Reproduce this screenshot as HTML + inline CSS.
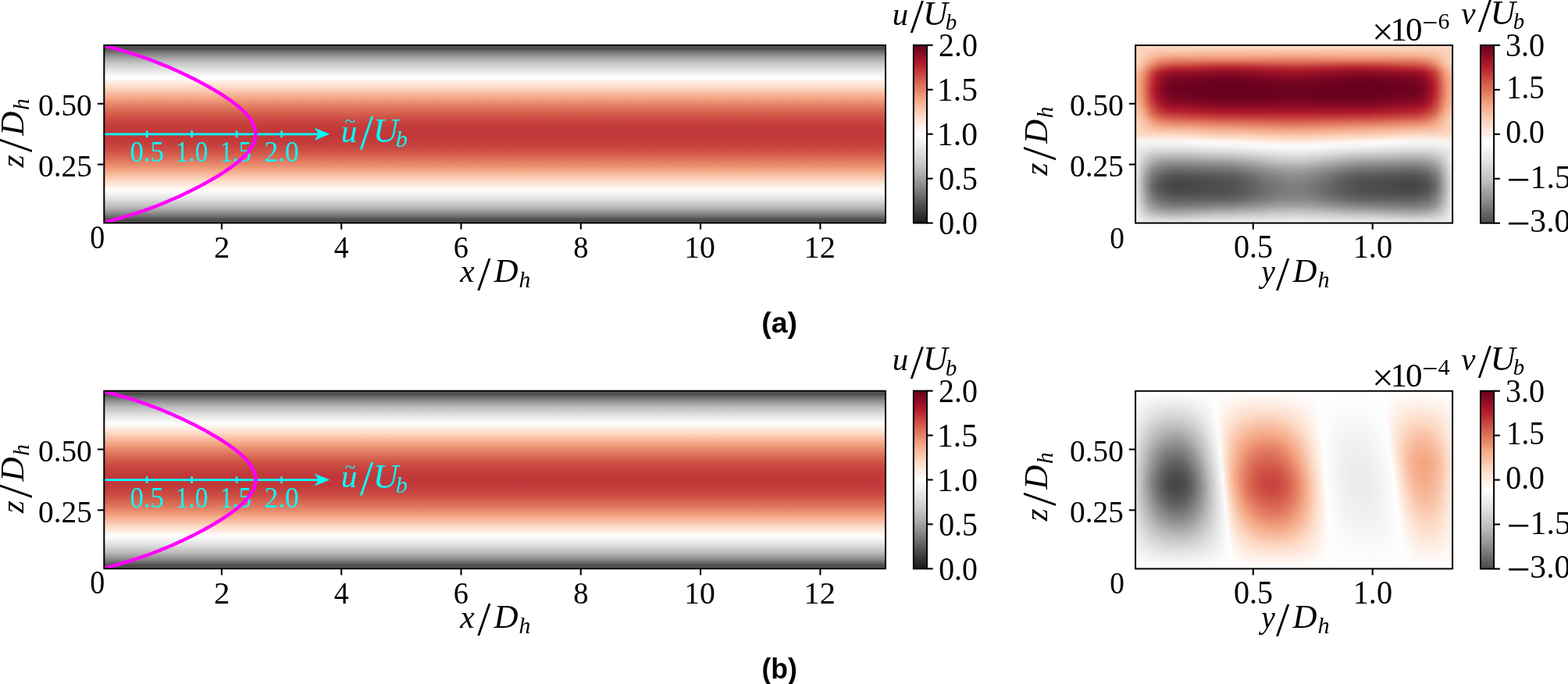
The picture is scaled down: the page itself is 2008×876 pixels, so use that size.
<!DOCTYPE html>
<html lang="en"><head><meta charset="utf-8"><title>Figure</title>
<style>
html,body{margin:0;padding:0;background:#fff}
body{width:2008px;height:876px;overflow:hidden;position:relative}
svg{display:block;position:absolute;left:0;top:0}
text{white-space:pre;font-kerning:none}
.fw{position:absolute;overflow:hidden}.fi{position:absolute}.fi i{position:absolute;top:0;height:100%;width:3.61px}
</style></head>
<body>
<div class="fw" style="left:1454.10px;top:58.00px;width:406.00px;height:227.65px"><div class="fi" style="left:-9.02px;top:-8px;width:424.04px;height:243.65px;filter:blur(1.2px)"><i style="left:0.0px;background:linear-gradient(#fdd9c4,#fdd9c4,#fcd5bf,#fcd5bf,#fcd5bf,#fcd5bf,#fcd5bf,#facab1,#f8bda1,#f7b799,#f7b596,#f6b394,#f6b191,#f6b191,#f6b394,#f7b799,#f8bb9e,#f9c4a9,#facab1,#fcd3bc,#fcd5bf,#fcd5bf,#fcd5bf,#fcd7c2,#feece1,#f8f8f8,#f0f0f0,#f0f0f0,#f0f0f0,#f0f0f0,#ededed,#ebebeb,#e9e9e9,#e7e7e7,#e6e6e6,#e5e5e5,#e5e5e5,#e6e6e6,#e7e7e7,#e9e9e9,#ebebeb,#ededed,#f0f0f0,#f0f0f0,#f0f0f0,#f0f0f0,#f0f0f0)"></i><i style="left:3.0px;background:linear-gradient(#fdd9c4,#fdd9c4,#fcd5bf,#fcd5bf,#fcd5bf,#fcd5bf,#fcd5bf,#facab1,#f8bda1,#f7b799,#f7b596,#f6b394,#f6b191,#f6b191,#f6b394,#f7b799,#f8bb9e,#f9c4a9,#facab1,#fcd3bc,#fcd5bf,#fcd5bf,#fcd5bf,#fcd7c2,#feece1,#f8f8f8,#f0f0f0,#f0f0f0,#f0f0f0,#f0f0f0,#ededed,#ebebeb,#e9e9e9,#e7e7e7,#e6e6e6,#e5e5e5,#e5e5e5,#e6e6e6,#e7e7e7,#e9e9e9,#ebebeb,#ededed,#f0f0f0,#f0f0f0,#f0f0f0,#f0f0f0,#f0f0f0)"></i><i style="left:6.0px;background:linear-gradient(#fdd9c4,#fdd9c4,#fcd5bf,#fcd5bf,#fcd5bf,#fcd5bf,#fcd5bf,#facab1,#f8bda1,#f7b799,#f7b596,#f6b394,#f6b191,#f6b191,#f6b394,#f7b799,#f8bb9e,#f9c4a9,#facab1,#fcd3bc,#fcd5bf,#fcd5bf,#fcd5bf,#fcd7c2,#feece1,#f8f8f8,#f0f0f0,#f0f0f0,#f0f0f0,#f0f0f0,#ededed,#ebebeb,#e9e9e9,#e7e7e7,#e6e6e6,#e5e5e5,#e5e5e5,#e6e6e6,#e7e7e7,#e9e9e9,#ebebeb,#ededed,#f0f0f0,#f0f0f0,#f0f0f0,#f0f0f0,#f0f0f0)"></i><i style="left:9.0px;background:linear-gradient(#fdd9c4,#fdd9c4,#fcd5bf,#fcd5bf,#fcd5bf,#fcd5bf,#fcd3bc,#f9c6ac,#f7b99c,#f6b394,#f6b191,#f6af8e,#f5ac8b,#f6af8e,#f6b191,#f6b394,#f7b99c,#f8bfa4,#f9c6ac,#fbd0b9,#fcd3bc,#fcd5bf,#fcd5bf,#fcd7c2,#feece1,#f8f8f8,#f0f0f0,#efefef,#ededed,#ededed,#ebebeb,#e7e7e7,#e5e5e5,#e4e4e4,#e2e2e2,#e1e1e1,#e1e1e1,#e2e2e2,#e4e4e4,#e5e5e5,#e7e7e7,#ebebeb,#ededed,#efefef,#efefef,#f0f0f0,#f0f0f0)"></i><i style="left:12.0px;background:linear-gradient(#fdd9c4,#fdd9c4,#fcd5bf,#fcd5bf,#fcd3bc,#fbd0b9,#fbccb4,#f8bfa4,#f6b191,#f5aa89,#f4a683,#f3a481,#f3a481,#f3a481,#f4a683,#f5aa89,#f6b191,#f7b799,#f8bfa4,#facab1,#fbceb7,#fbd0b9,#fcd3bc,#fcd7c2,#feece1,#f8f8f8,#efefef,#ebebeb,#e7e7e7,#e5e5e5,#e0e0e0,#dcdcdc,#d7d7d7,#d3d3d3,#d1d1d1,#d0d0d0,#d0d0d0,#d1d1d1,#d4d4d4,#d7d7d7,#dadada,#e0e0e0,#e5e5e5,#e9e9e9,#ededed,#f0f0f0,#f0f0f0)"></i><i style="left:15.0px;background:linear-gradient(#fdd9c4,#fdd9c4,#fcd5bf,#fcd3bc,#fbd0b9,#fbccb4,#f9c6ac,#f7b799,#f5a886,#f19e7d,#ef9979,#ee9677,#ee9677,#ee9677,#ef9979,#f19e7d,#f4a683,#f6af8e,#f7b799,#f9c4a9,#facab1,#fbceb7,#fcd3bc,#fcd7c2,#feece1,#f8f8f8,#ededed,#e7e7e7,#e1e1e1,#dadada,#d3d3d3,#cbcbcb,#c5c5c5,#c1c1c1,#bebebe,#bcbcbc,#bbbbbb,#bebebe,#c1c1c1,#c5c5c5,#cacaca,#d3d3d3,#dcdcdc,#e4e4e4,#ececec,#f0f0f0,#f0f0f0)"></i><i style="left:18.0px;background:linear-gradient(#fdd9c4,#fdd9c4,#fcd5bf,#fcd3bc,#fbccb4,#f9c4a9,#f8bda1,#f5aa89,#ee9677,#e98b6e,#e6866a,#e58368,#e48066,#e48066,#e58368,#e98b6e,#ec9374,#f2a17f,#f5aa89,#f7b99c,#f9c2a7,#fac8af,#fbceb7,#fcd7c2,#feece1,#f8f8f8,#ececec,#e5e5e5,#dcdcdc,#d1d1d1,#c8c8c8,#bfbfbf,#b7b7b7,#afafaf,#ababab,#a7a7a7,#a7a7a7,#ababab,#b1b1b1,#b7b7b7,#bebebe,#c8c8c8,#d3d3d3,#dfdfdf,#ebebeb,#f0f0f0,#f0f0f0)"></i><i style="left:21.1px;background:linear-gradient(#fdd9c4,#fdd9c4,#fcd5bf,#fbd0b9,#fac8af,#f8bda1,#f6b191,#ef9979,#e48066,#df765e,#dc6e57,#db6b55,#da6853,#da6853,#dc6e57,#df765e,#e37e64,#e98b6e,#f09c7b,#f5ac8b,#f7b99c,#f9c4a9,#fbccb4,#fcd7c2,#feece1,#f8f8f8,#ececec,#e2e2e2,#d6d6d6,#cacaca,#bebebe,#b3b3b3,#a7a7a7,#9f9f9f,#999999,#959595,#959595,#999999,#9f9f9f,#a7a7a7,#b1b1b1,#bebebe,#cbcbcb,#dadada,#eaeaea,#f0f0f0,#f0f0f0)"></i><i style="left:24.1px;background:linear-gradient(#fdd9c4,#fdd9c4,#fcd5bf,#fbceb7,#f9c4a9,#f7b596,#f4a683,#e8896c,#dc6e57,#d6604d,#d25849,#cf5246,#ce4f45,#cf5246,#d05548,#d6604d,#db6b55,#e17860,#e8896c,#f2a17f,#f6b191,#f8bda1,#facab1,#fcd7c2,#feece1,#f8f8f8,#ebebeb,#e0e0e0,#d0d0d0,#c2c2c2,#b5b5b5,#a5a5a5,#999999,#8f8f8f,#898989,#858585,#858585,#898989,#919191,#999999,#a3a3a3,#b5b5b5,#c5c5c5,#d6d6d6,#e9e9e9,#efefef,#efefef)"></i><i style="left:27.1px;background:linear-gradient(#fdd9c4,#fdd9c4,#fcd5bf,#fbccb4,#f8bfa4,#f6af8e,#ef9979,#e17860,#d35a4a,#cb4942,#c6413e,#c43b3c,#c2383a,#c2383a,#c53e3d,#cb4942,#d05548,#da6853,#e17860,#eb9172,#f5a886,#f7b799,#fac8af,#fcd7c2,#feece1,#f8f8f8,#ebebeb,#dddddd,#cdcdcd,#bebebe,#adadad,#9b9b9b,#8d8d8d,#828282,#7c7c7c,#777777,#757575,#7c7c7c,#858585,#8f8f8f,#999999,#ababab,#bfbfbf,#d3d3d3,#e7e7e7,#efefef,#efefef)"></i><i style="left:30.1px;background:linear-gradient(#fdd9c4,#fdd9c4,#fcd5bf,#fbccb4,#f8bb9e,#f5a886,#e98b6e,#da6853,#c94741,#c13639,#bb2a34,#ba2832,#b72230,#b82531,#bb2a34,#c13639,#c84440,#d05548,#da6853,#e58368,#f19e7d,#f6b394,#f9c6ac,#fcd7c2,#feece1,#f8f8f8,#eaeaea,#dcdcdc,#c8c8c8,#b7b7b7,#a5a5a5,#939393,#828282,#777777,#6e6e6e,#696969,#696969,#6e6e6e,#797979,#858585,#919191,#a3a3a3,#bbbbbb,#d0d0d0,#e7e7e7,#efefef,#efefef)"></i><i style="left:33.1px;background:linear-gradient(#fdd9c4,#fdd9c4,#fcd5bf,#facab1,#f7b99c,#f2a17f,#e58368,#d55d4c,#c2383a,#ba2832,#b41c2d,#b1182b,#ae172a,#ae172a,#b41c2d,#b82531,#c13639,#cb4942,#d55d4c,#e27b62,#ee9677,#f6af8e,#f9c4a9,#fcd7c2,#feece1,#f8f8f8,#eaeaea,#dadada,#c7c7c7,#b5b5b5,#9f9f9f,#8d8d8d,#7c7c7c,#707070,#676767,#636363,#606060,#676767,#737373,#7e7e7e,#8b8b8b,#9f9f9f,#b7b7b7,#cecece,#e6e6e6,#efefef,#efefef)"></i><i style="left:36.1px;background:linear-gradient(#fdd9c4,#fdd9c4,#fcd5bf,#facab1,#f7b799,#f09c7b,#e17860,#cf5246,#bb2a34,#b3192c,#a81529,#a21328,#9c1127,#9f1228,#a51429,#b1182b,#ba2832,#c43b3c,#cf5246,#dd7059,#eb9172,#f5aa89,#f9c2a7,#fcd7c2,#feece1,#f8f8f8,#eaeaea,#dadada,#c5c5c5,#b1b1b1,#9b9b9b,#898989,#777777,#696969,#606060,#5a5a5a,#5a5a5a,#606060,#6c6c6c,#777777,#878787,#9b9b9b,#b5b5b5,#cdcdcd,#e6e6e6,#efefef,#efefef)"></i><i style="left:39.1px;background:linear-gradient(#fdd9c4,#fdd9c4,#fcd5bf,#fac8af,#f7b596,#ee9677,#de735c,#cb4942,#b72230,#a81529,#9c1127,#960f27,#900d26,#930e26,#991027,#a81529,#b41c2d,#bf3338,#cb4942,#db6b55,#e98b6e,#f5a886,#f8bfa4,#fcd7c2,#feece1,#f8f8f8,#eaeaea,#d9d9d9,#c2c2c2,#adadad,#979797,#828282,#707070,#636363,#5a5a5a,#535353,#535353,#5a5a5a,#656565,#707070,#808080,#979797,#b1b1b1,#cbcbcb,#e6e6e6,#efefef,#efefef)"></i><i style="left:42.1px;background:linear-gradient(#fdd9c4,#fdd9c4,#fcd5bf,#fac8af,#f6b394,#ec9374,#dc6e57,#c6413e,#b3192c,#9c1127,#900d26,#8a0b25,#840924,#870a24,#900d26,#9c1127,#ae172a,#bb2a34,#c6413e,#d7634f,#e6866a,#f4a683,#f8bfa4,#fcd7c2,#feece1,#f8f8f8,#eaeaea,#d9d9d9,#c2c2c2,#ababab,#959595,#808080,#6e6e6e,#606060,#555555,#505050,#505050,#575757,#606060,#6e6e6e,#7e7e7e,#959595,#afafaf,#cacaca,#e6e6e6,#efefef,#efefef)"></i><i style="left:45.1px;background:linear-gradient(#fdd9c4,#fdd9c4,#fcd5bf,#fac8af,#f6b191,#eb9172,#da6853,#c43b3c,#ab162a,#960f27,#870a24,#810823,#7f0823,#7f0823,#870a24,#930e26,#a51429,#b82531,#c43b3c,#d6604d,#e58368,#f3a481,#f8bda1,#fcd7c2,#feece1,#f8f8f8,#eaeaea,#d7d7d7,#c1c1c1,#a9a9a9,#939393,#7e7e7e,#6c6c6c,#5c5c5c,#535353,#4e4e4e,#4c4c4c,#535353,#5e5e5e,#6c6c6c,#7c7c7c,#939393,#adadad,#cacaca,#e5e5e5,#efefef,#efefef)"></i><i style="left:48.1px;background:linear-gradient(#fdd9c4,#fdd9c4,#fcd5bf,#fac8af,#f6b191,#ea8e70,#d86551,#c13639,#a51429,#900d26,#810823,#7c0722,#760521,#790622,#810823,#8d0c25,#9f1228,#b61f2e,#c2383a,#d35a4a,#e48066,#f2a17f,#f8bda1,#fcd7c2,#feece1,#f8f8f8,#eaeaea,#d7d7d7,#c1c1c1,#a9a9a9,#919191,#7c7c7c,#676767,#5a5a5a,#505050,#4a4a4a,#4a4a4a,#505050,#5c5c5c,#696969,#797979,#919191,#adadad,#c8c8c8,#e5e5e5,#efefef,#efefef)"></i><i style="left:51.1px;background:linear-gradient(#fdd9c4,#fdd9c4,#fcd5bf,#fac8af,#f6af8e,#e98b6e,#d7634f,#bf3338,#a21328,#8a0b25,#7f0823,#760521,#730421,#730421,#7c0722,#8a0b25,#9c1127,#b41c2d,#bf3338,#d25849,#e37e64,#f2a17f,#f8bda1,#fcd7c2,#feece1,#f8f8f8,#eaeaea,#d7d7d7,#bfbfbf,#a7a7a7,#8f8f8f,#797979,#656565,#575757,#4e4e4e,#484848,#484848,#4e4e4e,#5a5a5a,#676767,#777777,#8f8f8f,#ababab,#c8c8c8,#e5e5e5,#efefef,#efefef)"></i><i style="left:54.1px;background:linear-gradient(#fdd9c4,#fdd9c4,#fcd5bf,#f9c6ac,#f6af8e,#e98b6e,#d6604d,#be3036,#9f1228,#870a24,#7c0722,#730421,#700320,#700320,#790622,#870a24,#991027,#b3192c,#bf3338,#d05548,#e27b62,#f2a17f,#f8bda1,#fcd7c2,#feece1,#f8f8f8,#eaeaea,#d7d7d7,#bfbfbf,#a7a7a7,#8f8f8f,#797979,#656565,#575757,#4c4c4c,#464646,#464646,#4c4c4c,#575757,#656565,#757575,#8f8f8f,#ababab,#c8c8c8,#e5e5e5,#efefef,#efefef)"></i><i style="left:57.1px;background:linear-gradient(#fdd9c4,#fdd9c4,#fcd5bf,#f9c6ac,#f6af8e,#e8896c,#d55d4c,#bd2d35,#9c1127,#840924,#790622,#700320,#6d0220,#6d0220,#760521,#840924,#960f27,#b1182b,#be3036,#d05548,#e27b62,#f19e7d,#f8bda1,#fcd7c2,#feece1,#f8f8f8,#eaeaea,#d6d6d6,#bfbfbf,#a5a5a5,#8f8f8f,#777777,#636363,#555555,#4c4c4c,#464646,#464646,#4c4c4c,#575757,#656565,#757575,#8d8d8d,#ababab,#c8c8c8,#e5e5e5,#efefef,#efefef)"></i><i style="left:60.1px;background:linear-gradient(#fdd9c4,#fdd9c4,#fcd5bf,#f9c6ac,#f6af8e,#e8896c,#d55d4c,#bd2d35,#9c1127,#840924,#790622,#700320,#6d0220,#6d0220,#760521,#840924,#960f27,#b1182b,#be3036,#d05548,#e27b62,#f19e7d,#f8bda1,#fcd7c2,#feece1,#f8f8f8,#e9e9e9,#d6d6d6,#bfbfbf,#a5a5a5,#8d8d8d,#777777,#636363,#555555,#4a4a4a,#464646,#464646,#4c4c4c,#575757,#656565,#757575,#8d8d8d,#a9a9a9,#c7c7c7,#e5e5e5,#efefef,#efefef)"></i><i style="left:63.2px;background:linear-gradient(#fdd9c4,#fdd9c4,#fcd5bf,#f9c6ac,#f6af8e,#e8896c,#d55d4c,#bd2d35,#9c1127,#840924,#790622,#700320,#6d0220,#6d0220,#760521,#840924,#960f27,#b1182b,#be3036,#d05548,#e27b62,#f19e7d,#f8bda1,#fcd7c2,#feece1,#f8f8f8,#e9e9e9,#d6d6d6,#bfbfbf,#a5a5a5,#8d8d8d,#777777,#636363,#555555,#4a4a4a,#464646,#444444,#4a4a4a,#555555,#656565,#757575,#8d8d8d,#a9a9a9,#c7c7c7,#e5e5e5,#efefef,#efefef)"></i><i style="left:66.2px;background:linear-gradient(#fdd9c4,#fdd9c4,#fcd5bf,#f9c6ac,#f6af8e,#e8896c,#d55d4c,#bd2d35,#9c1127,#840924,#760521,#700320,#6a011f,#6d0220,#760521,#810823,#960f27,#ae172a,#bd2d35,#cf5246,#e17860,#f19e7d,#f8bb9e,#fcd7c2,#feece1,#fafafa,#eaeaea,#d7d7d7,#bfbfbf,#a5a5a5,#8d8d8d,#777777,#636363,#555555,#4a4a4a,#464646,#464646,#4a4a4a,#555555,#656565,#757575,#8d8d8d,#ababab,#c8c8c8,#e5e5e5,#efefef,#efefef)"></i><i style="left:69.2px;background:linear-gradient(#fdd9c4,#fdd9c4,#fcd5bf,#f9c6ac,#f6af8e,#e8896c,#d55d4c,#bb2a34,#9c1127,#840924,#760521,#700320,#6a011f,#6d0220,#730421,#810823,#930e26,#ae172a,#bd2d35,#cf5246,#e17860,#f19e7d,#f8bb9e,#fcd5bf,#feece1,#fafafa,#eaeaea,#d7d7d7,#bfbfbf,#a7a7a7,#8f8f8f,#777777,#636363,#555555,#4a4a4a,#464646,#464646,#4c4c4c,#575757,#656565,#757575,#8f8f8f,#ababab,#c8c8c8,#e5e5e5,#efefef,#efefef)"></i><i style="left:72.2px;background:linear-gradient(#fddbc7,#fddbc7,#fcd5bf,#f9c6ac,#f6af8e,#e8896c,#d35a4a,#bb2a34,#991027,#810823,#760521,#700320,#6a011f,#6d0220,#730421,#810823,#930e26,#ae172a,#bd2d35,#cf5246,#e17860,#f09c7b,#f7b99c,#fcd5bf,#feebdf,#fbfbfb,#ebebeb,#d7d7d7,#c1c1c1,#a7a7a7,#8f8f8f,#777777,#656565,#555555,#4c4c4c,#464646,#464646,#4c4c4c,#575757,#656565,#757575,#8f8f8f,#ababab,#c8c8c8,#e6e6e6,#f0f0f0,#f0f0f0)"></i><i style="left:75.2px;background:linear-gradient(#fddbc7,#fddbc7,#fcd5bf,#f9c6ac,#f6af8e,#e8896c,#d35a4a,#bb2a34,#991027,#810823,#760521,#700320,#6a011f,#6d0220,#730421,#810823,#930e26,#ab162a,#bd2d35,#ce4f45,#df765e,#f09c7b,#f7b99c,#fcd5bf,#feebdf,#fbfbfb,#ebebeb,#d9d9d9,#c1c1c1,#a7a7a7,#8f8f8f,#777777,#656565,#555555,#4c4c4c,#484848,#464646,#4c4c4c,#575757,#656565,#757575,#8f8f8f,#adadad,#cacaca,#e6e6e6,#f0f0f0,#f0f0f0)"></i><i style="left:78.2px;background:linear-gradient(#fddbc7,#fddbc7,#fcd5bf,#f9c6ac,#f6af8e,#e8896c,#d35a4a,#ba2832,#991027,#810823,#730421,#6d0220,#6a011f,#6d0220,#730421,#7f0823,#900d26,#ab162a,#bb2a34,#ce4f45,#df765e,#f09c7b,#f7b99c,#fcd3bc,#feebdf,#fcfcfc,#ececec,#d9d9d9,#c1c1c1,#a7a7a7,#8f8f8f,#797979,#656565,#555555,#4c4c4c,#484848,#484848,#4c4c4c,#575757,#656565,#777777,#8f8f8f,#adadad,#cacaca,#e6e6e6,#f0f0f0,#f0f0f0)"></i><i style="left:81.2px;background:linear-gradient(#fddbc7,#fddbc7,#fcd5bf,#f9c6ac,#f6af8e,#e8896c,#d25849,#ba2832,#991027,#810823,#730421,#6d0220,#6a011f,#6d0220,#730421,#7f0823,#900d26,#ab162a,#bb2a34,#ce4f45,#df765e,#ef9979,#f7b799,#fcd3bc,#fee9dd,#fcfcfc,#ececec,#dadada,#c2c2c2,#a9a9a9,#8f8f8f,#797979,#656565,#575757,#4c4c4c,#484848,#484848,#4c4c4c,#575757,#656565,#777777,#919191,#afafaf,#cbcbcb,#e6e6e6,#f0f0f0,#f0f0f0)"></i><i style="left:84.2px;background:linear-gradient(#fddcc9,#fddcc9,#fcd7c2,#f9c6ac,#f5ac8b,#e8896c,#d25849,#ba2832,#960f27,#810823,#730421,#6d0220,#6a011f,#6a011f,#700320,#7f0823,#900d26,#a81529,#bb2a34,#cc4c44,#df765e,#ef9979,#f7b799,#fcd3bc,#fee9dd,#fdfdfd,#ececec,#dadada,#c2c2c2,#a9a9a9,#8f8f8f,#797979,#656565,#575757,#4c4c4c,#484848,#484848,#4c4c4c,#575757,#656565,#777777,#919191,#afafaf,#cbcbcb,#e6e6e6,#f0f0f0,#f0f0f0)"></i><i style="left:87.2px;background:linear-gradient(#fddcc9,#fddcc9,#fcd7c2,#f9c6ac,#f5ac8b,#e8896c,#d25849,#b82531,#960f27,#810823,#730421,#6d0220,#6a011f,#6a011f,#700320,#7c0722,#8d0c25,#a81529,#ba2832,#cc4c44,#de735c,#ef9979,#f7b799,#fbd0b9,#fee8db,#fdfdfd,#ededed,#dadada,#c4c4c4,#a9a9a9,#919191,#797979,#656565,#575757,#4e4e4e,#4a4a4a,#4a4a4a,#4c4c4c,#575757,#656565,#777777,#919191,#afafaf,#cbcbcb,#e7e7e7,#f0f0f0,#f0f0f0)"></i><i style="left:90.2px;background:linear-gradient(#fddcc9,#fddcc9,#fcd7c2,#f9c6ac,#f5ac8b,#e8896c,#d05548,#b82531,#960f27,#7f0823,#730421,#6d0220,#6a011f,#6a011f,#700320,#7c0722,#8d0c25,#a81529,#ba2832,#cc4c44,#de735c,#ee9677,#f7b596,#fbd0b9,#fee8db,#fefefe,#ededed,#dcdcdc,#c4c4c4,#a9a9a9,#919191,#797979,#676767,#575757,#4e4e4e,#4a4a4a,#4a4a4a,#4e4e4e,#575757,#656565,#797979,#939393,#b1b1b1,#cdcdcd,#e7e7e7,#f0f0f0,#f0f0f0)"></i><i style="left:93.2px;background:linear-gradient(#fddcc9,#fddcc9,#fcd7c2,#f9c6ac,#f5ac8b,#e8896c,#d05548,#b82531,#960f27,#7f0823,#700320,#6d0220,#67001f,#6a011f,#700320,#7c0722,#8d0c25,#a51429,#ba2832,#cb4942,#de735c,#ee9677,#f7b596,#fbd0b9,#fee8db,#fefefe,#efefef,#dcdcdc,#c4c4c4,#ababab,#919191,#797979,#676767,#575757,#4e4e4e,#4a4a4a,#4a4a4a,#4e4e4e,#575757,#656565,#797979,#939393,#b1b1b1,#cdcdcd,#e7e7e7,#f0f0f0,#f0f0f0)"></i><i style="left:96.2px;background:linear-gradient(#fddecb,#fddecb,#fcd7c2,#f9c6ac,#f5ac8b,#e8896c,#d05548,#b72230,#960f27,#7f0823,#700320,#6a011f,#67001f,#6a011f,#6d0220,#790622,#8a0b25,#a51429,#b82531,#cb4942,#dd7059,#ee9677,#f7b596,#fbceb7,#fee6d9,#fffefe,#efefef,#dddddd,#c5c5c5,#ababab,#919191,#7c7c7c,#676767,#575757,#4e4e4e,#4a4a4a,#4a4a4a,#4e4e4e,#575757,#676767,#797979,#939393,#b3b3b3,#cdcdcd,#e7e7e7,#f0f0f0,#f0f0f0)"></i><i style="left:99.2px;background:linear-gradient(#fddecb,#fddecb,#fcd7c2,#f9c6ac,#f5ac8b,#e8896c,#d05548,#b72230,#930e26,#7f0823,#700320,#6a011f,#67001f,#6a011f,#6d0220,#790622,#8a0b25,#a51429,#b82531,#cb4942,#dd7059,#ee9677,#f6b394,#fbceb7,#fee6d9,#fffefe,#efefef,#dddddd,#c5c5c5,#ababab,#919191,#7c7c7c,#676767,#5a5a5a,#4e4e4e,#4c4c4c,#4c4c4c,#4e4e4e,#575757,#676767,#797979,#959595,#b3b3b3,#cecece,#e7e7e7,#f0f0f0,#f0f0f0)"></i><i style="left:102.3px;background:linear-gradient(#fddecb,#fddecb,#fcd7c2,#f9c4a9,#f5ac8b,#e8896c,#cf5246,#b72230,#930e26,#7f0823,#700320,#6a011f,#67001f,#6a011f,#6d0220,#790622,#870a24,#a21328,#b82531,#c94741,#dd7059,#ec9374,#f6b394,#fbceb7,#fee6d9,#fffdfc,#f0f0f0,#dddddd,#c7c7c7,#ababab,#919191,#7c7c7c,#676767,#5a5a5a,#505050,#4c4c4c,#4c4c4c,#4e4e4e,#575757,#676767,#7c7c7c,#959595,#b3b3b3,#cecece,#e9e9e9,#f0f0f0,#f0f0f0)"></i><i style="left:105.3px;background:linear-gradient(#fddecb,#fddecb,#fcd7c2,#f9c4a9,#f5ac8b,#e8896c,#cf5246,#b61f2e,#930e26,#7c0722,#700320,#6a011f,#67001f,#6a011f,#6d0220,#760521,#870a24,#a21328,#b82531,#c94741,#dc6e57,#ec9374,#f6b394,#fbccb4,#fee5d6,#fffdfc,#f0f0f0,#dfdfdf,#c7c7c7,#adadad,#939393,#7c7c7c,#696969,#5a5a5a,#505050,#4c4c4c,#4c4c4c,#4e4e4e,#575757,#676767,#7c7c7c,#959595,#b5b5b5,#d0d0d0,#e9e9e9,#f0f0f0,#f0f0f0)"></i><i style="left:108.3px;background:linear-gradient(#fddfce,#fddfce,#fdd9c4,#f9c4a9,#f5ac8b,#e8896c,#cf5246,#b61f2e,#930e26,#7c0722,#6d0220,#6a011f,#67001f,#67001f,#6a011f,#760521,#870a24,#9f1228,#b72230,#c94741,#dc6e57,#ec9374,#f6b191,#fbccb4,#fee5d6,#fffbfa,#f1f1f1,#dfdfdf,#c7c7c7,#adadad,#939393,#7c7c7c,#696969,#5a5a5a,#505050,#4e4e4e,#4e4e4e,#4e4e4e,#5a5a5a,#676767,#7c7c7c,#979797,#b5b5b5,#d0d0d0,#e9e9e9,#f0f0f0,#f0f0f0)"></i><i style="left:111.3px;background:linear-gradient(#fddfce,#fddfce,#fdd9c4,#f9c4a9,#f5ac8b,#e8896c,#ce4f45,#b61f2e,#930e26,#7c0722,#6d0220,#6a011f,#67001f,#67001f,#6a011f,#760521,#840924,#9f1228,#b72230,#c84440,#dc6e57,#eb9172,#f6b191,#fbccb4,#fee5d6,#fffbfa,#f1f1f1,#dfdfdf,#c8c8c8,#adadad,#939393,#7c7c7c,#696969,#5a5a5a,#505050,#4e4e4e,#4e4e4e,#505050,#5a5a5a,#676767,#7c7c7c,#979797,#b7b7b7,#d0d0d0,#e9e9e9,#f0f0f0,#f0f0f0)"></i><i style="left:114.3px;background:linear-gradient(#fddfce,#fddfce,#fdd9c4,#f9c4a9,#f5ac8b,#e8896c,#ce4f45,#b41c2d,#900d26,#7c0722,#6d0220,#67001f,#67001f,#67001f,#6a011f,#730421,#840924,#9f1228,#b72230,#c84440,#db6b55,#eb9172,#f6af8e,#facab1,#fde3d4,#fffaf7,#f2f2f2,#e0e0e0,#c8c8c8,#adadad,#939393,#7e7e7e,#696969,#5a5a5a,#505050,#4e4e4e,#4e4e4e,#505050,#5a5a5a,#676767,#7c7c7c,#979797,#b7b7b7,#d1d1d1,#eaeaea,#f0f0f0,#f0f0f0)"></i><i style="left:117.3px;background:linear-gradient(#fddfce,#fddfce,#fdd9c4,#f9c4a9,#f5ac8b,#e8896c,#ce4f45,#b41c2d,#900d26,#7c0722,#6d0220,#67001f,#67001f,#67001f,#6a011f,#730421,#840924,#9c1127,#b61f2e,#c84440,#db6b55,#eb9172,#f6af8e,#facab1,#fde3d4,#fffaf7,#f2f2f2,#e0e0e0,#c8c8c8,#adadad,#939393,#7e7e7e,#696969,#5c5c5c,#535353,#4e4e4e,#4e4e4e,#505050,#5a5a5a,#676767,#7e7e7e,#979797,#b7b7b7,#d1d1d1,#eaeaea,#f0f0f0,#f0f0f0)"></i><i style="left:120.3px;background:linear-gradient(#fddfce,#fddfce,#fdd9c4,#f9c4a9,#f5ac8b,#e8896c,#ce4f45,#b41c2d,#900d26,#7c0722,#6d0220,#67001f,#67001f,#67001f,#6a011f,#730421,#840924,#9c1127,#b61f2e,#c84440,#db6b55,#eb9172,#f6af8e,#facab1,#fde3d4,#fffaf7,#f2f2f2,#e0e0e0,#c8c8c8,#afafaf,#939393,#7e7e7e,#696969,#5c5c5c,#535353,#4e4e4e,#4e4e4e,#505050,#5a5a5a,#676767,#7e7e7e,#999999,#b7b7b7,#d1d1d1,#eaeaea,#f0f0f0,#f0f0f0)"></i><i style="left:123.3px;background:linear-gradient(#fddfce,#fddfce,#fdd9c4,#f9c4a9,#f5ac8b,#e8896c,#ce4f45,#b41c2d,#900d26,#7c0722,#6d0220,#67001f,#67001f,#67001f,#6a011f,#730421,#840924,#9c1127,#b61f2e,#c84440,#db6b55,#eb9172,#f6af8e,#facab1,#fde3d4,#fffaf7,#f2f2f2,#e0e0e0,#cacaca,#afafaf,#959595,#7e7e7e,#6c6c6c,#5c5c5c,#535353,#505050,#505050,#505050,#5a5a5a,#676767,#7e7e7e,#999999,#b9b9b9,#d1d1d1,#eaeaea,#f0f0f0,#f0f0f0)"></i><i style="left:126.3px;background:linear-gradient(#fddfce,#fddfce,#fdd9c4,#f9c4a9,#f5ac8b,#e8896c,#ce4f45,#b41c2d,#900d26,#7c0722,#6d0220,#67001f,#67001f,#67001f,#6a011f,#730421,#840924,#9c1127,#b61f2e,#c84440,#db6b55,#eb9172,#f6af8e,#facab1,#fde3d4,#fff9f5,#f2f2f2,#e1e1e1,#cacaca,#afafaf,#959595,#7e7e7e,#6c6c6c,#5c5c5c,#535353,#505050,#505050,#505050,#5a5a5a,#696969,#7e7e7e,#999999,#b9b9b9,#d1d1d1,#eaeaea,#f0f0f0,#f0f0f0)"></i><i style="left:129.3px;background:linear-gradient(#fddfce,#fddfce,#fdd9c4,#f9c4a9,#f5ac8b,#e8896c,#ce4f45,#b41c2d,#900d26,#7c0722,#6d0220,#67001f,#67001f,#67001f,#6a011f,#730421,#840924,#9c1127,#b61f2e,#c84440,#db6b55,#ea8e70,#f6af8e,#facab1,#fde3d4,#fff9f5,#f2f2f2,#e1e1e1,#cacaca,#afafaf,#959595,#808080,#6c6c6c,#5e5e5e,#555555,#505050,#505050,#535353,#5c5c5c,#696969,#7e7e7e,#999999,#b9b9b9,#d1d1d1,#eaeaea,#f0f0f0,#f0f0f0)"></i><i style="left:132.3px;background:linear-gradient(#fddfce,#fddfce,#fdd9c4,#f9c4a9,#f5ac8b,#e8896c,#ce4f45,#b41c2d,#930e26,#7c0722,#6d0220,#67001f,#67001f,#67001f,#6a011f,#730421,#840924,#9c1127,#b61f2e,#c84440,#db6b55,#ea8e70,#f6af8e,#facab1,#fde2d2,#fff9f5,#f3f3f3,#e1e1e1,#cbcbcb,#b1b1b1,#979797,#808080,#6e6e6e,#5e5e5e,#555555,#535353,#535353,#535353,#5c5c5c,#696969,#808080,#999999,#b9b9b9,#d3d3d3,#eaeaea,#f0f0f0,#f0f0f0)"></i><i style="left:135.3px;background:linear-gradient(#fddfce,#fddfce,#fdd9c4,#f9c4a9,#f5ac8b,#e8896c,#ce4f45,#b41c2d,#930e26,#7c0722,#6d0220,#6a011f,#67001f,#67001f,#6a011f,#730421,#840924,#9c1127,#b61f2e,#c84440,#db6b55,#ea8e70,#f6af8e,#facab1,#fde2d2,#fff9f5,#f3f3f3,#e1e1e1,#cbcbcb,#b1b1b1,#979797,#828282,#707070,#606060,#575757,#535353,#535353,#555555,#5e5e5e,#6c6c6c,#808080,#9b9b9b,#b9b9b9,#d3d3d3,#eaeaea,#f0f0f0,#f0f0f0)"></i><i style="left:138.3px;background:linear-gradient(#fddfce,#fddfce,#fdd9c4,#f9c4a9,#f5ac8b,#e8896c,#ce4f45,#b41c2d,#930e26,#7c0722,#6d0220,#6a011f,#67001f,#67001f,#6a011f,#730421,#840924,#9c1127,#b61f2e,#c84440,#da6853,#ea8e70,#f5ac8b,#fac8af,#fde2d2,#fff9f5,#f3f3f3,#e2e2e2,#cdcdcd,#b3b3b3,#999999,#858585,#707070,#636363,#575757,#555555,#555555,#555555,#5e5e5e,#6c6c6c,#828282,#9b9b9b,#bbbbbb,#d3d3d3,#eaeaea,#f0f0f0,#f0f0f0)"></i><i style="left:141.3px;background:linear-gradient(#fddfce,#fddfce,#fdd9c4,#f9c4a9,#f5ac8b,#e8896c,#ce4f45,#b41c2d,#930e26,#7f0823,#700320,#6a011f,#67001f,#67001f,#6a011f,#730421,#840924,#9c1127,#b61f2e,#c84440,#da6853,#ea8e70,#f5ac8b,#fac8af,#fde2d2,#fff7f3,#f5f5f5,#e2e2e2,#cdcdcd,#b5b5b5,#9b9b9b,#858585,#737373,#636363,#5a5a5a,#575757,#575757,#575757,#606060,#6e6e6e,#828282,#9d9d9d,#bbbbbb,#d3d3d3,#eaeaea,#f1f1f1,#f1f1f1)"></i><i style="left:144.4px;background:linear-gradient(#fddfce,#fddfce,#fdd9c4,#f9c4a9,#f5ac8b,#e8896c,#ce4f45,#b61f2e,#930e26,#7f0823,#700320,#6a011f,#67001f,#67001f,#6a011f,#730421,#840924,#9c1127,#b61f2e,#c6413e,#da6853,#ea8e70,#f5ac8b,#fac8af,#fde1d0,#fff7f3,#f5f5f5,#e4e4e4,#cecece,#b7b7b7,#9d9d9d,#878787,#757575,#656565,#5c5c5c,#5a5a5a,#5a5a5a,#5a5a5a,#606060,#707070,#858585,#9d9d9d,#bcbcbc,#d4d4d4,#eaeaea,#f1f1f1,#f1f1f1)"></i><i style="left:147.4px;background:linear-gradient(#fddfce,#fddfce,#fdd9c4,#f9c4a9,#f5ac8b,#e8896c,#cf5246,#b61f2e,#960f27,#7f0823,#700320,#6a011f,#67001f,#6a011f,#6a011f,#760521,#840924,#9c1127,#b61f2e,#c6413e,#da6853,#e98b6e,#f5ac8b,#fac8af,#fde1d0,#fff7f3,#f6f6f6,#e4e4e4,#cecece,#b7b7b7,#9f9f9f,#898989,#777777,#676767,#5e5e5e,#5c5c5c,#5a5a5a,#5c5c5c,#636363,#707070,#858585,#9f9f9f,#bcbcbc,#d4d4d4,#eaeaea,#f1f1f1,#f1f1f1)"></i><i style="left:150.4px;background:linear-gradient(#fddfce,#fddfce,#fdd9c4,#f9c4a9,#f5aa89,#e8896c,#cf5246,#b61f2e,#960f27,#7f0823,#700320,#6a011f,#67001f,#6a011f,#6a011f,#760521,#840924,#9c1127,#b61f2e,#c6413e,#da6853,#e98b6e,#f5ac8b,#fac8af,#fde1d0,#fef6f1,#f6f6f6,#e5e5e5,#d0d0d0,#b9b9b9,#9f9f9f,#8b8b8b,#797979,#696969,#606060,#5e5e5e,#5c5c5c,#5e5e5e,#656565,#737373,#878787,#9f9f9f,#bebebe,#d4d4d4,#ebebeb,#f1f1f1,#f1f1f1)"></i><i style="left:153.4px;background:linear-gradient(#fddfce,#fddfce,#fdd9c4,#f9c4a9,#f5aa89,#e6866a,#cf5246,#b61f2e,#960f27,#810823,#730421,#6a011f,#67001f,#6a011f,#6a011f,#760521,#840924,#9f1228,#b61f2e,#c6413e,#da6853,#e98b6e,#f5aa89,#f9c6ac,#fddfce,#fef6f1,#f7f7f7,#e5e5e5,#d1d1d1,#bbbbbb,#a1a1a1,#8d8d8d,#7c7c7c,#6c6c6c,#636363,#606060,#5e5e5e,#5e5e5e,#676767,#757575,#898989,#a1a1a1,#bebebe,#d4d4d4,#ebebeb,#f1f1f1,#f1f1f1)"></i><i style="left:156.4px;background:linear-gradient(#fddfce,#fddfce,#fdd9c4,#f9c4a9,#f5aa89,#e6866a,#cf5246,#b61f2e,#960f27,#810823,#730421,#6a011f,#6a011f,#6a011f,#6a011f,#760521,#870a24,#9f1228,#b61f2e,#c6413e,#da6853,#e98b6e,#f5aa89,#f9c6ac,#fddfce,#fef6f1,#f7f7f7,#e6e6e6,#d3d3d3,#bcbcbc,#a3a3a3,#8f8f8f,#7e7e7e,#6e6e6e,#656565,#636363,#606060,#606060,#696969,#777777,#898989,#a3a3a3,#bfbfbf,#d6d6d6,#ebebeb,#f1f1f1,#f1f1f1)"></i><i style="left:159.4px;background:linear-gradient(#fddfce,#fddfce,#fdd9c4,#f9c4a9,#f5aa89,#e6866a,#d05548,#b72230,#991027,#810823,#730421,#6d0220,#6a011f,#6a011f,#6a011f,#760521,#870a24,#9f1228,#b61f2e,#c6413e,#d86551,#e98b6e,#f5aa89,#f9c6ac,#fddfce,#fef4ef,#f8f8f8,#e7e7e7,#d3d3d3,#bebebe,#a5a5a5,#919191,#808080,#707070,#676767,#656565,#636363,#636363,#6c6c6c,#777777,#8b8b8b,#a3a3a3,#bfbfbf,#d6d6d6,#ebebeb,#f1f1f1,#f1f1f1)"></i><i style="left:162.4px;background:linear-gradient(#fddfce,#fddfce,#fdd9c4,#f9c4a9,#f5aa89,#e6866a,#d05548,#b72230,#991027,#840924,#730421,#6d0220,#6a011f,#6a011f,#6a011f,#760521,#870a24,#9f1228,#b61f2e,#c6413e,#d86551,#e8896c,#f5aa89,#f9c6ac,#fddecb,#fef4ef,#f8f8f8,#e7e7e7,#d4d4d4,#bfbfbf,#a7a7a7,#939393,#828282,#737373,#696969,#676767,#656565,#656565,#6c6c6c,#797979,#8d8d8d,#a5a5a5,#c1c1c1,#d6d6d6,#ebebeb,#f1f1f1,#f1f1f1)"></i><i style="left:165.4px;background:linear-gradient(#fddfce,#fddfce,#fdd9c4,#f9c4a9,#f5aa89,#e6866a,#d05548,#b72230,#991027,#840924,#760521,#6d0220,#6a011f,#6a011f,#6a011f,#760521,#870a24,#9f1228,#b61f2e,#c6413e,#d86551,#e8896c,#f5aa89,#f9c4a9,#fddecb,#fef4ef,#fafafa,#e9e9e9,#d6d6d6,#c1c1c1,#ababab,#959595,#858585,#777777,#6e6e6e,#696969,#676767,#676767,#6e6e6e,#7c7c7c,#8d8d8d,#a7a7a7,#c1c1c1,#d7d7d7,#ebebeb,#f1f1f1,#f1f1f1)"></i><i style="left:168.4px;background:linear-gradient(#fddfce,#fddfce,#fdd9c4,#f9c4a9,#f5aa89,#e6866a,#d05548,#b72230,#9c1127,#840924,#760521,#6d0220,#6a011f,#6a011f,#6a011f,#760521,#870a24,#9f1228,#b61f2e,#c6413e,#d86551,#e8896c,#f5a886,#f9c4a9,#fddecb,#fef3ec,#fafafa,#eaeaea,#d7d7d7,#c2c2c2,#adadad,#979797,#878787,#797979,#707070,#6c6c6c,#696969,#696969,#707070,#7e7e7e,#8f8f8f,#a7a7a7,#c2c2c2,#d7d7d7,#ebebeb,#f2f2f2,#f2f2f2)"></i><i style="left:171.4px;background:linear-gradient(#fddfce,#fddfce,#fdd9c4,#f9c4a9,#f5aa89,#e6866a,#d05548,#b72230,#9c1127,#870a24,#760521,#6d0220,#6a011f,#6a011f,#6a011f,#760521,#870a24,#9f1228,#b61f2e,#c6413e,#d86551,#e8896c,#f5a886,#f9c4a9,#fddcc9,#fef3ec,#fbfbfb,#eaeaea,#d7d7d7,#c4c4c4,#afafaf,#999999,#898989,#7c7c7c,#737373,#6e6e6e,#6c6c6c,#6c6c6c,#737373,#808080,#919191,#a9a9a9,#c2c2c2,#d7d7d7,#ececec,#f2f2f2,#f2f2f2)"></i><i style="left:174.4px;background:linear-gradient(#fddfce,#fddfce,#fdd9c4,#f9c4a9,#f5aa89,#e6866a,#d25849,#b72230,#9c1127,#870a24,#760521,#6d0220,#6a011f,#6a011f,#6d0220,#760521,#870a24,#9f1228,#b61f2e,#c6413e,#d86551,#e6866a,#f5a886,#f9c4a9,#fddcc9,#fef3ec,#fbfbfb,#ebebeb,#d9d9d9,#c5c5c5,#b1b1b1,#9b9b9b,#8b8b8b,#7e7e7e,#757575,#707070,#6e6e6e,#6e6e6e,#757575,#808080,#939393,#a9a9a9,#c4c4c4,#d9d9d9,#ececec,#f2f2f2,#f2f2f2)"></i><i style="left:177.4px;background:linear-gradient(#fddfce,#fddfce,#fdd9c4,#f9c4a9,#f5aa89,#e6866a,#d25849,#b82531,#9c1127,#870a24,#790622,#700320,#6a011f,#6a011f,#6d0220,#760521,#870a24,#9f1228,#b61f2e,#c6413e,#d7634f,#e6866a,#f5a886,#f9c2a7,#fddbc7,#fef2ea,#fcfcfc,#ebebeb,#dadada,#c7c7c7,#b3b3b3,#9d9d9d,#8d8d8d,#808080,#777777,#737373,#707070,#707070,#777777,#828282,#939393,#ababab,#c4c4c4,#d9d9d9,#ececec,#f2f2f2,#f2f2f2)"></i><i style="left:180.4px;background:linear-gradient(#fddfce,#fddfce,#fdd9c4,#f9c4a9,#f5aa89,#e6866a,#d25849,#b82531,#9f1228,#870a24,#790622,#700320,#6a011f,#6d0220,#6d0220,#760521,#870a24,#9f1228,#b61f2e,#c6413e,#d7634f,#e6866a,#f4a683,#f9c2a7,#fddbc7,#fef2ea,#fcfcfc,#ececec,#dcdcdc,#c8c8c8,#b3b3b3,#9f9f9f,#8f8f8f,#828282,#797979,#757575,#737373,#737373,#777777,#858585,#959595,#adadad,#c5c5c5,#d9d9d9,#ececec,#f2f2f2,#f2f2f2)"></i><i style="left:183.5px;background:linear-gradient(#fddfce,#fddfce,#fdd9c4,#f9c4a9,#f5a886,#e6866a,#d25849,#b82531,#9f1228,#8a0b25,#790622,#700320,#6d0220,#6d0220,#6d0220,#760521,#870a24,#9f1228,#b61f2e,#c6413e,#d7634f,#e6866a,#f4a683,#f9c2a7,#fddbc7,#fef2ea,#fdfdfd,#ececec,#dcdcdc,#c8c8c8,#b5b5b5,#a1a1a1,#919191,#858585,#7c7c7c,#777777,#757575,#757575,#797979,#878787,#959595,#adadad,#c5c5c5,#dadada,#ececec,#f2f2f2,#f2f2f2)"></i><i style="left:186.5px;background:linear-gradient(#fddfce,#fddfce,#fdd9c4,#f9c4a9,#f5a886,#e6866a,#d25849,#b82531,#9f1228,#8a0b25,#790622,#700320,#6d0220,#6d0220,#6d0220,#790622,#8a0b25,#9f1228,#b61f2e,#c6413e,#d7634f,#e6866a,#f4a683,#f9c2a7,#fdd9c4,#fef0e8,#fdfdfd,#ededed,#dddddd,#cacaca,#b7b7b7,#a3a3a3,#939393,#878787,#7e7e7e,#777777,#757575,#777777,#7c7c7c,#878787,#979797,#afafaf,#c7c7c7,#dadada,#ececec,#f2f2f2,#f2f2f2)"></i><i style="left:189.5px;background:linear-gradient(#fddfce,#fddfce,#fdd9c4,#f9c4a9,#f5a886,#e58368,#d35a4a,#b82531,#9f1228,#8a0b25,#790622,#700320,#6d0220,#6d0220,#6d0220,#790622,#8a0b25,#9f1228,#b61f2e,#c6413e,#d7634f,#e58368,#f4a683,#f9c2a7,#fdd9c4,#fef0e8,#fdfdfd,#ededed,#dddddd,#cbcbcb,#b9b9b9,#a5a5a5,#959595,#898989,#808080,#797979,#777777,#777777,#7e7e7e,#898989,#999999,#afafaf,#c7c7c7,#dadada,#ececec,#f2f2f2,#f2f2f2)"></i><i style="left:192.5px;background:linear-gradient(#fddfce,#fddfce,#fdd9c4,#f9c4a9,#f5a886,#e58368,#d35a4a,#b82531,#a21328,#8a0b25,#7c0722,#700320,#6d0220,#6d0220,#6d0220,#790622,#8a0b25,#9f1228,#b61f2e,#c53e3d,#d7634f,#e58368,#f4a683,#f8bfa4,#fdd9c4,#fef0e8,#fefefe,#efefef,#dfdfdf,#cdcdcd,#bbbbbb,#a5a5a5,#959595,#898989,#808080,#7c7c7c,#797979,#797979,#7e7e7e,#898989,#999999,#b1b1b1,#c7c7c7,#dadada,#ececec,#f2f2f2,#f2f2f2)"></i><i style="left:195.5px;background:linear-gradient(#fddfce,#fddfce,#fdd9c4,#f9c4a9,#f5a886,#e58368,#d35a4a,#b82531,#a21328,#8d0c25,#7c0722,#700320,#6d0220,#6d0220,#6d0220,#790622,#8a0b25,#9f1228,#b61f2e,#c53e3d,#d7634f,#e58368,#f4a683,#f8bfa4,#fdd9c4,#feefe6,#fefefe,#efefef,#dfdfdf,#cdcdcd,#bbbbbb,#a7a7a7,#979797,#8b8b8b,#828282,#7e7e7e,#797979,#797979,#808080,#8b8b8b,#999999,#b1b1b1,#c8c8c8,#dcdcdc,#ededed,#f2f2f2,#f2f2f2)"></i><i style="left:198.5px;background:linear-gradient(#fddfce,#fddfce,#fdd9c4,#f9c4a9,#f5a886,#e58368,#d35a4a,#ba2832,#a21328,#8d0c25,#7c0722,#700320,#6d0220,#6d0220,#6d0220,#790622,#8a0b25,#9f1228,#b61f2e,#c53e3d,#d6604d,#e58368,#f4a683,#f8bfa4,#fdd9c4,#feefe6,#fefefe,#efefef,#e0e0e0,#cecece,#bcbcbc,#a9a9a9,#979797,#8d8d8d,#858585,#7e7e7e,#7c7c7c,#7c7c7c,#808080,#8b8b8b,#9b9b9b,#b1b1b1,#c8c8c8,#dcdcdc,#ededed,#f3f3f3,#f3f3f3)"></i><i style="left:201.5px;background:linear-gradient(#fddfce,#fddfce,#fdd9c4,#f9c4a9,#f5a886,#e58368,#d35a4a,#ba2832,#a21328,#8d0c25,#7c0722,#700320,#6d0220,#6d0220,#6d0220,#790622,#8a0b25,#9f1228,#b61f2e,#c53e3d,#d6604d,#e58368,#f3a481,#f8bfa4,#fcd7c2,#feefe6,#fefefe,#f0f0f0,#e0e0e0,#cecece,#bcbcbc,#a9a9a9,#999999,#8d8d8d,#858585,#7e7e7e,#7c7c7c,#7c7c7c,#808080,#8b8b8b,#9b9b9b,#b3b3b3,#c8c8c8,#dcdcdc,#ededed,#f3f3f3,#f3f3f3)"></i><i style="left:204.5px;background:linear-gradient(#fddfce,#fddfce,#fdd9c4,#f9c4a9,#f5a886,#e58368,#d35a4a,#ba2832,#a21328,#8d0c25,#7c0722,#700320,#6d0220,#6d0220,#6d0220,#790622,#8a0b25,#9f1228,#b61f2e,#c53e3d,#d6604d,#e58368,#f3a481,#f8bfa4,#fcd7c2,#feefe6,#fffefe,#f0f0f0,#e0e0e0,#cecece,#bcbcbc,#a9a9a9,#999999,#8d8d8d,#858585,#808080,#7e7e7e,#7e7e7e,#828282,#8d8d8d,#9b9b9b,#b3b3b3,#c8c8c8,#dcdcdc,#ededed,#f3f3f3,#f3f3f3)"></i><i style="left:207.5px;background:linear-gradient(#fddfce,#fddfce,#fdd9c4,#f9c4a9,#f5a886,#e58368,#d35a4a,#ba2832,#a21328,#8d0c25,#7c0722,#700320,#6d0220,#6d0220,#6d0220,#790622,#8a0b25,#9f1228,#b61f2e,#c53e3d,#d6604d,#e58368,#f3a481,#f8bfa4,#fcd7c2,#feefe6,#fffefe,#f0f0f0,#e0e0e0,#cecece,#bebebe,#a9a9a9,#999999,#8f8f8f,#878787,#808080,#7e7e7e,#7e7e7e,#828282,#8d8d8d,#9b9b9b,#b3b3b3,#c8c8c8,#dcdcdc,#ededed,#f3f3f3,#f3f3f3)"></i><i style="left:210.5px;background:linear-gradient(#fddfce,#fddfce,#fdd9c4,#f9c4a9,#f5a886,#e58368,#d35a4a,#ba2832,#a21328,#8d0c25,#7c0722,#700320,#6d0220,#6d0220,#6d0220,#790622,#8a0b25,#9f1228,#b61f2e,#c53e3d,#d6604d,#e58368,#f3a481,#f8bfa4,#fcd7c2,#feefe6,#fffefe,#f0f0f0,#e0e0e0,#d0d0d0,#bebebe,#ababab,#999999,#8f8f8f,#878787,#808080,#7e7e7e,#7e7e7e,#828282,#8d8d8d,#9b9b9b,#b3b3b3,#c8c8c8,#dcdcdc,#ededed,#f3f3f3,#f3f3f3)"></i><i style="left:213.5px;background:linear-gradient(#fddfce,#fddfce,#fdd9c4,#f9c4a9,#f5a886,#e58368,#d35a4a,#ba2832,#a21328,#8d0c25,#7c0722,#700320,#6d0220,#6d0220,#6d0220,#790622,#8a0b25,#9f1228,#b61f2e,#c53e3d,#d6604d,#e58368,#f3a481,#f8bfa4,#fcd7c2,#feefe6,#fffefe,#f0f0f0,#e0e0e0,#cecece,#bebebe,#a9a9a9,#999999,#8f8f8f,#878787,#808080,#7e7e7e,#7e7e7e,#828282,#8d8d8d,#9b9b9b,#b3b3b3,#c8c8c8,#dcdcdc,#ededed,#f3f3f3,#f3f3f3)"></i><i style="left:216.5px;background:linear-gradient(#fddfce,#fddfce,#fdd9c4,#f9c4a9,#f5a886,#e58368,#d35a4a,#ba2832,#a21328,#8d0c25,#7c0722,#700320,#6d0220,#6d0220,#6d0220,#790622,#8a0b25,#9f1228,#b61f2e,#c53e3d,#d6604d,#e58368,#f3a481,#f8bfa4,#fcd7c2,#feefe6,#fffefe,#f0f0f0,#e0e0e0,#cecece,#bcbcbc,#a9a9a9,#999999,#8d8d8d,#858585,#808080,#7e7e7e,#7e7e7e,#828282,#8d8d8d,#9b9b9b,#b3b3b3,#c8c8c8,#dcdcdc,#ededed,#f3f3f3,#f3f3f3)"></i><i style="left:219.5px;background:linear-gradient(#fddfce,#fddfce,#fdd9c4,#f9c4a9,#f5a886,#e58368,#d35a4a,#ba2832,#a21328,#8d0c25,#7c0722,#700320,#6d0220,#6d0220,#6d0220,#790622,#8a0b25,#9f1228,#b61f2e,#c53e3d,#d6604d,#e58368,#f3a481,#f8bfa4,#fcd7c2,#feefe6,#fefefe,#f0f0f0,#e0e0e0,#cecece,#bcbcbc,#a9a9a9,#999999,#8d8d8d,#858585,#7e7e7e,#7c7c7c,#7c7c7c,#808080,#8b8b8b,#9b9b9b,#b3b3b3,#c8c8c8,#dcdcdc,#ededed,#f3f3f3,#f3f3f3)"></i><i style="left:222.5px;background:linear-gradient(#fddfce,#fddfce,#fdd9c4,#f9c4a9,#f5a886,#e58368,#d35a4a,#ba2832,#a21328,#8d0c25,#7c0722,#700320,#6d0220,#6d0220,#6d0220,#790622,#8a0b25,#9f1228,#b61f2e,#c53e3d,#d6604d,#e58368,#f4a683,#f8bfa4,#fdd9c4,#feefe6,#fefefe,#efefef,#e0e0e0,#cecece,#bcbcbc,#a9a9a9,#979797,#8d8d8d,#858585,#7e7e7e,#7c7c7c,#7c7c7c,#808080,#8b8b8b,#9b9b9b,#b1b1b1,#c8c8c8,#dcdcdc,#ededed,#f3f3f3,#f3f3f3)"></i><i style="left:225.6px;background:linear-gradient(#fddfce,#fddfce,#fdd9c4,#f9c4a9,#f5a886,#e58368,#d35a4a,#b82531,#a21328,#8d0c25,#7c0722,#700320,#6d0220,#6d0220,#6d0220,#790622,#8a0b25,#9f1228,#b61f2e,#c53e3d,#d7634f,#e58368,#f4a683,#f8bfa4,#fdd9c4,#feefe6,#fefefe,#efefef,#dfdfdf,#cdcdcd,#bbbbbb,#a7a7a7,#979797,#8b8b8b,#828282,#7e7e7e,#797979,#797979,#808080,#8b8b8b,#999999,#b1b1b1,#c8c8c8,#dcdcdc,#ededed,#f2f2f2,#f2f2f2)"></i><i style="left:228.6px;background:linear-gradient(#fddfce,#fddfce,#fdd9c4,#f9c4a9,#f5a886,#e58368,#d35a4a,#b82531,#a21328,#8a0b25,#7c0722,#700320,#6d0220,#6d0220,#6d0220,#790622,#8a0b25,#9f1228,#b61f2e,#c53e3d,#d7634f,#e58368,#f4a683,#f8bfa4,#fdd9c4,#fef0e8,#fefefe,#efefef,#dfdfdf,#cdcdcd,#bbbbbb,#a5a5a5,#959595,#898989,#808080,#7c7c7c,#797979,#797979,#7e7e7e,#898989,#999999,#b1b1b1,#c7c7c7,#dadada,#ececec,#f2f2f2,#f2f2f2)"></i><i style="left:231.6px;background:linear-gradient(#fddfce,#fddfce,#fdd9c4,#f9c4a9,#f5a886,#e58368,#d35a4a,#b82531,#9f1228,#8a0b25,#790622,#700320,#6d0220,#6d0220,#6d0220,#790622,#8a0b25,#9f1228,#b61f2e,#c6413e,#d7634f,#e58368,#f4a683,#f9c2a7,#fdd9c4,#fef0e8,#fdfdfd,#ededed,#dddddd,#cbcbcb,#b9b9b9,#a5a5a5,#959595,#898989,#808080,#797979,#777777,#777777,#7e7e7e,#898989,#999999,#afafaf,#c7c7c7,#dadada,#ececec,#f2f2f2,#f2f2f2)"></i><i style="left:234.6px;background:linear-gradient(#fddfce,#fddfce,#fdd9c4,#f9c4a9,#f5a886,#e6866a,#d25849,#b82531,#9f1228,#8a0b25,#790622,#700320,#6d0220,#6d0220,#6d0220,#790622,#8a0b25,#9f1228,#b61f2e,#c6413e,#d7634f,#e6866a,#f4a683,#f9c2a7,#fdd9c4,#fef0e8,#fdfdfd,#ededed,#dddddd,#cacaca,#b7b7b7,#a3a3a3,#939393,#878787,#7e7e7e,#777777,#757575,#777777,#7c7c7c,#878787,#979797,#afafaf,#c7c7c7,#dadada,#ececec,#f2f2f2,#f2f2f2)"></i><i style="left:237.6px;background:linear-gradient(#fddfce,#fddfce,#fdd9c4,#f9c4a9,#f5a886,#e6866a,#d25849,#b82531,#9f1228,#8a0b25,#790622,#700320,#6d0220,#6d0220,#6d0220,#760521,#870a24,#9f1228,#b61f2e,#c6413e,#d7634f,#e6866a,#f4a683,#f9c2a7,#fddbc7,#fef2ea,#fdfdfd,#ececec,#dcdcdc,#c8c8c8,#b5b5b5,#a1a1a1,#919191,#858585,#7c7c7c,#777777,#757575,#757575,#797979,#878787,#959595,#adadad,#c5c5c5,#dadada,#ececec,#f2f2f2,#f2f2f2)"></i><i style="left:240.6px;background:linear-gradient(#fddfce,#fddfce,#fdd9c4,#f9c4a9,#f5aa89,#e6866a,#d25849,#b82531,#9f1228,#870a24,#790622,#700320,#6a011f,#6d0220,#6d0220,#760521,#870a24,#9f1228,#b61f2e,#c6413e,#d7634f,#e6866a,#f4a683,#f9c2a7,#fddbc7,#fef2ea,#fcfcfc,#ececec,#dcdcdc,#c8c8c8,#b3b3b3,#9f9f9f,#8f8f8f,#828282,#797979,#757575,#737373,#737373,#777777,#858585,#959595,#adadad,#c5c5c5,#d9d9d9,#ececec,#f2f2f2,#f2f2f2)"></i><i style="left:243.6px;background:linear-gradient(#fddfce,#fddfce,#fdd9c4,#f9c4a9,#f5aa89,#e6866a,#d25849,#b82531,#9c1127,#870a24,#790622,#700320,#6a011f,#6a011f,#6d0220,#760521,#870a24,#9f1228,#b61f2e,#c6413e,#d7634f,#e6866a,#f5a886,#f9c2a7,#fddbc7,#fef2ea,#fcfcfc,#ebebeb,#dadada,#c7c7c7,#b3b3b3,#9d9d9d,#8d8d8d,#808080,#777777,#737373,#707070,#707070,#777777,#828282,#939393,#ababab,#c4c4c4,#d9d9d9,#ececec,#f2f2f2,#f2f2f2)"></i><i style="left:246.6px;background:linear-gradient(#fddfce,#fddfce,#fdd9c4,#f9c4a9,#f5aa89,#e6866a,#d25849,#b72230,#9c1127,#870a24,#760521,#6d0220,#6a011f,#6a011f,#6d0220,#760521,#870a24,#9f1228,#b61f2e,#c6413e,#d86551,#e6866a,#f5a886,#f9c4a9,#fddcc9,#fef3ec,#fbfbfb,#ebebeb,#d9d9d9,#c5c5c5,#b1b1b1,#9b9b9b,#8b8b8b,#7e7e7e,#757575,#707070,#6e6e6e,#6e6e6e,#757575,#808080,#939393,#a9a9a9,#c4c4c4,#d9d9d9,#ececec,#f2f2f2,#f2f2f2)"></i><i style="left:249.6px;background:linear-gradient(#fddfce,#fddfce,#fdd9c4,#f9c4a9,#f5aa89,#e6866a,#d05548,#b72230,#9c1127,#870a24,#760521,#6d0220,#6a011f,#6a011f,#6a011f,#760521,#870a24,#9f1228,#b61f2e,#c6413e,#d86551,#e8896c,#f5a886,#f9c4a9,#fddcc9,#fef3ec,#fbfbfb,#eaeaea,#d7d7d7,#c4c4c4,#afafaf,#999999,#898989,#7c7c7c,#737373,#6e6e6e,#6c6c6c,#6c6c6c,#737373,#808080,#919191,#a9a9a9,#c2c2c2,#d7d7d7,#ececec,#f2f2f2,#f2f2f2)"></i><i style="left:252.6px;background:linear-gradient(#fddfce,#fddfce,#fdd9c4,#f9c4a9,#f5aa89,#e6866a,#d05548,#b72230,#9c1127,#840924,#760521,#6d0220,#6a011f,#6a011f,#6a011f,#760521,#870a24,#9f1228,#b61f2e,#c6413e,#d86551,#e8896c,#f5a886,#f9c4a9,#fddecb,#fef3ec,#fafafa,#eaeaea,#d7d7d7,#c2c2c2,#adadad,#979797,#878787,#797979,#707070,#6c6c6c,#696969,#696969,#707070,#7e7e7e,#8f8f8f,#a7a7a7,#c2c2c2,#d7d7d7,#ebebeb,#f2f2f2,#f2f2f2)"></i><i style="left:255.6px;background:linear-gradient(#fddfce,#fddfce,#fdd9c4,#f9c4a9,#f5aa89,#e6866a,#d05548,#b72230,#991027,#840924,#760521,#6d0220,#6a011f,#6a011f,#6a011f,#760521,#870a24,#9f1228,#b61f2e,#c6413e,#d86551,#e8896c,#f5aa89,#f9c4a9,#fddecb,#fef4ef,#fafafa,#e9e9e9,#d6d6d6,#c1c1c1,#ababab,#959595,#858585,#777777,#6e6e6e,#696969,#676767,#676767,#6e6e6e,#7c7c7c,#8d8d8d,#a7a7a7,#c1c1c1,#d7d7d7,#ebebeb,#f1f1f1,#f1f1f1)"></i><i style="left:258.6px;background:linear-gradient(#fddfce,#fddfce,#fdd9c4,#f9c4a9,#f5aa89,#e6866a,#d05548,#b72230,#991027,#840924,#730421,#6d0220,#6a011f,#6a011f,#6a011f,#760521,#870a24,#9f1228,#b61f2e,#c6413e,#d86551,#e8896c,#f5aa89,#f9c6ac,#fddecb,#fef4ef,#f8f8f8,#e7e7e7,#d4d4d4,#bfbfbf,#a7a7a7,#939393,#828282,#737373,#696969,#676767,#656565,#656565,#6c6c6c,#797979,#8d8d8d,#a5a5a5,#c1c1c1,#d6d6d6,#ebebeb,#f1f1f1,#f1f1f1)"></i><i style="left:261.6px;background:linear-gradient(#fddfce,#fddfce,#fdd9c4,#f9c4a9,#f5aa89,#e6866a,#d05548,#b72230,#991027,#810823,#730421,#6d0220,#6a011f,#6a011f,#6a011f,#760521,#870a24,#9f1228,#b61f2e,#c6413e,#d86551,#e98b6e,#f5aa89,#f9c6ac,#fddfce,#fef4ef,#f8f8f8,#e7e7e7,#d3d3d3,#bebebe,#a5a5a5,#919191,#808080,#707070,#676767,#656565,#636363,#636363,#6c6c6c,#777777,#8b8b8b,#a3a3a3,#bfbfbf,#d6d6d6,#ebebeb,#f1f1f1,#f1f1f1)"></i><i style="left:264.7px;background:linear-gradient(#fddfce,#fddfce,#fdd9c4,#f9c4a9,#f5aa89,#e6866a,#cf5246,#b61f2e,#960f27,#810823,#730421,#6a011f,#6a011f,#6a011f,#6a011f,#760521,#870a24,#9f1228,#b61f2e,#c6413e,#da6853,#e98b6e,#f5aa89,#f9c6ac,#fddfce,#fef6f1,#f7f7f7,#e6e6e6,#d3d3d3,#bcbcbc,#a3a3a3,#8f8f8f,#7e7e7e,#6e6e6e,#656565,#636363,#606060,#606060,#696969,#777777,#898989,#a3a3a3,#bfbfbf,#d6d6d6,#ebebeb,#f1f1f1,#f1f1f1)"></i><i style="left:267.7px;background:linear-gradient(#fddfce,#fddfce,#fdd9c4,#f9c4a9,#f5aa89,#e6866a,#cf5246,#b61f2e,#960f27,#810823,#730421,#6a011f,#67001f,#6a011f,#6a011f,#760521,#840924,#9f1228,#b61f2e,#c6413e,#da6853,#e98b6e,#f5aa89,#f9c6ac,#fddfce,#fef6f1,#f7f7f7,#e5e5e5,#d1d1d1,#bbbbbb,#a1a1a1,#8d8d8d,#7c7c7c,#6c6c6c,#636363,#606060,#5e5e5e,#5e5e5e,#676767,#757575,#898989,#a1a1a1,#bebebe,#d4d4d4,#ebebeb,#f1f1f1,#f1f1f1)"></i><i style="left:270.7px;background:linear-gradient(#fddfce,#fddfce,#fdd9c4,#f9c4a9,#f5aa89,#e8896c,#cf5246,#b61f2e,#960f27,#7f0823,#700320,#6a011f,#67001f,#6a011f,#6a011f,#760521,#840924,#9c1127,#b61f2e,#c6413e,#da6853,#e98b6e,#f5ac8b,#fac8af,#fde1d0,#fef6f1,#f6f6f6,#e5e5e5,#d0d0d0,#b9b9b9,#9f9f9f,#8b8b8b,#797979,#696969,#606060,#5e5e5e,#5c5c5c,#5e5e5e,#656565,#737373,#878787,#9f9f9f,#bebebe,#d4d4d4,#ebebeb,#f1f1f1,#f1f1f1)"></i><i style="left:273.7px;background:linear-gradient(#fddfce,#fddfce,#fdd9c4,#f9c4a9,#f5ac8b,#e8896c,#cf5246,#b61f2e,#960f27,#7f0823,#700320,#6a011f,#67001f,#6a011f,#6a011f,#760521,#840924,#9c1127,#b61f2e,#c6413e,#da6853,#e98b6e,#f5ac8b,#fac8af,#fde1d0,#fff7f3,#f6f6f6,#e4e4e4,#cecece,#b7b7b7,#9f9f9f,#898989,#777777,#676767,#5e5e5e,#5c5c5c,#5a5a5a,#5c5c5c,#636363,#707070,#858585,#9f9f9f,#bcbcbc,#d4d4d4,#eaeaea,#f1f1f1,#f1f1f1)"></i><i style="left:276.7px;background:linear-gradient(#fddfce,#fddfce,#fdd9c4,#f9c4a9,#f5ac8b,#e8896c,#ce4f45,#b61f2e,#930e26,#7f0823,#700320,#6a011f,#67001f,#67001f,#6a011f,#730421,#840924,#9c1127,#b61f2e,#c6413e,#da6853,#ea8e70,#f5ac8b,#fac8af,#fde1d0,#fff7f3,#f5f5f5,#e4e4e4,#cecece,#b7b7b7,#9d9d9d,#878787,#757575,#656565,#5c5c5c,#5a5a5a,#5a5a5a,#5a5a5a,#606060,#707070,#858585,#9d9d9d,#bcbcbc,#d4d4d4,#eaeaea,#f1f1f1,#f1f1f1)"></i><i style="left:279.7px;background:linear-gradient(#fddfce,#fddfce,#fdd9c4,#f9c4a9,#f5ac8b,#e8896c,#ce4f45,#b41c2d,#930e26,#7f0823,#700320,#6a011f,#67001f,#67001f,#6a011f,#730421,#840924,#9c1127,#b61f2e,#c84440,#da6853,#ea8e70,#f5ac8b,#fac8af,#fde2d2,#fff7f3,#f5f5f5,#e2e2e2,#cdcdcd,#b5b5b5,#9b9b9b,#858585,#737373,#636363,#5a5a5a,#575757,#575757,#575757,#606060,#6e6e6e,#828282,#9d9d9d,#bbbbbb,#d3d3d3,#eaeaea,#f1f1f1,#f1f1f1)"></i><i style="left:282.7px;background:linear-gradient(#fddfce,#fddfce,#fdd9c4,#f9c4a9,#f5ac8b,#e8896c,#ce4f45,#b41c2d,#930e26,#7c0722,#6d0220,#6a011f,#67001f,#67001f,#6a011f,#730421,#840924,#9c1127,#b61f2e,#c84440,#da6853,#ea8e70,#f5ac8b,#fac8af,#fde2d2,#fff9f5,#f3f3f3,#e2e2e2,#cdcdcd,#b3b3b3,#999999,#858585,#707070,#636363,#575757,#555555,#555555,#555555,#5e5e5e,#6c6c6c,#828282,#9b9b9b,#bbbbbb,#d3d3d3,#eaeaea,#f0f0f0,#f0f0f0)"></i><i style="left:285.7px;background:linear-gradient(#fddfce,#fddfce,#fdd9c4,#f9c4a9,#f5ac8b,#e8896c,#ce4f45,#b41c2d,#930e26,#7c0722,#6d0220,#6a011f,#67001f,#67001f,#6a011f,#730421,#840924,#9c1127,#b61f2e,#c84440,#db6b55,#ea8e70,#f6af8e,#facab1,#fde2d2,#fff9f5,#f3f3f3,#e1e1e1,#cbcbcb,#b1b1b1,#979797,#828282,#707070,#606060,#575757,#535353,#535353,#555555,#5e5e5e,#6c6c6c,#808080,#9b9b9b,#b9b9b9,#d3d3d3,#eaeaea,#f0f0f0,#f0f0f0)"></i><i style="left:288.7px;background:linear-gradient(#fddfce,#fddfce,#fdd9c4,#f9c4a9,#f5ac8b,#e8896c,#ce4f45,#b41c2d,#930e26,#7c0722,#6d0220,#67001f,#67001f,#67001f,#6a011f,#730421,#840924,#9c1127,#b61f2e,#c84440,#db6b55,#ea8e70,#f6af8e,#facab1,#fde2d2,#fff9f5,#f3f3f3,#e1e1e1,#cbcbcb,#b1b1b1,#979797,#808080,#6e6e6e,#5e5e5e,#555555,#535353,#535353,#535353,#5c5c5c,#696969,#808080,#999999,#b9b9b9,#d3d3d3,#eaeaea,#f0f0f0,#f0f0f0)"></i><i style="left:291.7px;background:linear-gradient(#fddfce,#fddfce,#fdd9c4,#f9c4a9,#f5ac8b,#e8896c,#ce4f45,#b41c2d,#900d26,#7c0722,#6d0220,#67001f,#67001f,#67001f,#6a011f,#730421,#840924,#9c1127,#b61f2e,#c84440,#db6b55,#ea8e70,#f6af8e,#facab1,#fde3d4,#fff9f5,#f2f2f2,#e1e1e1,#cacaca,#afafaf,#959595,#808080,#6c6c6c,#5e5e5e,#555555,#505050,#505050,#535353,#5c5c5c,#696969,#7e7e7e,#999999,#b9b9b9,#d1d1d1,#eaeaea,#f0f0f0,#f0f0f0)"></i><i style="left:294.7px;background:linear-gradient(#fddfce,#fddfce,#fdd9c4,#f9c4a9,#f5ac8b,#e8896c,#ce4f45,#b41c2d,#900d26,#7c0722,#6d0220,#67001f,#67001f,#67001f,#6a011f,#730421,#840924,#9c1127,#b61f2e,#c84440,#db6b55,#eb9172,#f6af8e,#facab1,#fde3d4,#fff9f5,#f2f2f2,#e1e1e1,#cacaca,#afafaf,#959595,#7e7e7e,#6c6c6c,#5c5c5c,#535353,#505050,#505050,#505050,#5a5a5a,#696969,#7e7e7e,#999999,#b9b9b9,#d1d1d1,#eaeaea,#f0f0f0,#f0f0f0)"></i><i style="left:297.7px;background:linear-gradient(#fddfce,#fddfce,#fdd9c4,#f9c4a9,#f5ac8b,#e8896c,#ce4f45,#b41c2d,#900d26,#7c0722,#6d0220,#67001f,#67001f,#67001f,#6a011f,#730421,#840924,#9c1127,#b61f2e,#c84440,#db6b55,#eb9172,#f6af8e,#facab1,#fde3d4,#fffaf7,#f2f2f2,#e0e0e0,#cacaca,#afafaf,#959595,#7e7e7e,#6c6c6c,#5c5c5c,#535353,#505050,#505050,#505050,#5a5a5a,#676767,#7e7e7e,#999999,#b9b9b9,#d1d1d1,#eaeaea,#f0f0f0,#f0f0f0)"></i><i style="left:300.7px;background:linear-gradient(#fddfce,#fddfce,#fdd9c4,#f9c4a9,#f5ac8b,#e8896c,#ce4f45,#b41c2d,#900d26,#7c0722,#6d0220,#67001f,#67001f,#67001f,#6a011f,#730421,#840924,#9c1127,#b61f2e,#c84440,#db6b55,#eb9172,#f6af8e,#facab1,#fde3d4,#fffaf7,#f2f2f2,#e0e0e0,#c8c8c8,#afafaf,#939393,#7e7e7e,#696969,#5c5c5c,#535353,#4e4e4e,#4e4e4e,#505050,#5a5a5a,#676767,#7e7e7e,#999999,#b7b7b7,#d1d1d1,#eaeaea,#f0f0f0,#f0f0f0)"></i><i style="left:303.7px;background:linear-gradient(#fddfce,#fddfce,#fdd9c4,#f9c4a9,#f5ac8b,#e8896c,#ce4f45,#b41c2d,#900d26,#7c0722,#6d0220,#67001f,#67001f,#67001f,#6a011f,#730421,#840924,#9c1127,#b61f2e,#c84440,#db6b55,#eb9172,#f6af8e,#facab1,#fde3d4,#fffaf7,#f2f2f2,#e0e0e0,#c8c8c8,#adadad,#939393,#7e7e7e,#696969,#5c5c5c,#535353,#4e4e4e,#4e4e4e,#505050,#5a5a5a,#676767,#7e7e7e,#979797,#b7b7b7,#d1d1d1,#eaeaea,#f0f0f0,#f0f0f0)"></i><i style="left:306.8px;background:linear-gradient(#fddfce,#fddfce,#fdd9c4,#f9c4a9,#f5ac8b,#e8896c,#ce4f45,#b41c2d,#900d26,#7c0722,#6d0220,#67001f,#67001f,#67001f,#6a011f,#730421,#840924,#9f1228,#b72230,#c84440,#db6b55,#eb9172,#f6af8e,#facab1,#fde3d4,#fffaf7,#f2f2f2,#e0e0e0,#c8c8c8,#adadad,#939393,#7e7e7e,#696969,#5a5a5a,#505050,#4e4e4e,#4e4e4e,#505050,#5a5a5a,#676767,#7c7c7c,#979797,#b7b7b7,#d1d1d1,#eaeaea,#f0f0f0,#f0f0f0)"></i><i style="left:309.8px;background:linear-gradient(#fddfce,#fddfce,#fdd9c4,#f9c4a9,#f5ac8b,#e8896c,#ce4f45,#b61f2e,#930e26,#7c0722,#6d0220,#6a011f,#67001f,#67001f,#6a011f,#760521,#840924,#9f1228,#b72230,#c84440,#dc6e57,#eb9172,#f6b191,#fbccb4,#fee5d6,#fffbfa,#f1f1f1,#dfdfdf,#c8c8c8,#adadad,#939393,#7c7c7c,#696969,#5a5a5a,#505050,#4e4e4e,#4e4e4e,#505050,#5a5a5a,#676767,#7c7c7c,#979797,#b7b7b7,#d0d0d0,#e9e9e9,#f0f0f0,#f0f0f0)"></i><i style="left:312.8px;background:linear-gradient(#fddfce,#fddfce,#fdd9c4,#f9c4a9,#f5ac8b,#e8896c,#cf5246,#b61f2e,#930e26,#7c0722,#6d0220,#6a011f,#67001f,#67001f,#6a011f,#760521,#870a24,#9f1228,#b72230,#c94741,#dc6e57,#ec9374,#f6b191,#fbccb4,#fee5d6,#fffbfa,#f1f1f1,#dfdfdf,#c7c7c7,#adadad,#939393,#7c7c7c,#696969,#5a5a5a,#505050,#4e4e4e,#4e4e4e,#4e4e4e,#5a5a5a,#676767,#7c7c7c,#979797,#b5b5b5,#d0d0d0,#e9e9e9,#f0f0f0,#f0f0f0)"></i><i style="left:315.8px;background:linear-gradient(#fddecb,#fddecb,#fcd7c2,#f9c4a9,#f5ac8b,#e8896c,#cf5246,#b61f2e,#930e26,#7c0722,#700320,#6a011f,#67001f,#6a011f,#6d0220,#760521,#870a24,#a21328,#b82531,#c94741,#dc6e57,#ec9374,#f6b394,#fbccb4,#fee5d6,#fffdfc,#f0f0f0,#dfdfdf,#c7c7c7,#adadad,#939393,#7c7c7c,#696969,#5a5a5a,#505050,#4c4c4c,#4c4c4c,#4e4e4e,#575757,#676767,#7c7c7c,#959595,#b5b5b5,#d0d0d0,#e9e9e9,#f0f0f0,#f0f0f0)"></i><i style="left:318.8px;background:linear-gradient(#fddecb,#fddecb,#fcd7c2,#f9c4a9,#f5ac8b,#e8896c,#cf5246,#b72230,#930e26,#7f0823,#700320,#6a011f,#67001f,#6a011f,#6d0220,#790622,#870a24,#a21328,#b82531,#c94741,#dd7059,#ec9374,#f6b394,#fbceb7,#fee6d9,#fffdfc,#f0f0f0,#dddddd,#c7c7c7,#ababab,#919191,#7c7c7c,#676767,#5a5a5a,#505050,#4c4c4c,#4c4c4c,#4e4e4e,#575757,#676767,#7c7c7c,#959595,#b3b3b3,#cecece,#e9e9e9,#f0f0f0,#f0f0f0)"></i><i style="left:321.8px;background:linear-gradient(#fddecb,#fddecb,#fcd7c2,#f9c6ac,#f5ac8b,#e8896c,#d05548,#b72230,#930e26,#7f0823,#700320,#6a011f,#67001f,#6a011f,#6d0220,#790622,#8a0b25,#a51429,#b82531,#cb4942,#dd7059,#ee9677,#f6b394,#fbceb7,#fee6d9,#fffefe,#efefef,#dddddd,#c5c5c5,#ababab,#919191,#7c7c7c,#676767,#5a5a5a,#4e4e4e,#4c4c4c,#4c4c4c,#4e4e4e,#575757,#676767,#797979,#959595,#b3b3b3,#cecece,#e7e7e7,#f0f0f0,#f0f0f0)"></i><i style="left:324.8px;background:linear-gradient(#fddecb,#fddecb,#fcd7c2,#f9c6ac,#f5ac8b,#e8896c,#d05548,#b72230,#960f27,#7f0823,#700320,#6a011f,#67001f,#6a011f,#6d0220,#790622,#8a0b25,#a51429,#b82531,#cb4942,#dd7059,#ee9677,#f7b596,#fbceb7,#fee6d9,#fffefe,#efefef,#dddddd,#c5c5c5,#ababab,#919191,#7c7c7c,#676767,#575757,#4e4e4e,#4a4a4a,#4a4a4a,#4e4e4e,#575757,#676767,#797979,#939393,#b3b3b3,#cdcdcd,#e7e7e7,#f0f0f0,#f0f0f0)"></i><i style="left:327.8px;background:linear-gradient(#fddcc9,#fddcc9,#fcd7c2,#f9c6ac,#f5ac8b,#e8896c,#d05548,#b82531,#960f27,#7f0823,#700320,#6d0220,#67001f,#6a011f,#700320,#7c0722,#8d0c25,#a51429,#ba2832,#cb4942,#de735c,#ee9677,#f7b596,#fbd0b9,#fee8db,#fefefe,#efefef,#dcdcdc,#c4c4c4,#ababab,#919191,#797979,#676767,#575757,#4e4e4e,#4a4a4a,#4a4a4a,#4e4e4e,#575757,#656565,#797979,#939393,#b1b1b1,#cdcdcd,#e7e7e7,#f0f0f0,#f0f0f0)"></i><i style="left:330.8px;background:linear-gradient(#fddcc9,#fddcc9,#fcd7c2,#f9c6ac,#f5ac8b,#e8896c,#d05548,#b82531,#960f27,#7f0823,#730421,#6d0220,#6a011f,#6a011f,#700320,#7c0722,#8d0c25,#a81529,#ba2832,#cc4c44,#de735c,#ee9677,#f7b596,#fbd0b9,#fee8db,#fefefe,#ededed,#dcdcdc,#c4c4c4,#a9a9a9,#919191,#797979,#676767,#575757,#4e4e4e,#4a4a4a,#4a4a4a,#4e4e4e,#575757,#656565,#797979,#939393,#b1b1b1,#cdcdcd,#e7e7e7,#f0f0f0,#f0f0f0)"></i><i style="left:333.8px;background:linear-gradient(#fddcc9,#fddcc9,#fcd7c2,#f9c6ac,#f5ac8b,#e8896c,#d25849,#b82531,#960f27,#810823,#730421,#6d0220,#6a011f,#6a011f,#700320,#7c0722,#8d0c25,#a81529,#ba2832,#cc4c44,#de735c,#ef9979,#f7b799,#fbd0b9,#fee8db,#fdfdfd,#ededed,#dadada,#c4c4c4,#a9a9a9,#919191,#797979,#656565,#575757,#4e4e4e,#4a4a4a,#4a4a4a,#4c4c4c,#575757,#656565,#777777,#919191,#afafaf,#cbcbcb,#e7e7e7,#f0f0f0,#f0f0f0)"></i><i style="left:336.8px;background:linear-gradient(#fddcc9,#fddcc9,#fcd7c2,#f9c6ac,#f5ac8b,#e8896c,#d25849,#ba2832,#960f27,#810823,#730421,#6d0220,#6a011f,#6a011f,#700320,#7f0823,#900d26,#a81529,#bb2a34,#cc4c44,#df765e,#ef9979,#f7b799,#fcd3bc,#fee9dd,#fdfdfd,#ececec,#dadada,#c2c2c2,#a9a9a9,#8f8f8f,#797979,#656565,#575757,#4c4c4c,#484848,#484848,#4c4c4c,#575757,#656565,#777777,#919191,#afafaf,#cbcbcb,#e6e6e6,#f0f0f0,#f0f0f0)"></i><i style="left:339.8px;background:linear-gradient(#fddbc7,#fddbc7,#fcd5bf,#f9c6ac,#f6af8e,#e8896c,#d25849,#ba2832,#991027,#810823,#730421,#6d0220,#6a011f,#6d0220,#730421,#7f0823,#900d26,#ab162a,#bb2a34,#ce4f45,#df765e,#ef9979,#f7b799,#fcd3bc,#fee9dd,#fcfcfc,#ececec,#dadada,#c2c2c2,#a9a9a9,#8f8f8f,#797979,#656565,#575757,#4c4c4c,#484848,#484848,#4c4c4c,#575757,#656565,#777777,#919191,#afafaf,#cbcbcb,#e6e6e6,#f0f0f0,#f0f0f0)"></i><i style="left:342.8px;background:linear-gradient(#fddbc7,#fddbc7,#fcd5bf,#f9c6ac,#f6af8e,#e8896c,#d35a4a,#ba2832,#991027,#810823,#730421,#6d0220,#6a011f,#6d0220,#730421,#7f0823,#900d26,#ab162a,#bb2a34,#ce4f45,#df765e,#f09c7b,#f7b99c,#fcd3bc,#feebdf,#fcfcfc,#ececec,#d9d9d9,#c1c1c1,#a7a7a7,#8f8f8f,#797979,#656565,#555555,#4c4c4c,#484848,#484848,#4c4c4c,#575757,#656565,#777777,#8f8f8f,#adadad,#cacaca,#e6e6e6,#f0f0f0,#f0f0f0)"></i><i style="left:345.9px;background:linear-gradient(#fddbc7,#fddbc7,#fcd5bf,#f9c6ac,#f6af8e,#e8896c,#d35a4a,#bb2a34,#991027,#810823,#760521,#700320,#6a011f,#6d0220,#730421,#810823,#930e26,#ab162a,#bd2d35,#ce4f45,#df765e,#f09c7b,#f7b99c,#fcd5bf,#feebdf,#fbfbfb,#ebebeb,#d9d9d9,#c1c1c1,#a7a7a7,#8f8f8f,#777777,#656565,#555555,#4c4c4c,#484848,#464646,#4c4c4c,#575757,#656565,#757575,#8f8f8f,#adadad,#cacaca,#e6e6e6,#f0f0f0,#f0f0f0)"></i><i style="left:348.9px;background:linear-gradient(#fddbc7,#fddbc7,#fcd5bf,#f9c6ac,#f6af8e,#e8896c,#d35a4a,#bb2a34,#991027,#810823,#760521,#700320,#6a011f,#6d0220,#730421,#810823,#930e26,#ae172a,#bd2d35,#cf5246,#e17860,#f09c7b,#f7b99c,#fcd5bf,#feebdf,#fbfbfb,#ebebeb,#d7d7d7,#c1c1c1,#a7a7a7,#8f8f8f,#777777,#656565,#555555,#4c4c4c,#464646,#464646,#4c4c4c,#575757,#656565,#757575,#8f8f8f,#ababab,#c8c8c8,#e6e6e6,#f0f0f0,#f0f0f0)"></i><i style="left:351.9px;background:linear-gradient(#fdd9c4,#fdd9c4,#fcd5bf,#f9c6ac,#f6af8e,#e8896c,#d55d4c,#bb2a34,#9c1127,#840924,#760521,#700320,#6a011f,#6d0220,#730421,#810823,#930e26,#ae172a,#bd2d35,#cf5246,#e17860,#f19e7d,#f8bb9e,#fcd5bf,#feece1,#fafafa,#eaeaea,#d7d7d7,#bfbfbf,#a7a7a7,#8f8f8f,#777777,#636363,#555555,#4a4a4a,#464646,#464646,#4c4c4c,#575757,#656565,#757575,#8f8f8f,#ababab,#c8c8c8,#e5e5e5,#efefef,#efefef)"></i><i style="left:354.9px;background:linear-gradient(#fdd9c4,#fdd9c4,#fcd5bf,#f9c6ac,#f6af8e,#e8896c,#d55d4c,#bd2d35,#9c1127,#840924,#760521,#700320,#6a011f,#6d0220,#760521,#810823,#960f27,#ae172a,#bd2d35,#cf5246,#e17860,#f19e7d,#f8bb9e,#fcd7c2,#feece1,#fafafa,#eaeaea,#d7d7d7,#bfbfbf,#a5a5a5,#8d8d8d,#777777,#636363,#555555,#4a4a4a,#464646,#464646,#4a4a4a,#555555,#656565,#757575,#8d8d8d,#ababab,#c8c8c8,#e5e5e5,#efefef,#efefef)"></i><i style="left:357.9px;background:linear-gradient(#fdd9c4,#fdd9c4,#fcd5bf,#f9c6ac,#f6af8e,#e8896c,#d55d4c,#bd2d35,#9c1127,#840924,#790622,#700320,#6d0220,#6d0220,#760521,#840924,#960f27,#b1182b,#be3036,#d05548,#e27b62,#f19e7d,#f8bda1,#fcd7c2,#feece1,#f8f8f8,#e9e9e9,#d6d6d6,#bfbfbf,#a5a5a5,#8d8d8d,#777777,#636363,#555555,#4a4a4a,#464646,#444444,#4a4a4a,#555555,#656565,#757575,#8d8d8d,#a9a9a9,#c7c7c7,#e5e5e5,#efefef,#efefef)"></i><i style="left:360.9px;background:linear-gradient(#fdd9c4,#fdd9c4,#fcd5bf,#f9c6ac,#f6af8e,#e8896c,#d55d4c,#bd2d35,#9c1127,#840924,#790622,#700320,#6d0220,#6d0220,#760521,#840924,#960f27,#b1182b,#be3036,#d05548,#e27b62,#f19e7d,#f8bda1,#fcd7c2,#feece1,#f8f8f8,#e9e9e9,#d6d6d6,#bfbfbf,#a5a5a5,#8d8d8d,#777777,#636363,#555555,#4a4a4a,#464646,#464646,#4c4c4c,#575757,#656565,#757575,#8d8d8d,#a9a9a9,#c7c7c7,#e5e5e5,#efefef,#efefef)"></i><i style="left:363.9px;background:linear-gradient(#fdd9c4,#fdd9c4,#fcd5bf,#f9c6ac,#f6af8e,#e8896c,#d55d4c,#bd2d35,#9c1127,#840924,#790622,#700320,#6d0220,#6d0220,#760521,#840924,#960f27,#b1182b,#be3036,#d05548,#e27b62,#f19e7d,#f8bda1,#fcd7c2,#feece1,#f8f8f8,#eaeaea,#d6d6d6,#bfbfbf,#a5a5a5,#8f8f8f,#777777,#636363,#555555,#4c4c4c,#464646,#464646,#4c4c4c,#575757,#656565,#757575,#8d8d8d,#ababab,#c8c8c8,#e5e5e5,#efefef,#efefef)"></i><i style="left:366.9px;background:linear-gradient(#fdd9c4,#fdd9c4,#fcd5bf,#f9c6ac,#f6af8e,#e98b6e,#d6604d,#be3036,#9f1228,#870a24,#7c0722,#730421,#700320,#700320,#790622,#870a24,#991027,#b3192c,#bf3338,#d05548,#e27b62,#f2a17f,#f8bda1,#fcd7c2,#feece1,#f8f8f8,#eaeaea,#d7d7d7,#bfbfbf,#a7a7a7,#8f8f8f,#797979,#656565,#575757,#4c4c4c,#464646,#464646,#4c4c4c,#575757,#656565,#757575,#8f8f8f,#ababab,#c8c8c8,#e5e5e5,#efefef,#efefef)"></i><i style="left:369.9px;background:linear-gradient(#fdd9c4,#fdd9c4,#fcd5bf,#fac8af,#f6af8e,#e98b6e,#d7634f,#bf3338,#a21328,#8a0b25,#7f0823,#760521,#730421,#730421,#7c0722,#8a0b25,#9c1127,#b41c2d,#bf3338,#d25849,#e37e64,#f2a17f,#f8bda1,#fcd7c2,#feece1,#f8f8f8,#eaeaea,#d7d7d7,#bfbfbf,#a7a7a7,#8f8f8f,#797979,#656565,#575757,#4e4e4e,#484848,#484848,#4e4e4e,#5a5a5a,#676767,#777777,#8f8f8f,#ababab,#c8c8c8,#e5e5e5,#efefef,#efefef)"></i><i style="left:372.9px;background:linear-gradient(#fdd9c4,#fdd9c4,#fcd5bf,#fac8af,#f6b191,#ea8e70,#d86551,#c13639,#a51429,#900d26,#810823,#7c0722,#760521,#790622,#810823,#8d0c25,#9f1228,#b61f2e,#c2383a,#d35a4a,#e48066,#f2a17f,#f8bda1,#fcd7c2,#feece1,#f8f8f8,#eaeaea,#d7d7d7,#c1c1c1,#a9a9a9,#919191,#7c7c7c,#676767,#5a5a5a,#505050,#4a4a4a,#4a4a4a,#505050,#5c5c5c,#696969,#797979,#919191,#adadad,#c8c8c8,#e5e5e5,#efefef,#efefef)"></i><i style="left:375.9px;background:linear-gradient(#fdd9c4,#fdd9c4,#fcd5bf,#fac8af,#f6b191,#eb9172,#da6853,#c43b3c,#ab162a,#960f27,#870a24,#810823,#7f0823,#7f0823,#870a24,#930e26,#a51429,#b82531,#c43b3c,#d6604d,#e58368,#f3a481,#f8bda1,#fcd7c2,#feece1,#f8f8f8,#eaeaea,#d7d7d7,#c1c1c1,#a9a9a9,#939393,#7e7e7e,#6c6c6c,#5c5c5c,#535353,#4e4e4e,#4c4c4c,#535353,#5e5e5e,#6c6c6c,#7c7c7c,#939393,#adadad,#cacaca,#e5e5e5,#efefef,#efefef)"></i><i style="left:378.9px;background:linear-gradient(#fdd9c4,#fdd9c4,#fcd5bf,#fac8af,#f6b394,#ec9374,#dc6e57,#c6413e,#b3192c,#9c1127,#900d26,#8a0b25,#840924,#870a24,#900d26,#9c1127,#ae172a,#bb2a34,#c6413e,#d7634f,#e6866a,#f4a683,#f8bfa4,#fcd7c2,#feece1,#f8f8f8,#eaeaea,#d9d9d9,#c2c2c2,#ababab,#959595,#808080,#6e6e6e,#606060,#555555,#505050,#505050,#575757,#606060,#6e6e6e,#7e7e7e,#959595,#afafaf,#cacaca,#e6e6e6,#efefef,#efefef)"></i><i style="left:381.9px;background:linear-gradient(#fdd9c4,#fdd9c4,#fcd5bf,#fac8af,#f7b596,#ee9677,#de735c,#cb4942,#b72230,#a81529,#9c1127,#960f27,#900d26,#930e26,#991027,#a81529,#b41c2d,#bf3338,#cb4942,#db6b55,#e98b6e,#f5a886,#f8bfa4,#fcd7c2,#feece1,#f8f8f8,#eaeaea,#d9d9d9,#c2c2c2,#adadad,#979797,#828282,#707070,#636363,#5a5a5a,#535353,#535353,#5a5a5a,#656565,#707070,#808080,#979797,#b1b1b1,#cbcbcb,#e6e6e6,#efefef,#efefef)"></i><i style="left:384.9px;background:linear-gradient(#fdd9c4,#fdd9c4,#fcd5bf,#facab1,#f7b799,#f09c7b,#e17860,#cf5246,#bb2a34,#b3192c,#a81529,#a21328,#9c1127,#9f1228,#a51429,#b1182b,#ba2832,#c43b3c,#cf5246,#dd7059,#eb9172,#f5aa89,#f9c2a7,#fcd7c2,#feece1,#f8f8f8,#eaeaea,#dadada,#c5c5c5,#b1b1b1,#9b9b9b,#898989,#777777,#696969,#606060,#5a5a5a,#5a5a5a,#606060,#6c6c6c,#777777,#878787,#9b9b9b,#b5b5b5,#cdcdcd,#e6e6e6,#efefef,#efefef)"></i><i style="left:388.0px;background:linear-gradient(#fdd9c4,#fdd9c4,#fcd5bf,#facab1,#f7b99c,#f2a17f,#e58368,#d55d4c,#c2383a,#ba2832,#b41c2d,#b1182b,#ae172a,#ae172a,#b41c2d,#b82531,#c13639,#cb4942,#d55d4c,#e27b62,#ee9677,#f6af8e,#f9c4a9,#fcd7c2,#feece1,#f8f8f8,#eaeaea,#dadada,#c7c7c7,#b5b5b5,#9f9f9f,#8d8d8d,#7c7c7c,#707070,#676767,#636363,#606060,#676767,#737373,#7e7e7e,#8b8b8b,#9f9f9f,#b7b7b7,#cecece,#e6e6e6,#efefef,#efefef)"></i><i style="left:391.0px;background:linear-gradient(#fdd9c4,#fdd9c4,#fcd5bf,#fbccb4,#f8bb9e,#f5a886,#e98b6e,#da6853,#c94741,#c13639,#bb2a34,#ba2832,#b72230,#b82531,#bb2a34,#c13639,#c84440,#d05548,#da6853,#e58368,#f19e7d,#f6b394,#f9c6ac,#fcd7c2,#feece1,#f8f8f8,#eaeaea,#dcdcdc,#c8c8c8,#b7b7b7,#a5a5a5,#939393,#828282,#777777,#6e6e6e,#696969,#696969,#6e6e6e,#797979,#858585,#919191,#a3a3a3,#bbbbbb,#d0d0d0,#e7e7e7,#efefef,#efefef)"></i><i style="left:394.0px;background:linear-gradient(#fdd9c4,#fdd9c4,#fcd5bf,#fbccb4,#f8bfa4,#f6af8e,#ef9979,#e17860,#d35a4a,#cb4942,#c6413e,#c43b3c,#c2383a,#c2383a,#c53e3d,#cb4942,#d05548,#da6853,#e17860,#eb9172,#f5a886,#f7b799,#fac8af,#fcd7c2,#feece1,#f8f8f8,#ebebeb,#dddddd,#cdcdcd,#bebebe,#adadad,#9b9b9b,#8d8d8d,#828282,#7c7c7c,#777777,#757575,#7c7c7c,#858585,#8f8f8f,#999999,#ababab,#bfbfbf,#d3d3d3,#e7e7e7,#efefef,#efefef)"></i><i style="left:397.0px;background:linear-gradient(#fdd9c4,#fdd9c4,#fcd5bf,#fbceb7,#f9c4a9,#f7b596,#f4a683,#e8896c,#dc6e57,#d6604d,#d25849,#cf5246,#ce4f45,#cf5246,#d05548,#d6604d,#db6b55,#e17860,#e8896c,#f2a17f,#f6b191,#f8bda1,#facab1,#fcd7c2,#feece1,#f8f8f8,#ebebeb,#e0e0e0,#d0d0d0,#c2c2c2,#b5b5b5,#a5a5a5,#999999,#8f8f8f,#898989,#858585,#858585,#898989,#919191,#999999,#a3a3a3,#b5b5b5,#c5c5c5,#d6d6d6,#e9e9e9,#efefef,#efefef)"></i><i style="left:400.0px;background:linear-gradient(#fdd9c4,#fdd9c4,#fcd5bf,#fbd0b9,#fac8af,#f8bda1,#f6b191,#ef9979,#e48066,#df765e,#dc6e57,#db6b55,#da6853,#da6853,#dc6e57,#df765e,#e37e64,#e98b6e,#f09c7b,#f5ac8b,#f7b99c,#f9c4a9,#fbccb4,#fcd7c2,#feece1,#f8f8f8,#ececec,#e2e2e2,#d6d6d6,#cacaca,#bebebe,#b3b3b3,#a7a7a7,#9f9f9f,#999999,#959595,#959595,#999999,#9f9f9f,#a7a7a7,#b1b1b1,#bebebe,#cbcbcb,#dadada,#eaeaea,#f0f0f0,#f0f0f0)"></i><i style="left:403.0px;background:linear-gradient(#fdd9c4,#fdd9c4,#fcd5bf,#fcd3bc,#fbccb4,#f9c4a9,#f8bda1,#f5aa89,#ee9677,#e98b6e,#e6866a,#e58368,#e48066,#e48066,#e58368,#e98b6e,#ec9374,#f2a17f,#f5aa89,#f7b99c,#f9c2a7,#fac8af,#fbceb7,#fcd7c2,#feece1,#f8f8f8,#ececec,#e5e5e5,#dcdcdc,#d1d1d1,#c8c8c8,#bfbfbf,#b7b7b7,#afafaf,#ababab,#a7a7a7,#a7a7a7,#ababab,#b1b1b1,#b7b7b7,#bebebe,#c8c8c8,#d3d3d3,#dfdfdf,#ebebeb,#f0f0f0,#f0f0f0)"></i><i style="left:406.0px;background:linear-gradient(#fdd9c4,#fdd9c4,#fcd5bf,#fcd3bc,#fbd0b9,#fbccb4,#f9c6ac,#f7b799,#f5a886,#f19e7d,#ef9979,#ee9677,#ee9677,#ee9677,#ef9979,#f19e7d,#f4a683,#f6af8e,#f7b799,#f9c4a9,#facab1,#fbceb7,#fcd3bc,#fcd7c2,#feece1,#f8f8f8,#ededed,#e7e7e7,#e1e1e1,#dadada,#d3d3d3,#cbcbcb,#c5c5c5,#c1c1c1,#bebebe,#bcbcbc,#bbbbbb,#bebebe,#c1c1c1,#c5c5c5,#cacaca,#d3d3d3,#dcdcdc,#e4e4e4,#ececec,#f0f0f0,#f0f0f0)"></i><i style="left:409.0px;background:linear-gradient(#fdd9c4,#fdd9c4,#fcd5bf,#fcd5bf,#fcd3bc,#fbd0b9,#fbccb4,#f8bfa4,#f6b191,#f5aa89,#f4a683,#f3a481,#f3a481,#f3a481,#f4a683,#f5aa89,#f6b191,#f7b799,#f8bfa4,#facab1,#fbceb7,#fbd0b9,#fcd3bc,#fcd7c2,#feece1,#f8f8f8,#efefef,#ebebeb,#e7e7e7,#e5e5e5,#e0e0e0,#dcdcdc,#d7d7d7,#d3d3d3,#d1d1d1,#d0d0d0,#d0d0d0,#d1d1d1,#d4d4d4,#d7d7d7,#dadada,#e0e0e0,#e5e5e5,#e9e9e9,#ededed,#f0f0f0,#f0f0f0)"></i><i style="left:412.0px;background:linear-gradient(#fdd9c4,#fdd9c4,#fcd5bf,#fcd5bf,#fcd5bf,#fcd5bf,#fcd3bc,#f9c6ac,#f7b99c,#f6b394,#f6b191,#f6af8e,#f5ac8b,#f6af8e,#f6b191,#f6b394,#f7b99c,#f8bfa4,#f9c6ac,#fbd0b9,#fcd3bc,#fcd5bf,#fcd5bf,#fcd7c2,#feece1,#f8f8f8,#f0f0f0,#efefef,#ededed,#ededed,#ebebeb,#e7e7e7,#e5e5e5,#e4e4e4,#e2e2e2,#e1e1e1,#e1e1e1,#e2e2e2,#e4e4e4,#e5e5e5,#e7e7e7,#ebebeb,#ededed,#efefef,#efefef,#f0f0f0,#f0f0f0)"></i><i style="left:415.0px;background:linear-gradient(#fdd9c4,#fdd9c4,#fcd5bf,#fcd5bf,#fcd5bf,#fcd5bf,#fcd5bf,#facab1,#f8bda1,#f7b799,#f7b596,#f6b394,#f6b191,#f6b191,#f6b394,#f7b799,#f8bb9e,#f9c4a9,#facab1,#fcd3bc,#fcd5bf,#fcd5bf,#fcd5bf,#fcd7c2,#feece1,#f8f8f8,#f0f0f0,#f0f0f0,#f0f0f0,#f0f0f0,#ededed,#ebebeb,#e9e9e9,#e7e7e7,#e6e6e6,#e5e5e5,#e5e5e5,#e6e6e6,#e7e7e7,#e9e9e9,#ebebeb,#ededed,#f0f0f0,#f0f0f0,#f0f0f0,#f0f0f0,#f0f0f0)"></i><i style="left:418.0px;background:linear-gradient(#fdd9c4,#fdd9c4,#fcd5bf,#fcd5bf,#fcd5bf,#fcd5bf,#fcd5bf,#facab1,#f8bda1,#f7b799,#f7b596,#f6b394,#f6b191,#f6b191,#f6b394,#f7b799,#f8bb9e,#f9c4a9,#facab1,#fcd3bc,#fcd5bf,#fcd5bf,#fcd5bf,#fcd7c2,#feece1,#f8f8f8,#f0f0f0,#f0f0f0,#f0f0f0,#f0f0f0,#ededed,#ebebeb,#e9e9e9,#e7e7e7,#e6e6e6,#e5e5e5,#e5e5e5,#e6e6e6,#e7e7e7,#e9e9e9,#ebebeb,#ededed,#f0f0f0,#f0f0f0,#f0f0f0,#f0f0f0,#f0f0f0)"></i><i style="left:421.0px;background:linear-gradient(#fdd9c4,#fdd9c4,#fcd5bf,#fcd5bf,#fcd5bf,#fcd5bf,#fcd5bf,#facab1,#f8bda1,#f7b799,#f7b596,#f6b394,#f6b191,#f6b191,#f6b394,#f7b799,#f8bb9e,#f9c4a9,#facab1,#fcd3bc,#fcd5bf,#fcd5bf,#fcd5bf,#fcd7c2,#feece1,#f8f8f8,#f0f0f0,#f0f0f0,#f0f0f0,#f0f0f0,#ededed,#ebebeb,#e9e9e9,#e7e7e7,#e6e6e6,#e5e5e5,#e5e5e5,#e6e6e6,#e7e7e7,#e9e9e9,#ebebeb,#ededed,#f0f0f0,#f0f0f0,#f0f0f0,#f0f0f0,#f0f0f0)"></i></div></div>
<div class="fw" style="left:1454.10px;top:500.75px;width:406.00px;height:227.65px"><div class="fi" style="left:-9.02px;top:-8px;width:424.04px;height:243.65px;filter:blur(1.2px)"><i style="left:0.0px;background:linear-gradient(#fffefe,#fffefe,#fefefe,#fdfdfd,#fbfbfb,#fafafa,#f8f8f8,#f6f6f6,#f5f5f5,#f2f2f2,#f1f1f1,#efefef,#ededed,#ebebeb,#eaeaea,#e7e7e7,#e6e6e6,#e5e5e5,#e4e4e4,#e2e2e2,#e1e1e1,#e0e0e0,#e0e0e0,#dfdfdf,#dfdfdf,#dfdfdf,#e0e0e0,#e0e0e0,#e1e1e1,#e2e2e2,#e4e4e4,#e6e6e6,#e7e7e7,#e9e9e9,#ebebeb,#ececec,#efefef,#f1f1f1,#f2f2f2,#f5f5f5,#f7f7f7,#f8f8f8,#fbfbfb,#fdfdfd,#fefefe,#fffefe,#fffefe)"></i><i style="left:3.0px;background:linear-gradient(#fffefe,#fffefe,#fefefe,#fdfdfd,#fbfbfb,#fafafa,#f8f8f8,#f6f6f6,#f5f5f5,#f2f2f2,#f1f1f1,#efefef,#ededed,#ebebeb,#eaeaea,#e7e7e7,#e6e6e6,#e5e5e5,#e4e4e4,#e2e2e2,#e1e1e1,#e0e0e0,#e0e0e0,#dfdfdf,#dfdfdf,#dfdfdf,#e0e0e0,#e0e0e0,#e1e1e1,#e2e2e2,#e4e4e4,#e6e6e6,#e7e7e7,#e9e9e9,#ebebeb,#ececec,#efefef,#f1f1f1,#f2f2f2,#f5f5f5,#f7f7f7,#f8f8f8,#fbfbfb,#fdfdfd,#fefefe,#fffefe,#fffefe)"></i><i style="left:6.0px;background:linear-gradient(#fffefe,#fffefe,#fefefe,#fdfdfd,#fbfbfb,#fafafa,#f8f8f8,#f6f6f6,#f5f5f5,#f2f2f2,#f1f1f1,#efefef,#ededed,#ebebeb,#eaeaea,#e7e7e7,#e6e6e6,#e5e5e5,#e4e4e4,#e2e2e2,#e1e1e1,#e0e0e0,#e0e0e0,#dfdfdf,#dfdfdf,#dfdfdf,#e0e0e0,#e0e0e0,#e1e1e1,#e2e2e2,#e4e4e4,#e6e6e6,#e7e7e7,#e9e9e9,#ebebeb,#ececec,#efefef,#f1f1f1,#f2f2f2,#f5f5f5,#f7f7f7,#f8f8f8,#fbfbfb,#fdfdfd,#fefefe,#fffefe,#fffefe)"></i><i style="left:9.0px;background:linear-gradient(#fffefe,#fffefe,#fefefe,#fcfcfc,#fbfbfb,#f8f8f8,#f6f6f6,#f3f3f3,#f2f2f2,#f0f0f0,#ededed,#ebebeb,#e9e9e9,#e7e7e7,#e5e5e5,#e2e2e2,#e1e1e1,#dfdfdf,#dddddd,#dcdcdc,#dadada,#d9d9d9,#d7d7d7,#d7d7d7,#d6d6d6,#d7d7d7,#d7d7d7,#d9d9d9,#dadada,#dcdcdc,#dfdfdf,#e0e0e0,#e2e2e2,#e5e5e5,#e6e6e6,#e9e9e9,#ebebeb,#ededed,#f0f0f0,#f2f2f2,#f5f5f5,#f7f7f7,#fafafa,#fcfcfc,#fefefe,#fffefe,#fffefe)"></i><i style="left:12.0px;background:linear-gradient(#fffefe,#fffefe,#fefefe,#fcfcfc,#fafafa,#f6f6f6,#f3f3f3,#f1f1f1,#efefef,#ebebeb,#e9e9e9,#e6e6e6,#e2e2e2,#e0e0e0,#dddddd,#dadada,#d7d7d7,#d4d4d4,#d3d3d3,#d0d0d0,#cecece,#cdcdcd,#cbcbcb,#cacaca,#cacaca,#cacaca,#cbcbcb,#cdcdcd,#cecece,#d1d1d1,#d4d4d4,#d6d6d6,#d9d9d9,#dddddd,#e0e0e0,#e2e2e2,#e6e6e6,#eaeaea,#ececec,#f0f0f0,#f2f2f2,#f6f6f6,#f8f8f8,#fbfbfb,#fefefe,#fffefe,#fffefe)"></i><i style="left:15.0px;background:linear-gradient(#fffefe,#fffefe,#fefefe,#fbfbfb,#f8f8f8,#f5f5f5,#f1f1f1,#efefef,#ebebeb,#e7e7e7,#e4e4e4,#e1e1e1,#dddddd,#d9d9d9,#d6d6d6,#d1d1d1,#cecece,#cbcbcb,#c8c8c8,#c5c5c5,#c4c4c4,#c1c1c1,#bfbfbf,#bfbfbf,#bebebe,#bebebe,#bfbfbf,#c2c2c2,#c4c4c4,#c7c7c7,#cacaca,#cdcdcd,#d1d1d1,#d4d4d4,#d9d9d9,#dddddd,#e1e1e1,#e5e5e5,#e9e9e9,#ececec,#f0f0f0,#f3f3f3,#f7f7f7,#fbfbfb,#fdfdfd,#fffefe,#fffefe)"></i><i style="left:18.0px;background:linear-gradient(#fffefe,#fffefe,#fdfdfd,#fbfbfb,#f7f7f7,#f3f3f3,#f0f0f0,#ececec,#e9e9e9,#e4e4e4,#e0e0e0,#dcdcdc,#d7d7d7,#d3d3d3,#cecece,#cacaca,#c5c5c5,#c2c2c2,#bfbfbf,#bcbcbc,#b9b9b9,#b7b7b7,#b3b3b3,#b3b3b3,#b1b1b1,#b1b1b1,#b3b3b3,#b7b7b7,#bbbbbb,#bebebe,#c1c1c1,#c5c5c5,#cacaca,#cecece,#d3d3d3,#d7d7d7,#dddddd,#e1e1e1,#e6e6e6,#eaeaea,#efefef,#f2f2f2,#f6f6f6,#fafafa,#fdfdfd,#fffefe,#fffefe)"></i><i style="left:21.1px;background:linear-gradient(#fffefe,#fffefe,#fdfdfd,#fafafa,#f6f6f6,#f2f2f2,#ededed,#eaeaea,#e5e5e5,#e1e1e1,#dcdcdc,#d6d6d6,#d1d1d1,#cbcbcb,#c7c7c7,#c2c2c2,#bebebe,#bbbbbb,#b5b5b5,#b1b1b1,#adadad,#a9a9a9,#a7a7a7,#a5a5a5,#a3a3a3,#a5a5a5,#a7a7a7,#ababab,#afafaf,#b3b3b3,#b9b9b9,#bebebe,#c2c2c2,#c7c7c7,#cdcdcd,#d3d3d3,#d7d7d7,#dddddd,#e2e2e2,#e7e7e7,#ececec,#f1f1f1,#f5f5f5,#fafafa,#fdfdfd,#fffefe,#fffefe)"></i><i style="left:24.1px;background:linear-gradient(#fffefe,#fffefe,#fdfdfd,#fafafa,#f5f5f5,#f0f0f0,#ececec,#e7e7e7,#e2e2e2,#dddddd,#d7d7d7,#d1d1d1,#cbcbcb,#c7c7c7,#c1c1c1,#bcbcbc,#b7b7b7,#b1b1b1,#ababab,#a7a7a7,#a3a3a3,#9f9f9f,#9b9b9b,#999999,#979797,#999999,#9b9b9b,#9f9f9f,#a3a3a3,#a9a9a9,#afafaf,#b5b5b5,#bbbbbb,#c1c1c1,#c7c7c7,#cdcdcd,#d3d3d3,#dadada,#e0e0e0,#e5e5e5,#eaeaea,#f0f0f0,#f5f5f5,#f8f8f8,#fdfdfd,#fffefe,#fffefe)"></i><i style="left:27.1px;background:linear-gradient(#fffefe,#fffefe,#fdfdfd,#f8f8f8,#f5f5f5,#efefef,#eaeaea,#e5e5e5,#e0e0e0,#dadada,#d3d3d3,#cdcdcd,#c7c7c7,#c1c1c1,#bbbbbb,#b5b5b5,#adadad,#a7a7a7,#a1a1a1,#9d9d9d,#979797,#939393,#8f8f8f,#8d8d8d,#8b8b8b,#8d8d8d,#8f8f8f,#959595,#999999,#9f9f9f,#a5a5a5,#ababab,#b3b3b3,#bbbbbb,#c1c1c1,#c8c8c8,#cecece,#d6d6d6,#dddddd,#e4e4e4,#e9e9e9,#ededed,#f3f3f3,#f8f8f8,#fdfdfd,#fffefe,#fffefe)"></i><i style="left:30.1px;background:linear-gradient(#fffefe,#fffefe,#fdfdfd,#f8f8f8,#f3f3f3,#efefef,#e9e9e9,#e4e4e4,#dddddd,#d7d7d7,#d0d0d0,#c8c8c8,#c2c2c2,#bcbcbc,#b5b5b5,#adadad,#a5a5a5,#9f9f9f,#999999,#939393,#8d8d8d,#898989,#858585,#828282,#808080,#828282,#858585,#8b8b8b,#8f8f8f,#959595,#9d9d9d,#a3a3a3,#ababab,#b5b5b5,#bcbcbc,#c4c4c4,#cbcbcb,#d3d3d3,#dadada,#e1e1e1,#e7e7e7,#ececec,#f2f2f2,#f8f8f8,#fdfdfd,#fffefe,#fffefe)"></i><i style="left:33.1px;background:linear-gradient(#fffefe,#fffefe,#fdfdfd,#f8f8f8,#f2f2f2,#ededed,#e7e7e7,#e1e1e1,#dcdcdc,#d4d4d4,#cdcdcd,#c5c5c5,#bebebe,#b7b7b7,#adadad,#a5a5a5,#9d9d9d,#979797,#919191,#8b8b8b,#858585,#7e7e7e,#797979,#777777,#757575,#777777,#7c7c7c,#808080,#878787,#8d8d8d,#959595,#9b9b9b,#a5a5a5,#adadad,#b7b7b7,#bfbfbf,#c7c7c7,#d0d0d0,#d7d7d7,#dfdfdf,#e6e6e6,#ececec,#f2f2f2,#f7f7f7,#fdfdfd,#fffefe,#fffefe)"></i><i style="left:36.1px;background:linear-gradient(#fffefe,#fffefe,#fdfdfd,#f7f7f7,#f2f2f2,#ececec,#e6e6e6,#e0e0e0,#d9d9d9,#d1d1d1,#cacaca,#c2c2c2,#bbbbbb,#b1b1b1,#a7a7a7,#9f9f9f,#979797,#8f8f8f,#898989,#828282,#7c7c7c,#757575,#707070,#6e6e6e,#6c6c6c,#6e6e6e,#707070,#777777,#7e7e7e,#858585,#8d8d8d,#959595,#9d9d9d,#a7a7a7,#b1b1b1,#bcbcbc,#c4c4c4,#cdcdcd,#d6d6d6,#dddddd,#e4e4e4,#ebebeb,#f1f1f1,#f7f7f7,#fdfdfd,#fffefe,#fffefe)"></i><i style="left:39.1px;background:linear-gradient(#fffefe,#fffefe,#fdfdfd,#f7f7f7,#f1f1f1,#ebebeb,#e5e5e5,#dfdfdf,#d7d7d7,#d0d0d0,#c7c7c7,#bfbfbf,#b7b7b7,#adadad,#a3a3a3,#999999,#919191,#898989,#828282,#797979,#737373,#6e6e6e,#676767,#656565,#636363,#656565,#696969,#6e6e6e,#757575,#7e7e7e,#878787,#8f8f8f,#999999,#a3a3a3,#adadad,#b7b7b7,#c1c1c1,#cacaca,#d3d3d3,#dcdcdc,#e2e2e2,#eaeaea,#f0f0f0,#f7f7f7,#fdfdfd,#fffefe,#fffefe)"></i><i style="left:42.1px;background:linear-gradient(#fffefe,#fffefe,#fdfdfd,#f7f7f7,#f1f1f1,#ebebeb,#e4e4e4,#dddddd,#d6d6d6,#cdcdcd,#c5c5c5,#bcbcbc,#b3b3b3,#a7a7a7,#9d9d9d,#959595,#8b8b8b,#828282,#7c7c7c,#737373,#6c6c6c,#656565,#606060,#5e5e5e,#5a5a5a,#5c5c5c,#606060,#676767,#6e6e6e,#777777,#808080,#898989,#939393,#9d9d9d,#a9a9a9,#b3b3b3,#bebebe,#c8c8c8,#d1d1d1,#dadada,#e1e1e1,#e9e9e9,#f0f0f0,#f6f6f6,#fcfcfc,#fffefe,#fffefe)"></i><i style="left:45.1px;background:linear-gradient(#fffefe,#fffefe,#fdfdfd,#f7f7f7,#f1f1f1,#eaeaea,#e4e4e4,#dcdcdc,#d4d4d4,#cbcbcb,#c2c2c2,#bbbbbb,#afafaf,#a5a5a5,#9b9b9b,#919191,#878787,#7e7e7e,#757575,#6e6e6e,#676767,#606060,#5a5a5a,#575757,#535353,#555555,#5a5a5a,#606060,#676767,#707070,#797979,#858585,#8f8f8f,#999999,#a5a5a5,#b1b1b1,#bcbcbc,#c5c5c5,#d0d0d0,#d9d9d9,#e1e1e1,#e9e9e9,#f0f0f0,#f6f6f6,#fcfcfc,#fffefe,#fffefe)"></i><i style="left:48.1px;background:linear-gradient(#fffefe,#fffefe,#fdfdfd,#f7f7f7,#f0f0f0,#eaeaea,#e2e2e2,#dcdcdc,#d3d3d3,#cacaca,#c1c1c1,#b7b7b7,#adadad,#a1a1a1,#979797,#8d8d8d,#828282,#797979,#707070,#696969,#606060,#5a5a5a,#555555,#505050,#4e4e4e,#505050,#555555,#5c5c5c,#636363,#6c6c6c,#757575,#808080,#8b8b8b,#959595,#a1a1a1,#adadad,#bbbbbb,#c4c4c4,#cecece,#d7d7d7,#e0e0e0,#e7e7e7,#efefef,#f6f6f6,#fcfcfc,#fffefe,#fffefe)"></i><i style="left:51.1px;background:linear-gradient(#fffefe,#fffefe,#fcfcfc,#f7f7f7,#f0f0f0,#eaeaea,#e2e2e2,#dadada,#d3d3d3,#cacaca,#c1c1c1,#b7b7b7,#ababab,#9f9f9f,#959595,#8b8b8b,#808080,#777777,#6e6e6e,#656565,#5e5e5e,#575757,#505050,#4c4c4c,#4a4a4a,#4c4c4c,#505050,#575757,#5e5e5e,#676767,#707070,#7c7c7c,#878787,#939393,#9f9f9f,#ababab,#b7b7b7,#c2c2c2,#cdcdcd,#d6d6d6,#e0e0e0,#e7e7e7,#efefef,#f6f6f6,#fcfcfc,#fffefe,#fffefe)"></i><i style="left:54.1px;background:linear-gradient(#fffefe,#fffefe,#fcfcfc,#f6f6f6,#f0f0f0,#e9e9e9,#e2e2e2,#dadada,#d1d1d1,#c8c8c8,#bfbfbf,#b5b5b5,#a9a9a9,#9f9f9f,#939393,#898989,#7e7e7e,#757575,#6c6c6c,#636363,#5a5a5a,#535353,#4e4e4e,#4a4a4a,#484848,#4a4a4a,#4e4e4e,#535353,#5c5c5c,#656565,#6e6e6e,#797979,#858585,#919191,#9d9d9d,#a9a9a9,#b7b7b7,#c1c1c1,#cbcbcb,#d6d6d6,#dfdfdf,#e6e6e6,#efefef,#f6f6f6,#fcfcfc,#fffefe,#fffefe)"></i><i style="left:57.1px;background:linear-gradient(#fffefe,#fffefe,#fcfcfc,#f6f6f6,#f0f0f0,#e9e9e9,#e2e2e2,#dadada,#d1d1d1,#c8c8c8,#bfbfbf,#b5b5b5,#a9a9a9,#9d9d9d,#939393,#898989,#7e7e7e,#737373,#696969,#606060,#5a5a5a,#535353,#4c4c4c,#484848,#464646,#484848,#4c4c4c,#535353,#5a5a5a,#636363,#6c6c6c,#777777,#828282,#8f8f8f,#9b9b9b,#a9a9a9,#b5b5b5,#c1c1c1,#cbcbcb,#d4d4d4,#dfdfdf,#e6e6e6,#efefef,#f6f6f6,#fcfcfc,#fffefe,#fffefe)"></i><i style="left:60.1px;background:linear-gradient(#fffefe,#fffefe,#fcfcfc,#f6f6f6,#f0f0f0,#e9e9e9,#e2e2e2,#dadada,#d1d1d1,#c8c8c8,#bfbfbf,#b5b5b5,#a9a9a9,#9d9d9d,#939393,#898989,#7e7e7e,#737373,#696969,#606060,#5a5a5a,#505050,#4c4c4c,#484848,#464646,#484848,#4a4a4a,#505050,#5a5a5a,#636363,#6c6c6c,#777777,#828282,#8f8f8f,#9b9b9b,#a7a7a7,#b5b5b5,#c1c1c1,#cbcbcb,#d4d4d4,#dfdfdf,#e6e6e6,#ededed,#f6f6f6,#fcfcfc,#fffefe,#fffefe)"></i><i style="left:63.2px;background:linear-gradient(#fffefe,#fffefe,#fcfcfc,#f7f7f7,#f0f0f0,#eaeaea,#e2e2e2,#dadada,#d3d3d3,#cacaca,#bfbfbf,#b5b5b5,#a9a9a9,#9f9f9f,#939393,#898989,#7e7e7e,#737373,#696969,#606060,#5a5a5a,#535353,#4c4c4c,#484848,#464646,#484848,#4c4c4c,#505050,#5a5a5a,#636363,#6c6c6c,#777777,#828282,#8f8f8f,#9b9b9b,#a7a7a7,#b5b5b5,#c1c1c1,#cacaca,#d4d4d4,#dfdfdf,#e6e6e6,#ededed,#f6f6f6,#fcfcfc,#fffefe,#fffefe)"></i><i style="left:66.2px;background:linear-gradient(#fffefe,#fffefe,#fdfdfd,#f7f7f7,#f1f1f1,#eaeaea,#e2e2e2,#dcdcdc,#d3d3d3,#cacaca,#c1c1c1,#b7b7b7,#ababab,#a1a1a1,#959595,#8b8b8b,#808080,#757575,#6c6c6c,#636363,#5c5c5c,#555555,#4e4e4e,#4a4a4a,#484848,#4a4a4a,#4c4c4c,#535353,#5a5a5a,#636363,#6e6e6e,#777777,#828282,#8f8f8f,#9b9b9b,#a7a7a7,#b5b5b5,#c1c1c1,#cbcbcb,#d4d4d4,#dfdfdf,#e6e6e6,#ededed,#f6f6f6,#fcfcfc,#fffefe,#fffefe)"></i><i style="left:69.2px;background:linear-gradient(#fffefe,#fffefe,#fdfdfd,#f7f7f7,#f1f1f1,#eaeaea,#e4e4e4,#dcdcdc,#d4d4d4,#cbcbcb,#c2c2c2,#b9b9b9,#adadad,#a3a3a3,#979797,#8d8d8d,#828282,#797979,#707070,#676767,#606060,#575757,#535353,#4e4e4e,#4a4a4a,#4c4c4c,#505050,#555555,#5e5e5e,#656565,#707070,#797979,#858585,#919191,#9d9d9d,#a9a9a9,#b5b5b5,#c1c1c1,#cbcbcb,#d6d6d6,#dfdfdf,#e6e6e6,#efefef,#f6f6f6,#fcfcfc,#fffefe,#fffefe)"></i><i style="left:72.2px;background:linear-gradient(#fffefe,#fffefe,#fdfdfd,#f7f7f7,#f1f1f1,#ebebeb,#e5e5e5,#dddddd,#d6d6d6,#cdcdcd,#c4c4c4,#bcbcbc,#b1b1b1,#a7a7a7,#9b9b9b,#919191,#878787,#7e7e7e,#757575,#6c6c6c,#656565,#5e5e5e,#575757,#535353,#4e4e4e,#505050,#555555,#5a5a5a,#606060,#696969,#737373,#7e7e7e,#898989,#939393,#9f9f9f,#ababab,#b7b7b7,#c2c2c2,#cdcdcd,#d6d6d6,#dfdfdf,#e6e6e6,#efefef,#f6f6f6,#fcfcfc,#fffefe,#fffefe)"></i><i style="left:75.2px;background:linear-gradient(#fffefe,#fffefe,#fdfdfd,#f7f7f7,#f2f2f2,#ececec,#e6e6e6,#dfdfdf,#d7d7d7,#d0d0d0,#c7c7c7,#bfbfbf,#b5b5b5,#ababab,#a1a1a1,#979797,#8d8d8d,#858585,#7c7c7c,#737373,#696969,#636363,#5e5e5e,#5a5a5a,#555555,#575757,#5a5a5a,#606060,#676767,#6e6e6e,#777777,#808080,#8b8b8b,#979797,#a1a1a1,#adadad,#b9b9b9,#c4c4c4,#cdcdcd,#d7d7d7,#e0e0e0,#e7e7e7,#efefef,#f6f6f6,#fcfcfc,#fffefe,#fffefe)"></i><i style="left:78.2px;background:linear-gradient(#fffefe,#fffefe,#fdfdfd,#f8f8f8,#f2f2f2,#ededed,#e7e7e7,#e1e1e1,#dadada,#d3d3d3,#cacaca,#c2c2c2,#b9b9b9,#afafaf,#a5a5a5,#9d9d9d,#939393,#8b8b8b,#828282,#797979,#737373,#6c6c6c,#656565,#606060,#5c5c5c,#5e5e5e,#606060,#676767,#6e6e6e,#757575,#7e7e7e,#878787,#8f8f8f,#999999,#a5a5a5,#b1b1b1,#bcbcbc,#c5c5c5,#cecece,#d7d7d7,#e0e0e0,#e7e7e7,#efefef,#f6f6f6,#fcfcfc,#fffefe,#fffefe)"></i><i style="left:81.2px;background:linear-gradient(#fffefe,#fffefe,#fdfdfd,#f8f8f8,#f3f3f3,#ededed,#e9e9e9,#e2e2e2,#dddddd,#d6d6d6,#cdcdcd,#c5c5c5,#bebebe,#b5b5b5,#ababab,#a3a3a3,#999999,#919191,#8b8b8b,#828282,#7c7c7c,#757575,#6e6e6e,#696969,#656565,#676767,#696969,#6e6e6e,#757575,#7c7c7c,#858585,#8b8b8b,#959595,#9f9f9f,#a9a9a9,#b3b3b3,#bebebe,#c7c7c7,#d0d0d0,#d9d9d9,#e1e1e1,#e9e9e9,#f0f0f0,#f6f6f6,#fcfcfc,#fffefe,#fffefe)"></i><i style="left:84.2px;background:linear-gradient(#fffefe,#fffefe,#fdfdfd,#fafafa,#f5f5f5,#f0f0f0,#eaeaea,#e5e5e5,#e0e0e0,#d9d9d9,#d1d1d1,#cacaca,#c2c2c2,#bcbcbc,#b3b3b3,#ababab,#a1a1a1,#999999,#939393,#8b8b8b,#858585,#7e7e7e,#777777,#757575,#707070,#707070,#737373,#777777,#7e7e7e,#858585,#8b8b8b,#939393,#9b9b9b,#a3a3a3,#adadad,#b9b9b9,#c1c1c1,#cacaca,#d3d3d3,#dadada,#e2e2e2,#e9e9e9,#f0f0f0,#f6f6f6,#fcfcfc,#fffefe,#fffefe)"></i><i style="left:87.2px;background:linear-gradient(#fffefe,#fffefe,#fdfdfd,#fafafa,#f6f6f6,#f1f1f1,#ececec,#e7e7e7,#e2e2e2,#dcdcdc,#d6d6d6,#cecece,#c8c8c8,#c1c1c1,#bbbbbb,#b3b3b3,#ababab,#a3a3a3,#9b9b9b,#959595,#8f8f8f,#898989,#828282,#7e7e7e,#7c7c7c,#7c7c7c,#7e7e7e,#828282,#878787,#8d8d8d,#939393,#999999,#a1a1a1,#a9a9a9,#b3b3b3,#bcbcbc,#c4c4c4,#cdcdcd,#d4d4d4,#dddddd,#e4e4e4,#eaeaea,#f1f1f1,#f7f7f7,#fdfdfd,#fffefe,#fffefe)"></i><i style="left:90.2px;background:linear-gradient(#fffefe,#fffefe,#fdfdfd,#fbfbfb,#f6f6f6,#f2f2f2,#ededed,#eaeaea,#e5e5e5,#e0e0e0,#dadada,#d4d4d4,#cdcdcd,#c7c7c7,#c1c1c1,#bbbbbb,#b3b3b3,#adadad,#a5a5a5,#9f9f9f,#999999,#939393,#8f8f8f,#8b8b8b,#878787,#878787,#898989,#8d8d8d,#919191,#959595,#9b9b9b,#a1a1a1,#a9a9a9,#b1b1b1,#b9b9b9,#c1c1c1,#c7c7c7,#d0d0d0,#d7d7d7,#dfdfdf,#e5e5e5,#ebebeb,#f1f1f1,#f7f7f7,#fdfdfd,#fffefe,#fffefe)"></i><i style="left:93.2px;background:linear-gradient(#fffefe,#fffefe,#fefefe,#fbfbfb,#f7f7f7,#f3f3f3,#f0f0f0,#ececec,#e7e7e7,#e4e4e4,#dfdfdf,#d9d9d9,#d3d3d3,#cdcdcd,#c8c8c8,#c2c2c2,#bcbcbc,#b7b7b7,#b1b1b1,#ababab,#a5a5a5,#9f9f9f,#9b9b9b,#979797,#939393,#939393,#959595,#979797,#9b9b9b,#9f9f9f,#a3a3a3,#a9a9a9,#b1b1b1,#b7b7b7,#bebebe,#c4c4c4,#cbcbcb,#d3d3d3,#dadada,#e0e0e0,#e6e6e6,#ececec,#f2f2f2,#f7f7f7,#fdfdfd,#fffefe,#fffefe)"></i><i style="left:96.2px;background:linear-gradient(#fffefe,#fffefe,#fefefe,#fcfcfc,#f8f8f8,#f6f6f6,#f2f2f2,#efefef,#ebebeb,#e7e7e7,#e2e2e2,#dfdfdf,#d9d9d9,#d4d4d4,#cecece,#cacaca,#c5c5c5,#c1c1c1,#bcbcbc,#b7b7b7,#b1b1b1,#ababab,#a7a7a7,#a3a3a3,#a1a1a1,#9f9f9f,#a1a1a1,#a3a3a3,#a5a5a5,#a9a9a9,#adadad,#b3b3b3,#b9b9b9,#bebebe,#c4c4c4,#cacaca,#d0d0d0,#d6d6d6,#dddddd,#e2e2e2,#e7e7e7,#ededed,#f2f2f2,#f8f8f8,#fdfdfd,#fffefe,#fffefe)"></i><i style="left:99.2px;background:linear-gradient(#fffefe,#fffefe,#fefefe,#fcfcfc,#fafafa,#f7f7f7,#f5f5f5,#f1f1f1,#efefef,#ebebeb,#e7e7e7,#e4e4e4,#e0e0e0,#dcdcdc,#d7d7d7,#d3d3d3,#cdcdcd,#cacaca,#c5c5c5,#c1c1c1,#bcbcbc,#b9b9b9,#b5b5b5,#b1b1b1,#adadad,#adadad,#adadad,#afafaf,#b1b1b1,#b5b5b5,#b9b9b9,#bcbcbc,#bfbfbf,#c4c4c4,#c8c8c8,#cecece,#d4d4d4,#dadada,#e0e0e0,#e5e5e5,#eaeaea,#efefef,#f3f3f3,#f8f8f8,#fdfdfd,#fffefe,#fffefe)"></i><i style="left:102.3px;background:linear-gradient(#fffefe,#fffefe,#fefefe,#fdfdfd,#fbfbfb,#fafafa,#f7f7f7,#f5f5f5,#f2f2f2,#efefef,#ececec,#e9e9e9,#e5e5e5,#e2e2e2,#dfdfdf,#dadada,#d6d6d6,#d3d3d3,#cecece,#cbcbcb,#c7c7c7,#c4c4c4,#c1c1c1,#bebebe,#bbbbbb,#bbbbbb,#bbbbbb,#bbbbbb,#bcbcbc,#bfbfbf,#c1c1c1,#c4c4c4,#c7c7c7,#cbcbcb,#cecece,#d3d3d3,#d9d9d9,#dddddd,#e2e2e2,#e7e7e7,#ebebeb,#f0f0f0,#f5f5f5,#fafafa,#fdfdfd,#fffefe,#fffefe)"></i><i style="left:105.3px;background:linear-gradient(#fffefe,#fffefe,#fefefe,#fdfdfd,#fcfcfc,#fbfbfb,#fafafa,#f7f7f7,#f5f5f5,#f3f3f3,#f1f1f1,#ededed,#ebebeb,#e9e9e9,#e5e5e5,#e2e2e2,#dfdfdf,#dcdcdc,#d9d9d9,#d4d4d4,#d1d1d1,#cecece,#cbcbcb,#c8c8c8,#c7c7c7,#c5c5c5,#c5c5c5,#c5c5c5,#c7c7c7,#c8c8c8,#cacaca,#cbcbcb,#cecece,#d1d1d1,#d6d6d6,#d9d9d9,#dddddd,#e1e1e1,#e5e5e5,#eaeaea,#ededed,#f1f1f1,#f6f6f6,#fafafa,#fdfdfd,#fffefe,#fffefe)"></i><i style="left:108.3px;background:linear-gradient(#fffefe,#fffefe,#fefefe,#fefefe,#fdfdfd,#fdfdfd,#fcfcfc,#fbfbfb,#f8f8f8,#f7f7f7,#f5f5f5,#f3f3f3,#f1f1f1,#efefef,#ececec,#eaeaea,#e7e7e7,#e5e5e5,#e2e2e2,#e0e0e0,#dcdcdc,#d9d9d9,#d7d7d7,#d4d4d4,#d1d1d1,#d1d1d1,#d0d0d0,#d0d0d0,#d0d0d0,#d1d1d1,#d3d3d3,#d4d4d4,#d6d6d6,#d9d9d9,#dcdcdc,#dfdfdf,#e2e2e2,#e5e5e5,#e9e9e9,#ececec,#f0f0f0,#f2f2f2,#f7f7f7,#fafafa,#fdfdfd,#fffefe,#fffefe)"></i><i style="left:111.3px;background:linear-gradient(#fffefe,#fffefe,#fffefe,#fffefe,#fefefe,#fefefe,#fefefe,#fdfdfd,#fcfcfc,#fbfbfb,#fafafa,#f8f8f8,#f7f7f7,#f5f5f5,#f3f3f3,#f1f1f1,#efefef,#ececec,#ebebeb,#e9e9e9,#e6e6e6,#e4e4e4,#e1e1e1,#e0e0e0,#dddddd,#dcdcdc,#dcdcdc,#dadada,#dadada,#dcdcdc,#dcdcdc,#dddddd,#dfdfdf,#e0e0e0,#e1e1e1,#e4e4e4,#e6e6e6,#e9e9e9,#ececec,#efefef,#f1f1f1,#f5f5f5,#f7f7f7,#fbfbfb,#fdfdfd,#fffefe,#fffefe)"></i><i style="left:114.3px;background:linear-gradient(#fffefe,#fffefe,#fffefe,#fffdfc,#fffbfa,#fffbfa,#fffaf7,#fffaf7,#fffaf7,#fffbfa,#fefefe,#fefefe,#fdfdfd,#fcfcfc,#fafafa,#f8f8f8,#f7f7f7,#f5f5f5,#f3f3f3,#f1f1f1,#efefef,#ededed,#ebebeb,#eaeaea,#e7e7e7,#e6e6e6,#e5e5e5,#e5e5e5,#e4e4e4,#e4e4e4,#e4e4e4,#e5e5e5,#e5e5e5,#e6e6e6,#e7e7e7,#e9e9e9,#ebebeb,#ececec,#efefef,#f1f1f1,#f3f3f3,#f6f6f6,#f8f8f8,#fbfbfb,#fefefe,#fffefe,#fffefe)"></i><i style="left:117.3px;background:linear-gradient(#fffefe,#fffefe,#fffefe,#fffdfc,#fffaf7,#fff9f5,#fff7f3,#fef6f1,#fef4ef,#fef3ec,#fef3ec,#fef3ec,#fef3ec,#fef4ef,#fef6f1,#fff9f5,#fefefe,#fdfdfd,#fcfcfc,#fbfbfb,#f8f8f8,#f7f7f7,#f5f5f5,#f3f3f3,#f1f1f1,#f0f0f0,#efefef,#ededed,#ededed,#ececec,#ececec,#ececec,#ececec,#ececec,#ededed,#efefef,#efefef,#f1f1f1,#f2f2f2,#f3f3f3,#f6f6f6,#f7f7f7,#fafafa,#fcfcfc,#fefefe,#fffefe,#fffefe)"></i><i style="left:120.3px;background:linear-gradient(#fffefe,#fffefe,#fffefe,#fffbfa,#fff9f5,#fef6f1,#fef4ef,#fef2ea,#fef0e8,#feefe6,#feede4,#feece1,#feebdf,#feebdf,#feebdf,#feebdf,#feebdf,#feece1,#feede4,#fef0e8,#fef3ec,#fff7f3,#fefefe,#fdfdfd,#fbfbfb,#fafafa,#f8f8f8,#f7f7f7,#f6f6f6,#f5f5f5,#f3f3f3,#f3f3f3,#f3f3f3,#f2f2f2,#f3f3f3,#f3f3f3,#f3f3f3,#f5f5f5,#f6f6f6,#f7f7f7,#f8f8f8,#fafafa,#fbfbfb,#fdfdfd,#fefefe,#fffefe,#fffefe)"></i><i style="left:123.3px;background:linear-gradient(#fffefe,#fffefe,#fffefe,#fffbfa,#fff7f3,#fef4ef,#fef2ea,#feefe6,#feede4,#feebdf,#fee8db,#fee6d9,#fde3d4,#fde2d2,#fde2d2,#fde1d0,#fde1d0,#fde1d0,#fde1d0,#fde1d0,#fde2d2,#fde3d4,#fee5d6,#fee8db,#feebdf,#feefe6,#fef3ec,#fff7f3,#fefefe,#fdfdfd,#fcfcfc,#fbfbfb,#fafafa,#fafafa,#f8f8f8,#f8f8f8,#f8f8f8,#f8f8f8,#fafafa,#fafafa,#fbfbfb,#fbfbfb,#fcfcfc,#fdfdfd,#fefefe,#fffefe,#fffefe)"></i><i style="left:126.3px;background:linear-gradient(#fffefe,#fffefe,#fffefe,#fffaf7,#fff7f3,#fef3ec,#fef0e8,#feede4,#fee9dd,#fee6d9,#fde3d4,#fde1d0,#fddecb,#fddcc9,#fddbc7,#fdd9c4,#fcd7c2,#fcd5bf,#fcd5bf,#fcd5bf,#fcd5bf,#fcd5bf,#fcd7c2,#fdd9c4,#fddbc7,#fddecb,#fde1d0,#fde3d4,#fee8db,#feebdf,#feefe6,#fef2ea,#fef6f1,#fffaf7,#fefefe,#fefefe,#fdfdfd,#fdfdfd,#fcfcfc,#fcfcfc,#fdfdfd,#fdfdfd,#fdfdfd,#fefefe,#fefefe,#fffefe,#fffefe)"></i><i style="left:129.3px;background:linear-gradient(#fffefe,#fffefe,#fffdfc,#fffaf7,#fef6f1,#fef2ea,#feefe6,#feebdf,#fee8db,#fde3d4,#fddfce,#fddcc9,#fdd9c4,#fcd5bf,#fbd0b9,#fbceb7,#fbccb4,#facab1,#fac8af,#f9c6ac,#f9c6ac,#f9c6ac,#f9c6ac,#fac8af,#facab1,#fbccb4,#fbd0b9,#fcd5bf,#fddbc7,#fddecb,#fde1d0,#fee5d6,#fee8db,#feece1,#feefe6,#fef2ea,#fef4ef,#fff7f3,#fffaf7,#fffdfc,#fefefe,#fefefe,#fefefe,#fefefe,#fefefe,#fffefe,#fffefe)"></i><i style="left:132.3px;background:linear-gradient(#fffefe,#fffefe,#fffdfc,#fffaf7,#fef6f1,#fef2ea,#feede4,#fee9dd,#fee5d6,#fde1d0,#fddcc9,#fcd7c2,#fcd3bc,#fbceb7,#fac8af,#f9c6ac,#f9c2a7,#f8bfa4,#f8bda1,#f8bb9e,#f7b99c,#f7b99c,#f7b99c,#f7b99c,#f8bb9e,#f8bda1,#f9c2a7,#f9c6ac,#fbccb4,#fbd0b9,#fcd7c2,#fddbc7,#fddfce,#fde2d2,#fee6d9,#fee9dd,#feede4,#fef0e8,#fef3ec,#fef6f1,#fff9f5,#fffaf7,#fffdfc,#fffefe,#fffefe,#fffefe,#fffefe)"></i><i style="left:135.3px;background:linear-gradient(#fffefe,#fffefe,#fffdfc,#fff9f5,#fef4ef,#fef0e8,#feece1,#fee6d9,#fde2d2,#fddecb,#fdd9c4,#fcd3bc,#fbccb4,#f9c6ac,#f9c2a7,#f8bda1,#f7b99c,#f7b596,#f6b394,#f6b191,#f6af8e,#f5ac8b,#f5ac8b,#f5ac8b,#f5ac8b,#f6b191,#f7b596,#f7b99c,#f8bfa4,#f9c4a9,#facab1,#fbceb7,#fcd5bf,#fddbc7,#fddfce,#fde3d4,#fee8db,#feebdf,#feefe6,#fef2ea,#fef4ef,#fff7f3,#fffaf7,#fffdfc,#fffefe,#fffefe,#fffefe)"></i><i style="left:138.3px;background:linear-gradient(#fffefe,#fffefe,#fffdfc,#fff9f5,#fef4ef,#feefe6,#feebdf,#fee5d6,#fde1d0,#fddbc7,#fcd5bf,#fbceb7,#fac8af,#f9c2a7,#f8bb9e,#f7b596,#f6b191,#f5ac8b,#f5aa89,#f4a683,#f3a481,#f2a17f,#f2a17f,#f2a17f,#f2a17f,#f4a683,#f5a886,#f6af8e,#f6b394,#f7b99c,#f8bfa4,#f9c4a9,#facab1,#fcd3bc,#fdd9c4,#fddecb,#fde2d2,#fee6d9,#feebdf,#feefe6,#fef2ea,#fef6f1,#fff9f5,#fffbfa,#fffefe,#fffefe,#fffefe)"></i><i style="left:141.3px;background:linear-gradient(#fffefe,#fffefe,#fffdfc,#fff9f5,#fef3ec,#feede4,#fee9dd,#fde3d4,#fddfce,#fdd9c4,#fbd0b9,#facab1,#f9c2a7,#f8bb9e,#f7b596,#f6af8e,#f5aa89,#f4a683,#f2a17f,#f09c7b,#ef9979,#ee9677,#ec9374,#ec9374,#ec9374,#ef9979,#f09c7b,#f3a481,#f5a886,#f6af8e,#f7b596,#f8bb9e,#f9c2a7,#facab1,#fbd0b9,#fcd7c2,#fddecb,#fde2d2,#fee8db,#feece1,#fef0e8,#fef3ec,#fff7f3,#fffbfa,#fffefe,#fffefe,#fffefe)"></i><i style="left:144.4px;background:linear-gradient(#fffefe,#fffefe,#fffdfc,#fff9f5,#fef3ec,#feede4,#fee8db,#fde2d2,#fddcc9,#fcd5bf,#fbceb7,#f9c6ac,#f8bda1,#f7b799,#f6b191,#f5aa89,#f3a481,#f19e7d,#ef9979,#ec9374,#ea8e70,#e98b6e,#e8896c,#e8896c,#e8896c,#e98b6e,#eb9172,#ee9677,#f19e7d,#f4a683,#f5ac8b,#f6b394,#f7b99c,#f9c2a7,#facab1,#fbd0b9,#fdd9c4,#fddfce,#fee5d6,#fee9dd,#feede4,#fef2ea,#fef6f1,#fffaf7,#fffefe,#fffefe,#fffefe)"></i><i style="left:147.4px;background:linear-gradient(#fffefe,#fffefe,#fffdfc,#fff7f3,#fef2ea,#feece1,#fee6d9,#fde1d0,#fddbc7,#fcd3bc,#facab1,#f9c2a7,#f7b99c,#f6b394,#f5aa89,#f3a481,#f09c7b,#ee9677,#ea8e70,#e8896c,#e6866a,#e48066,#e37e64,#e37e64,#e27b62,#e48066,#e6866a,#e98b6e,#ec9374,#f09c7b,#f3a481,#f5aa89,#f6b394,#f8bb9e,#f9c4a9,#fbccb4,#fcd5bf,#fddcc9,#fde2d2,#fee6d9,#feece1,#fef0e8,#fef6f1,#fffaf7,#fffdfc,#fffefe,#fffefe)"></i><i style="left:150.4px;background:linear-gradient(#fffefe,#fffefe,#fffdfc,#fff7f3,#fef2ea,#feece1,#fee6d9,#fde1d0,#fddbc7,#fbd0b9,#fac8af,#f8bfa4,#f7b799,#f6af8e,#f4a683,#f19e7d,#ee9677,#ea8e70,#e8896c,#e48066,#e37e64,#e17860,#df765e,#de735c,#de735c,#df765e,#e27b62,#e58368,#e8896c,#ec9374,#f09c7b,#f3a481,#f5ac8b,#f7b596,#f8bda1,#f9c6ac,#fbceb7,#fdd9c4,#fddfce,#fee5d6,#feebdf,#feefe6,#fef4ef,#fff9f5,#fffdfc,#fffefe,#fffefe)"></i><i style="left:153.4px;background:linear-gradient(#fffefe,#fffefe,#fffdfc,#fff7f3,#fef2ea,#feece1,#fee5d6,#fddfce,#fdd9c4,#fbceb7,#f9c6ac,#f8bb9e,#f6b394,#f5aa89,#f2a17f,#ef9979,#eb9172,#e8896c,#e48066,#e27b62,#df765e,#dd7059,#dc6e57,#db6b55,#db6b55,#dc6e57,#de735c,#e17860,#e48066,#e8896c,#ec9374,#f09c7b,#f4a683,#f6af8e,#f7b99c,#f9c2a7,#facab1,#fcd5bf,#fddcc9,#fde3d4,#fee9dd,#feede4,#fef3ec,#fff9f5,#fffdfc,#fffefe,#fffefe)"></i><i style="left:156.4px;background:linear-gradient(#fffefe,#fffefe,#fffdfc,#fff7f3,#fef2ea,#feebdf,#fee5d6,#fddecb,#fcd7c2,#fbccb4,#f9c4a9,#f7b99c,#f6b191,#f5a886,#f19e7d,#ec9374,#e98b6e,#e58368,#e27b62,#de735c,#dc6e57,#da6853,#d86551,#d7634f,#d7634f,#d86551,#db6b55,#dd7059,#e17860,#e58368,#e98b6e,#ee9677,#f2a17f,#f5aa89,#f6b394,#f8bda1,#f9c6ac,#fbd0b9,#fddbc7,#fde1d0,#fee8db,#feede4,#fef3ec,#fff9f5,#fffdfc,#fffefe,#fffefe)"></i><i style="left:159.4px;background:linear-gradient(#fffefe,#fffefe,#fffdfc,#fff7f3,#fef2ea,#feebdf,#fde3d4,#fddecb,#fcd5bf,#fbccb4,#f9c2a7,#f7b799,#f6af8e,#f4a683,#ef9979,#eb9172,#e6866a,#e37e64,#df765e,#dc6e57,#da6853,#d7634f,#d6604d,#d55d4c,#d35a4a,#d6604d,#d7634f,#db6b55,#de735c,#e27b62,#e6866a,#ea8e70,#ef9979,#f4a683,#f6af8e,#f7b99c,#f9c4a9,#fbceb7,#fdd9c4,#fddfce,#fee6d9,#feece1,#fef2ea,#fff7f3,#fffdfc,#fffefe,#fffefe)"></i><i style="left:162.4px;background:linear-gradient(#fffefe,#fffefe,#fffdfc,#fff7f3,#fef0e8,#feebdf,#fde3d4,#fddecb,#fcd5bf,#facab1,#f8bfa4,#f7b799,#f5ac8b,#f3a481,#ee9677,#e98b6e,#e58368,#e17860,#dd7059,#db6b55,#d7634f,#d55d4c,#d35a4a,#d25849,#d05548,#d25849,#d55d4c,#d86551,#dc6e57,#df765e,#e48066,#e8896c,#ee9677,#f2a17f,#f5ac8b,#f7b596,#f8bfa4,#facab1,#fcd5bf,#fddecb,#fee5d6,#feebdf,#fef2ea,#fff7f3,#fffdfc,#fffefe,#fffefe)"></i><i style="left:165.4px;background:linear-gradient(#fffefe,#fffefe,#fffdfc,#fff7f3,#fef0e8,#feebdf,#fde3d4,#fddcc9,#fcd5bf,#facab1,#f8bfa4,#f7b596,#f5aa89,#f2a17f,#ec9374,#e8896c,#e48066,#df765e,#dc6e57,#d86551,#d6604d,#d35a4a,#d05548,#cf5246,#ce4f45,#cf5246,#d25849,#d6604d,#da6853,#dd7059,#e27b62,#e6866a,#eb9172,#f09c7b,#f5a886,#f6b394,#f8bda1,#fac8af,#fcd3bc,#fddcc9,#fde3d4,#feebdf,#fef2ea,#fff7f3,#fffdfc,#fffefe,#fffefe)"></i><i style="left:168.4px;background:linear-gradient(#fffefe,#fffefe,#fffdfc,#fff7f3,#fef0e8,#feebdf,#fde3d4,#fddcc9,#fcd3bc,#fac8af,#f8bda1,#f6b394,#f5aa89,#f19e7d,#ec9374,#e8896c,#e37e64,#de735c,#db6b55,#d7634f,#d55d4c,#d05548,#ce4f45,#cc4c44,#cb4942,#ce4f45,#d05548,#d35a4a,#d7634f,#db6b55,#df765e,#e48066,#e98b6e,#ef9979,#f4a683,#f6b191,#f8bb9e,#f9c6ac,#fcd3bc,#fddcc9,#fde3d4,#fee9dd,#fef0e8,#fff7f3,#fffdfc,#fffefe,#fffefe)"></i><i style="left:171.4px;background:linear-gradient(#fffefe,#fffefe,#fffdfc,#fff7f3,#fef0e8,#feebdf,#fde3d4,#fddcc9,#fcd3bc,#fac8af,#f8bda1,#f6b394,#f5a886,#f19e7d,#eb9172,#e6866a,#e27b62,#de735c,#da6853,#d6604d,#d35a4a,#cf5246,#cc4c44,#cb4942,#c94741,#cc4c44,#ce4f45,#d25849,#d6604d,#da6853,#de735c,#e37e64,#e8896c,#ee9677,#f3a481,#f6af8e,#f7b99c,#f9c4a9,#fbd0b9,#fddbc7,#fde2d2,#fee9dd,#fef0e8,#fff7f3,#fffdfc,#fffefe,#fffefe)"></i><i style="left:174.4px;background:linear-gradient(#fffefe,#fffefe,#fffdfc,#fff7f3,#fef0e8,#feebdf,#fde3d4,#fddcc9,#fcd3bc,#fac8af,#f8bda1,#f6b394,#f5a886,#f19e7d,#eb9172,#e6866a,#e27b62,#dd7059,#da6853,#d6604d,#d25849,#cf5246,#cc4c44,#c94741,#c84440,#cb4942,#cc4c44,#d05548,#d55d4c,#d86551,#dd7059,#e27b62,#e6866a,#ec9374,#f2a17f,#f5ac8b,#f7b799,#f9c4a9,#fbceb7,#fddbc7,#fde2d2,#fee9dd,#fef0e8,#fef6f1,#fffdfc,#fffefe,#fffefe)"></i><i style="left:177.4px;background:linear-gradient(#fffefe,#fffefe,#fffdfc,#fff7f3,#fef0e8,#feebdf,#fde3d4,#fddcc9,#fcd3bc,#fac8af,#f8bda1,#f6b394,#f5a886,#f19e7d,#eb9172,#e6866a,#e27b62,#dd7059,#da6853,#d6604d,#d25849,#ce4f45,#cb4942,#c94741,#c84440,#c94741,#cc4c44,#cf5246,#d35a4a,#d7634f,#dc6e57,#e17860,#e58368,#eb9172,#f19e7d,#f5aa89,#f7b799,#f9c2a7,#fbceb7,#fdd9c4,#fde1d0,#fee8db,#feefe6,#fef6f1,#fffdfc,#fffefe,#fffefe)"></i><i style="left:180.4px;background:linear-gradient(#fffefe,#fffefe,#fffdfc,#fff7f3,#fef0e8,#feebdf,#fde3d4,#fddcc9,#fcd5bf,#facab1,#f8bda1,#f6b394,#f5aa89,#f19e7d,#eb9172,#e6866a,#e27b62,#dd7059,#da6853,#d6604d,#d25849,#ce4f45,#cb4942,#c94741,#c6413e,#c94741,#cb4942,#cf5246,#d35a4a,#d7634f,#dc6e57,#e17860,#e58368,#eb9172,#f19e7d,#f5aa89,#f7b596,#f9c2a7,#fbccb4,#fdd9c4,#fde1d0,#fee8db,#feefe6,#fef6f1,#fffdfc,#fffefe,#fffefe)"></i><i style="left:183.5px;background:linear-gradient(#fffefe,#fffefe,#fffdfc,#fff7f3,#fef2ea,#feebdf,#fde3d4,#fddecb,#fcd5bf,#facab1,#f8bfa4,#f7b596,#f5aa89,#f19e7d,#ec9374,#e6866a,#e27b62,#de735c,#da6853,#d6604d,#d25849,#ce4f45,#cb4942,#c94741,#c84440,#c94741,#cb4942,#cf5246,#d35a4a,#d7634f,#db6b55,#df765e,#e58368,#ea8e70,#f09c7b,#f5aa89,#f7b596,#f9c2a7,#fbccb4,#fdd9c4,#fde1d0,#fee8db,#feefe6,#fef6f1,#fffdfc,#fffefe,#fffefe)"></i><i style="left:186.5px;background:linear-gradient(#fffefe,#fffefe,#fffdfc,#fff7f3,#fef2ea,#feebdf,#fee5d6,#fddecb,#fcd5bf,#fbccb4,#f8bfa4,#f7b799,#f5ac8b,#f2a17f,#ec9374,#e8896c,#e37e64,#de735c,#db6b55,#d7634f,#d35a4a,#cf5246,#cc4c44,#c94741,#c84440,#c94741,#cc4c44,#cf5246,#d35a4a,#d7634f,#dc6e57,#df765e,#e58368,#ea8e70,#f09c7b,#f5a886,#f7b596,#f8bfa4,#fbccb4,#fcd7c2,#fde1d0,#fee8db,#feefe6,#fef6f1,#fffdfc,#fffefe,#fffefe)"></i><i style="left:189.5px;background:linear-gradient(#fffefe,#fffefe,#fffdfc,#fff7f3,#fef2ea,#feece1,#fee5d6,#fddfce,#fcd7c2,#fbccb4,#f9c2a7,#f7b799,#f6af8e,#f3a481,#ee9677,#e98b6e,#e48066,#df765e,#dc6e57,#d86551,#d55d4c,#d05548,#ce4f45,#cb4942,#c94741,#cb4942,#cc4c44,#d05548,#d35a4a,#d86551,#dc6e57,#e17860,#e58368,#eb9172,#f09c7b,#f5aa89,#f7b596,#f8bfa4,#fbccb4,#fcd7c2,#fde1d0,#fee8db,#feefe6,#fef6f1,#fffdfc,#fffefe,#fffefe)"></i><i style="left:192.5px;background:linear-gradient(#fffefe,#fffefe,#fffdfc,#fff7f3,#fef2ea,#feece1,#fee6d9,#fddfce,#fdd9c4,#fbceb7,#f9c4a9,#f7b99c,#f6b191,#f4a683,#f09c7b,#ea8e70,#e58368,#e27b62,#dd7059,#da6853,#d6604d,#d25849,#cf5246,#ce4f45,#cb4942,#cc4c44,#cf5246,#d25849,#d55d4c,#d86551,#dd7059,#e17860,#e6866a,#eb9172,#f19e7d,#f5aa89,#f7b596,#f9c2a7,#fbccb4,#fdd9c4,#fde1d0,#fee8db,#feefe6,#fef6f1,#fffdfc,#fffefe,#fffefe)"></i><i style="left:195.5px;background:linear-gradient(#fffefe,#fffefe,#fffdfc,#fff7f3,#fef3ec,#feece1,#fee6d9,#fde1d0,#fddbc7,#fbd0b9,#f9c6ac,#f8bda1,#f6b394,#f5a886,#f19e7d,#ec9374,#e8896c,#e37e64,#df765e,#dc6e57,#d86551,#d55d4c,#d25849,#cf5246,#ce4f45,#cf5246,#d05548,#d35a4a,#d7634f,#db6b55,#de735c,#e27b62,#e8896c,#ec9374,#f2a17f,#f5ac8b,#f7b799,#f9c2a7,#fbceb7,#fdd9c4,#fde1d0,#fee8db,#feefe6,#fef6f1,#fffdfc,#fffefe,#fffefe)"></i><i style="left:198.5px;background:linear-gradient(#fffefe,#fffefe,#fffdfc,#fff9f5,#fef3ec,#feede4,#fee8db,#fde2d2,#fddcc9,#fcd3bc,#fac8af,#f8bfa4,#f7b596,#f5ac8b,#f3a481,#ef9979,#ea8e70,#e58368,#e27b62,#de735c,#db6b55,#d7634f,#d55d4c,#d25849,#d05548,#d25849,#d35a4a,#d6604d,#d86551,#dc6e57,#df765e,#e48066,#e98b6e,#ee9677,#f2a17f,#f5ac8b,#f7b799,#f9c4a9,#fbceb7,#fdd9c4,#fde1d0,#fee8db,#feefe6,#fef6f1,#fffdfc,#fffefe,#fffefe)"></i><i style="left:201.5px;background:linear-gradient(#fffefe,#fffefe,#fffdfc,#fff9f5,#fef3ec,#feede4,#fee9dd,#fde3d4,#fddecb,#fcd5bf,#fbccb4,#f9c2a7,#f7b99c,#f6b191,#f5a886,#f19e7d,#ec9374,#e8896c,#e48066,#e17860,#dd7059,#db6b55,#d7634f,#d6604d,#d35a4a,#d55d4c,#d6604d,#d86551,#db6b55,#de735c,#e27b62,#e58368,#ea8e70,#ef9979,#f4a683,#f6af8e,#f7b99c,#f9c4a9,#fbd0b9,#fddbc7,#fde2d2,#fee9dd,#feefe6,#fef6f1,#fffdfc,#fffefe,#fffefe)"></i><i style="left:204.5px;background:linear-gradient(#fffefe,#fffefe,#fffdfc,#fff9f5,#fef4ef,#feefe6,#fee9dd,#fee5d6,#fddfce,#fdd9c4,#fbceb7,#f9c6ac,#f8bda1,#f7b596,#f5ac8b,#f3a481,#ef9979,#eb9172,#e8896c,#e48066,#e17860,#dd7059,#db6b55,#da6853,#d7634f,#d86551,#da6853,#db6b55,#de735c,#e17860,#e48066,#e8896c,#ec9374,#f19e7d,#f5a886,#f6b394,#f8bb9e,#f9c6ac,#fbd0b9,#fddbc7,#fde2d2,#fee9dd,#fef0e8,#fef6f1,#fffdfc,#fffefe,#fffefe)"></i><i style="left:207.5px;background:linear-gradient(#fffefe,#fffefe,#fffdfc,#fff9f5,#fef4ef,#fef0e8,#feebdf,#fee6d9,#fde1d0,#fddbc7,#fcd3bc,#facab1,#f9c2a7,#f7b99c,#f6b191,#f5aa89,#f2a17f,#ef9979,#eb9172,#e8896c,#e48066,#e17860,#de735c,#dd7059,#db6b55,#dc6e57,#dd7059,#de735c,#e17860,#e48066,#e6866a,#ea8e70,#ef9979,#f3a481,#f5ac8b,#f7b596,#f8bfa4,#fac8af,#fcd3bc,#fddcc9,#fde3d4,#fee9dd,#fef0e8,#fff7f3,#fffdfc,#fffefe,#fffefe)"></i><i style="left:210.5px;background:linear-gradient(#fffefe,#fffefe,#fffdfc,#fffaf7,#fef6f1,#fef0e8,#feece1,#fee8db,#fde2d2,#fddecb,#fcd7c2,#fbceb7,#f9c6ac,#f8bda1,#f7b799,#f6af8e,#f5a886,#f2a17f,#ef9979,#eb9172,#e8896c,#e58368,#e37e64,#e17860,#df765e,#df765e,#e17860,#e27b62,#e48066,#e6866a,#ea8e70,#ee9677,#f19e7d,#f5a886,#f6b191,#f7b99c,#f9c2a7,#fbccb4,#fcd5bf,#fddecb,#fde3d4,#feebdf,#fef0e8,#fff7f3,#fffdfc,#fffefe,#fffefe)"></i><i style="left:213.5px;background:linear-gradient(#fffefe,#fffefe,#fffdfc,#fffaf7,#fef6f1,#fef2ea,#feede4,#fee9dd,#fee5d6,#fddfce,#fddbc7,#fcd3bc,#facab1,#f9c4a9,#f8bb9e,#f7b596,#f6af8e,#f5a886,#f2a17f,#ef9979,#ec9374,#e98b6e,#e6866a,#e58368,#e37e64,#e48066,#e48066,#e6866a,#e8896c,#eb9172,#ee9677,#f19e7d,#f4a683,#f5ac8b,#f7b596,#f8bda1,#f9c6ac,#fbceb7,#fdd9c4,#fddfce,#fee5d6,#feebdf,#fef2ea,#fff7f3,#fffdfc,#fffefe,#fffefe)"></i><i style="left:216.5px;background:linear-gradient(#fffefe,#fffefe,#fffefe,#fffaf7,#fff7f3,#fef3ec,#feefe6,#feebdf,#fee6d9,#fde2d2,#fddecb,#fcd7c2,#fbd0b9,#facab1,#f9c2a7,#f8bb9e,#f7b596,#f6af8e,#f5aa89,#f3a481,#f19e7d,#ee9677,#eb9172,#ea8e70,#e8896c,#e98b6e,#e98b6e,#ea8e70,#ec9374,#ef9979,#f19e7d,#f3a481,#f5aa89,#f6b191,#f7b99c,#f9c2a7,#fac8af,#fcd3bc,#fddbc7,#fde1d0,#fee6d9,#feece1,#fef2ea,#fff7f3,#fffdfc,#fffefe,#fffefe)"></i><i style="left:219.5px;background:linear-gradient(#fffefe,#fffefe,#fffefe,#fffbfa,#fff7f3,#fef4ef,#fef0e8,#feede4,#fee9dd,#fee5d6,#fde1d0,#fddcc9,#fcd7c2,#fbceb7,#fac8af,#f9c4a9,#f8bda1,#f7b799,#f6b191,#f5ac8b,#f5a886,#f2a17f,#f19e7d,#ef9979,#ee9677,#ee9677,#ee9677,#ef9979,#f19e7d,#f2a17f,#f4a683,#f5ac8b,#f6b191,#f7b799,#f8bda1,#f9c6ac,#fbccb4,#fcd5bf,#fddcc9,#fde2d2,#fee8db,#feede4,#fef3ec,#fff7f3,#fffdfc,#fffefe,#fffefe)"></i><i style="left:222.5px;background:linear-gradient(#fffefe,#fffefe,#fffefe,#fffbfa,#fff9f5,#fef6f1,#fef2ea,#feefe6,#feebdf,#fee8db,#fde3d4,#fddfce,#fddbc7,#fcd5bf,#fbd0b9,#facab1,#f9c4a9,#f8bfa4,#f7b99c,#f7b596,#f6b191,#f5ac8b,#f5a886,#f4a683,#f2a17f,#f2a17f,#f3a481,#f4a683,#f5a886,#f5aa89,#f6af8e,#f6b394,#f7b799,#f8bda1,#f9c4a9,#facab1,#fcd3bc,#fdd9c4,#fddfce,#fde3d4,#fee9dd,#feefe6,#fef3ec,#fff9f5,#fffdfc,#fffefe,#fffefe)"></i><i style="left:225.6px;background:linear-gradient(#fffefe,#fffefe,#fffefe,#fffbfa,#fff9f5,#fff7f3,#fef3ec,#fef0e8,#feede4,#feebdf,#fee6d9,#fde3d4,#fddfce,#fddcc9,#fcd7c2,#fcd3bc,#fbccb4,#fac8af,#f9c4a9,#f8bda1,#f7b99c,#f7b596,#f6b394,#f6af8e,#f5ac8b,#f5ac8b,#f5ac8b,#f6af8e,#f6b191,#f6b394,#f7b799,#f8bb9e,#f8bfa4,#f9c4a9,#facab1,#fbd0b9,#fcd7c2,#fddcc9,#fde1d0,#fee6d9,#feebdf,#feefe6,#fef4ef,#fff9f5,#fffdfc,#fffefe,#fffefe)"></i><i style="left:228.6px;background:linear-gradient(#fffefe,#fffefe,#fffefe,#fffdfc,#fffaf7,#fff7f3,#fef6f1,#fef3ec,#fef0e8,#feede4,#feebdf,#fee6d9,#fde3d4,#fde1d0,#fddecb,#fdd9c4,#fcd5bf,#fbd0b9,#fbccb4,#fac8af,#f9c4a9,#f8bfa4,#f8bda1,#f7b99c,#f7b799,#f7b799,#f7b799,#f7b99c,#f8bb9e,#f8bda1,#f8bfa4,#f9c2a7,#f9c6ac,#facab1,#fbd0b9,#fcd5bf,#fddbc7,#fddfce,#fde3d4,#fee8db,#feece1,#fef0e8,#fef4ef,#fff9f5,#fffdfc,#fffefe,#fffefe)"></i><i style="left:231.6px;background:linear-gradient(#fffefe,#fffefe,#fffefe,#fffdfc,#fffbfa,#fff9f5,#fff7f3,#fef4ef,#fef3ec,#fef0e8,#feede4,#feebdf,#fee8db,#fee5d6,#fde2d2,#fddfce,#fddcc9,#fdd9c4,#fcd5bf,#fcd3bc,#fbceb7,#facab1,#fac8af,#f9c4a9,#f9c2a7,#f9c2a7,#f9c2a7,#f9c2a7,#f9c4a9,#f9c6ac,#fac8af,#facab1,#fbceb7,#fcd3bc,#fcd7c2,#fddbc7,#fddfce,#fde2d2,#fee6d9,#feebdf,#feede4,#fef2ea,#fef6f1,#fffaf7,#fffdfc,#fffefe,#fffefe)"></i><i style="left:234.6px;background:linear-gradient(#fffefe,#fffefe,#fffefe,#fffdfc,#fffbfa,#fffaf7,#fff9f5,#fff7f3,#fef6f1,#fef3ec,#fef2ea,#feefe6,#feece1,#feebdf,#fee8db,#fee5d6,#fde2d2,#fde1d0,#fddecb,#fddbc7,#fdd9c4,#fcd5bf,#fcd3bc,#fbd0b9,#fbceb7,#fbccb4,#fbccb4,#fbccb4,#fbceb7,#fbd0b9,#fcd3bc,#fcd5bf,#fcd7c2,#fdd9c4,#fddcc9,#fddfce,#fde2d2,#fee5d6,#fee9dd,#feece1,#fef0e8,#fef3ec,#fff7f3,#fffaf7,#fffefe,#fffefe,#fffefe)"></i><i style="left:237.6px;background:linear-gradient(#fffefe,#fffefe,#fffefe,#fffefe,#fffdfc,#fffbfa,#fffaf7,#fff9f5,#fff7f3,#fef6f1,#fef4ef,#fef3ec,#fef0e8,#feefe6,#feede4,#feebdf,#fee9dd,#fee6d9,#fee5d6,#fde2d2,#fde1d0,#fddecb,#fddcc9,#fddbc7,#fdd9c4,#fdd9c4,#fdd9c4,#fdd9c4,#fdd9c4,#fdd9c4,#fddbc7,#fddcc9,#fddecb,#fddfce,#fde2d2,#fde3d4,#fee6d9,#fee9dd,#feece1,#feefe6,#fef2ea,#fef4ef,#fff7f3,#fffbfa,#fffefe,#fffefe,#fffefe)"></i><i style="left:240.6px;background:linear-gradient(#fffefe,#fffefe,#fffefe,#fffefe,#fffefe,#fffdfc,#fffdfc,#fffbfa,#fffaf7,#fffaf7,#fff9f5,#fff7f3,#fef6f1,#fef3ec,#fef2ea,#fef0e8,#feefe6,#feede4,#feebdf,#fee9dd,#fee8db,#fee6d9,#fee5d6,#fde3d4,#fde2d2,#fde1d0,#fde1d0,#fde1d0,#fde1d0,#fde1d0,#fde2d2,#fde2d2,#fde3d4,#fee5d6,#fee6d9,#fee8db,#feebdf,#feece1,#feefe6,#fef2ea,#fef3ec,#fef6f1,#fff9f5,#fffbfa,#fffefe,#fffefe,#fffefe)"></i><i style="left:243.6px;background:linear-gradient(#fffefe,#fffefe,#fefefe,#fffefe,#fffefe,#fffefe,#fffefe,#fffefe,#fffdfc,#fffdfc,#fffbfa,#fffbfa,#fffaf7,#fff9f5,#fff7f3,#fef6f1,#fef4ef,#fef3ec,#fef2ea,#fef0e8,#feefe6,#feede4,#feece1,#feebdf,#fee9dd,#fee9dd,#fee8db,#fee8db,#fee8db,#fee8db,#fee8db,#fee9dd,#fee9dd,#feebdf,#feece1,#feece1,#feefe6,#fef0e8,#fef2ea,#fef3ec,#fef6f1,#fff7f3,#fffaf7,#fffbfa,#fffefe,#fffefe,#fffefe)"></i><i style="left:246.6px;background:linear-gradient(#fffefe,#fffefe,#fefefe,#fefefe,#fefefe,#fefefe,#fefefe,#fefefe,#fefefe,#fefefe,#fefefe,#fffefe,#fffefe,#fffefe,#fffdfc,#fffbfa,#fffbfa,#fffaf7,#fff9f5,#fff7f3,#fff7f3,#fef6f1,#fef4ef,#fef3ec,#fef2ea,#fef2ea,#fef0e8,#fef0e8,#feefe6,#feefe6,#feefe6,#feefe6,#feefe6,#fef0e8,#fef0e8,#fef2ea,#fef2ea,#fef3ec,#fef4ef,#fef6f1,#fff7f3,#fff9f5,#fffbfa,#fffdfc,#fffefe,#fffefe,#fffefe)"></i><i style="left:249.6px;background:linear-gradient(#fffefe,#fffefe,#fefefe,#fefefe,#fefefe,#fefefe,#fdfdfd,#fdfdfd,#fdfdfd,#fdfdfd,#fdfdfd,#fdfdfd,#fdfdfd,#fdfdfd,#fdfdfd,#fdfdfd,#fdfdfd,#fefefe,#fefefe,#fefefe,#fffefe,#fffdfc,#fffbfa,#fffbfa,#fffaf7,#fff9f5,#fff9f5,#fff7f3,#fff7f3,#fef6f1,#fef6f1,#fef6f1,#fef6f1,#fef6f1,#fef6f1,#fef6f1,#fef6f1,#fff7f3,#fff7f3,#fff9f5,#fffaf7,#fffaf7,#fffbfa,#fffdfc,#fffefe,#fffefe,#fffefe)"></i><i style="left:252.6px;background:linear-gradient(#fffefe,#fffefe,#fefefe,#fefefe,#fefefe,#fdfdfd,#fdfdfd,#fdfdfd,#fcfcfc,#fcfcfc,#fcfcfc,#fcfcfc,#fcfcfc,#fcfcfc,#fcfcfc,#fcfcfc,#fcfcfc,#fcfcfc,#fcfcfc,#fcfcfc,#fcfcfc,#fcfcfc,#fdfdfd,#fdfdfd,#fdfdfd,#fefefe,#fefefe,#fefefe,#fffefe,#fffdfc,#fffdfc,#fffbfa,#fffbfa,#fffbfa,#fffaf7,#fffaf7,#fffaf7,#fffaf7,#fffbfa,#fffbfa,#fffbfa,#fffdfc,#fffdfc,#fffefe,#fffefe,#fffefe,#fffefe)"></i><i style="left:255.6px;background:linear-gradient(#fffefe,#fffefe,#fefefe,#fefefe,#fdfdfd,#fdfdfd,#fdfdfd,#fcfcfc,#fcfcfc,#fbfbfb,#fbfbfb,#fbfbfb,#fbfbfb,#fafafa,#fafafa,#fafafa,#fafafa,#fafafa,#fafafa,#fafafa,#fafafa,#fafafa,#fafafa,#fbfbfb,#fbfbfb,#fbfbfb,#fcfcfc,#fcfcfc,#fcfcfc,#fdfdfd,#fdfdfd,#fdfdfd,#fefefe,#fefefe,#fefefe,#fefefe,#fffefe,#fffefe,#fffefe,#fffefe,#fffefe,#fffefe,#fffefe,#fffefe,#fffefe,#fffefe,#fffefe)"></i><i style="left:258.6px;background:linear-gradient(#fffefe,#fffefe,#fefefe,#fefefe,#fdfdfd,#fdfdfd,#fcfcfc,#fcfcfc,#fbfbfb,#fbfbfb,#fafafa,#fafafa,#fafafa,#f8f8f8,#f8f8f8,#f8f8f8,#f8f8f8,#f7f7f7,#f7f7f7,#f7f7f7,#f7f7f7,#f7f7f7,#f8f8f8,#f8f8f8,#f8f8f8,#f8f8f8,#fafafa,#fafafa,#fbfbfb,#fbfbfb,#fbfbfb,#fcfcfc,#fcfcfc,#fcfcfc,#fdfdfd,#fdfdfd,#fdfdfd,#fefefe,#fefefe,#fefefe,#fefefe,#fefefe,#fefefe,#fefefe,#fffefe,#fffefe,#fffefe)"></i><i style="left:261.6px;background:linear-gradient(#fffefe,#fffefe,#fefefe,#fefefe,#fdfdfd,#fcfcfc,#fcfcfc,#fbfbfb,#fbfbfb,#fafafa,#fafafa,#f8f8f8,#f8f8f8,#f7f7f7,#f7f7f7,#f7f7f7,#f6f6f6,#f6f6f6,#f6f6f6,#f6f6f6,#f6f6f6,#f6f6f6,#f6f6f6,#f6f6f6,#f6f6f6,#f7f7f7,#f7f7f7,#f8f8f8,#f8f8f8,#f8f8f8,#fafafa,#fafafa,#fbfbfb,#fbfbfb,#fcfcfc,#fcfcfc,#fcfcfc,#fdfdfd,#fdfdfd,#fdfdfd,#fefefe,#fefefe,#fefefe,#fefefe,#fefefe,#fffefe,#fffefe)"></i><i style="left:264.7px;background:linear-gradient(#fffefe,#fffefe,#fefefe,#fefefe,#fdfdfd,#fcfcfc,#fcfcfc,#fbfbfb,#fafafa,#fafafa,#f8f8f8,#f7f7f7,#f7f7f7,#f6f6f6,#f6f6f6,#f5f5f5,#f5f5f5,#f5f5f5,#f5f5f5,#f5f5f5,#f3f3f3,#f3f3f3,#f3f3f3,#f5f5f5,#f5f5f5,#f5f5f5,#f6f6f6,#f6f6f6,#f7f7f7,#f7f7f7,#f8f8f8,#f8f8f8,#fafafa,#fafafa,#fbfbfb,#fbfbfb,#fcfcfc,#fcfcfc,#fcfcfc,#fdfdfd,#fdfdfd,#fefefe,#fefefe,#fefefe,#fefefe,#fffefe,#fffefe)"></i><i style="left:267.7px;background:linear-gradient(#fffefe,#fffefe,#fefefe,#fefefe,#fdfdfd,#fcfcfc,#fbfbfb,#fbfbfb,#fafafa,#f8f8f8,#f7f7f7,#f7f7f7,#f6f6f6,#f5f5f5,#f5f5f5,#f5f5f5,#f3f3f3,#f3f3f3,#f3f3f3,#f2f2f2,#f2f2f2,#f2f2f2,#f2f2f2,#f2f2f2,#f2f2f2,#f3f3f3,#f3f3f3,#f5f5f5,#f5f5f5,#f6f6f6,#f6f6f6,#f7f7f7,#f8f8f8,#f8f8f8,#fafafa,#fafafa,#fbfbfb,#fbfbfb,#fcfcfc,#fcfcfc,#fdfdfd,#fdfdfd,#fefefe,#fefefe,#fefefe,#fffefe,#fffefe)"></i><i style="left:270.7px;background:linear-gradient(#fffefe,#fffefe,#fefefe,#fdfdfd,#fdfdfd,#fcfcfc,#fbfbfb,#fafafa,#f8f8f8,#f8f8f8,#f7f7f7,#f6f6f6,#f5f5f5,#f5f5f5,#f3f3f3,#f3f3f3,#f2f2f2,#f2f2f2,#f1f1f1,#f1f1f1,#f1f1f1,#f1f1f1,#f1f1f1,#f1f1f1,#f1f1f1,#f2f2f2,#f2f2f2,#f3f3f3,#f3f3f3,#f5f5f5,#f5f5f5,#f6f6f6,#f7f7f7,#f7f7f7,#f8f8f8,#fafafa,#fafafa,#fbfbfb,#fbfbfb,#fcfcfc,#fdfdfd,#fdfdfd,#fefefe,#fefefe,#fefefe,#fffefe,#fffefe)"></i><i style="left:273.7px;background:linear-gradient(#fffefe,#fffefe,#fefefe,#fdfdfd,#fdfdfd,#fcfcfc,#fbfbfb,#fafafa,#f8f8f8,#f7f7f7,#f6f6f6,#f6f6f6,#f5f5f5,#f3f3f3,#f3f3f3,#f2f2f2,#f1f1f1,#f1f1f1,#f1f1f1,#f0f0f0,#f0f0f0,#f0f0f0,#f0f0f0,#f0f0f0,#f0f0f0,#f0f0f0,#f1f1f1,#f1f1f1,#f2f2f2,#f3f3f3,#f3f3f3,#f5f5f5,#f6f6f6,#f6f6f6,#f7f7f7,#f8f8f8,#fafafa,#fafafa,#fbfbfb,#fcfcfc,#fcfcfc,#fdfdfd,#fdfdfd,#fefefe,#fefefe,#fffefe,#fffefe)"></i><i style="left:276.7px;background:linear-gradient(#fffefe,#fffefe,#fefefe,#fdfdfd,#fcfcfc,#fcfcfc,#fbfbfb,#fafafa,#f8f8f8,#f7f7f7,#f6f6f6,#f5f5f5,#f3f3f3,#f3f3f3,#f2f2f2,#f1f1f1,#f1f1f1,#f0f0f0,#f0f0f0,#efefef,#efefef,#efefef,#efefef,#efefef,#efefef,#efefef,#f0f0f0,#f1f1f1,#f1f1f1,#f2f2f2,#f2f2f2,#f3f3f3,#f5f5f5,#f6f6f6,#f6f6f6,#f7f7f7,#f8f8f8,#fafafa,#fbfbfb,#fbfbfb,#fcfcfc,#fdfdfd,#fdfdfd,#fefefe,#fefefe,#fffefe,#fffefe)"></i><i style="left:279.7px;background:linear-gradient(#fffefe,#fffefe,#fefefe,#fdfdfd,#fcfcfc,#fcfcfc,#fbfbfb,#fafafa,#f8f8f8,#f7f7f7,#f6f6f6,#f5f5f5,#f3f3f3,#f2f2f2,#f2f2f2,#f1f1f1,#f0f0f0,#f0f0f0,#efefef,#efefef,#ededed,#ededed,#ededed,#ededed,#ededed,#efefef,#efefef,#f0f0f0,#f0f0f0,#f1f1f1,#f2f2f2,#f2f2f2,#f3f3f3,#f5f5f5,#f6f6f6,#f7f7f7,#f7f7f7,#f8f8f8,#fafafa,#fbfbfb,#fcfcfc,#fcfcfc,#fdfdfd,#fefefe,#fefefe,#fffefe,#fffefe)"></i><i style="left:282.7px;background:linear-gradient(#fffefe,#fffefe,#fefefe,#fdfdfd,#fcfcfc,#fcfcfc,#fbfbfb,#fafafa,#f8f8f8,#f7f7f7,#f6f6f6,#f5f5f5,#f3f3f3,#f2f2f2,#f1f1f1,#f0f0f0,#f0f0f0,#efefef,#efefef,#ededed,#ededed,#ececec,#ececec,#ececec,#ededed,#ededed,#ededed,#efefef,#f0f0f0,#f0f0f0,#f1f1f1,#f2f2f2,#f3f3f3,#f3f3f3,#f5f5f5,#f6f6f6,#f7f7f7,#f8f8f8,#fafafa,#fbfbfb,#fbfbfb,#fcfcfc,#fdfdfd,#fefefe,#fefefe,#fffefe,#fffefe)"></i><i style="left:285.7px;background:linear-gradient(#fffefe,#fffefe,#fefefe,#fdfdfd,#fcfcfc,#fcfcfc,#fbfbfb,#fafafa,#f8f8f8,#f7f7f7,#f6f6f6,#f5f5f5,#f3f3f3,#f2f2f2,#f1f1f1,#f0f0f0,#efefef,#efefef,#ededed,#ededed,#ececec,#ececec,#ececec,#ececec,#ececec,#ececec,#ededed,#ededed,#efefef,#f0f0f0,#f0f0f0,#f1f1f1,#f2f2f2,#f3f3f3,#f5f5f5,#f6f6f6,#f7f7f7,#f8f8f8,#fafafa,#fafafa,#fbfbfb,#fcfcfc,#fdfdfd,#fefefe,#fefefe,#fffefe,#fffefe)"></i><i style="left:288.7px;background:linear-gradient(#fffefe,#fffefe,#fefefe,#fdfdfd,#fcfcfc,#fcfcfc,#fbfbfb,#fafafa,#f8f8f8,#f7f7f7,#f6f6f6,#f5f5f5,#f3f3f3,#f2f2f2,#f1f1f1,#f0f0f0,#efefef,#efefef,#ededed,#ececec,#ececec,#ececec,#ebebeb,#ebebeb,#ececec,#ececec,#ececec,#ededed,#efefef,#efefef,#f0f0f0,#f1f1f1,#f2f2f2,#f2f2f2,#f3f3f3,#f5f5f5,#f6f6f6,#f7f7f7,#f8f8f8,#fafafa,#fbfbfb,#fcfcfc,#fdfdfd,#fdfdfd,#fefefe,#fffefe,#fffefe)"></i><i style="left:291.7px;background:linear-gradient(#fffefe,#fffefe,#fefefe,#fdfdfd,#fdfdfd,#fcfcfc,#fbfbfb,#fafafa,#f8f8f8,#f7f7f7,#f6f6f6,#f5f5f5,#f3f3f3,#f2f2f2,#f1f1f1,#f0f0f0,#efefef,#efefef,#ededed,#ececec,#ececec,#ebebeb,#ebebeb,#ebebeb,#ebebeb,#ececec,#ececec,#ededed,#ededed,#efefef,#f0f0f0,#f0f0f0,#f1f1f1,#f2f2f2,#f3f3f3,#f5f5f5,#f6f6f6,#f7f7f7,#f8f8f8,#fafafa,#fbfbfb,#fcfcfc,#fdfdfd,#fdfdfd,#fefefe,#fffefe,#fffefe)"></i><i style="left:294.7px;background:linear-gradient(#fffefe,#fffefe,#fefefe,#fdfdfd,#fdfdfd,#fcfcfc,#fbfbfb,#fafafa,#f8f8f8,#f7f7f7,#f6f6f6,#f5f5f5,#f3f3f3,#f2f2f2,#f1f1f1,#f0f0f0,#efefef,#efefef,#ededed,#ececec,#ececec,#ebebeb,#ebebeb,#ebebeb,#ebebeb,#ebebeb,#ececec,#ececec,#ededed,#efefef,#efefef,#f0f0f0,#f1f1f1,#f2f2f2,#f3f3f3,#f5f5f5,#f6f6f6,#f7f7f7,#f8f8f8,#fafafa,#fbfbfb,#fcfcfc,#fdfdfd,#fdfdfd,#fefefe,#fffefe,#fffefe)"></i><i style="left:297.7px;background:linear-gradient(#fffefe,#fffefe,#fefefe,#fdfdfd,#fdfdfd,#fcfcfc,#fbfbfb,#fafafa,#f8f8f8,#f7f7f7,#f6f6f6,#f5f5f5,#f3f3f3,#f2f2f2,#f1f1f1,#f0f0f0,#f0f0f0,#efefef,#ededed,#ededed,#ececec,#ececec,#ebebeb,#ebebeb,#ebebeb,#ebebeb,#ececec,#ececec,#ededed,#efefef,#efefef,#f0f0f0,#f1f1f1,#f2f2f2,#f3f3f3,#f5f5f5,#f6f6f6,#f7f7f7,#f8f8f8,#fafafa,#fbfbfb,#fcfcfc,#fdfdfd,#fdfdfd,#fefefe,#fffefe,#fffefe)"></i><i style="left:300.7px;background:linear-gradient(#fffefe,#fffefe,#fefefe,#fefefe,#fdfdfd,#fcfcfc,#fbfbfb,#fafafa,#f8f8f8,#f7f7f7,#f6f6f6,#f6f6f6,#f5f5f5,#f3f3f3,#f2f2f2,#f1f1f1,#f0f0f0,#efefef,#efefef,#ededed,#ececec,#ececec,#ebebeb,#ebebeb,#ebebeb,#ececec,#ececec,#ececec,#ededed,#efefef,#efefef,#f0f0f0,#f1f1f1,#f2f2f2,#f3f3f3,#f5f5f5,#f6f6f6,#f7f7f7,#f8f8f8,#fafafa,#fbfbfb,#fcfcfc,#fcfcfc,#fdfdfd,#fefefe,#fffefe,#fffefe)"></i><i style="left:303.7px;background:linear-gradient(#fffefe,#fffefe,#fefefe,#fefefe,#fdfdfd,#fcfcfc,#fbfbfb,#fbfbfb,#fafafa,#f8f8f8,#f7f7f7,#f6f6f6,#f5f5f5,#f3f3f3,#f2f2f2,#f1f1f1,#f1f1f1,#f0f0f0,#efefef,#ededed,#ededed,#ececec,#ececec,#ececec,#ececec,#ececec,#ececec,#ededed,#ededed,#efefef,#efefef,#f0f0f0,#f1f1f1,#f2f2f2,#f3f3f3,#f5f5f5,#f6f6f6,#f7f7f7,#f8f8f8,#fafafa,#fbfbfb,#fbfbfb,#fcfcfc,#fdfdfd,#fefefe,#fffefe,#fffefe)"></i><i style="left:306.8px;background:linear-gradient(#fffefe,#fffefe,#fefefe,#fefefe,#fdfdfd,#fcfcfc,#fcfcfc,#fbfbfb,#fafafa,#f8f8f8,#f7f7f7,#f7f7f7,#f6f6f6,#f5f5f5,#f3f3f3,#f2f2f2,#f1f1f1,#f0f0f0,#f0f0f0,#efefef,#ededed,#ededed,#ececec,#ececec,#ececec,#ececec,#ededed,#ededed,#ededed,#efefef,#f0f0f0,#f0f0f0,#f1f1f1,#f2f2f2,#f3f3f3,#f5f5f5,#f6f6f6,#f7f7f7,#f8f8f8,#fafafa,#fbfbfb,#fbfbfb,#fcfcfc,#fdfdfd,#fefefe,#fffefe,#fffefe)"></i><i style="left:309.8px;background:linear-gradient(#fffefe,#fffefe,#fefefe,#fefefe,#fdfdfd,#fdfdfd,#fcfcfc,#fbfbfb,#fbfbfb,#fafafa,#f8f8f8,#f7f7f7,#f6f6f6,#f5f5f5,#f5f5f5,#f3f3f3,#f2f2f2,#f1f1f1,#f1f1f1,#f0f0f0,#efefef,#efefef,#ededed,#ededed,#ededed,#ededed,#ededed,#ededed,#efefef,#efefef,#f0f0f0,#f1f1f1,#f1f1f1,#f2f2f2,#f3f3f3,#f5f5f5,#f6f6f6,#f7f7f7,#f8f8f8,#fafafa,#fbfbfb,#fbfbfb,#fcfcfc,#fdfdfd,#fefefe,#fffefe,#fffefe)"></i><i style="left:312.8px;background:linear-gradient(#fffefe,#fffefe,#fefefe,#fefefe,#fdfdfd,#fdfdfd,#fcfcfc,#fcfcfc,#fbfbfb,#fafafa,#fafafa,#f8f8f8,#f7f7f7,#f6f6f6,#f5f5f5,#f5f5f5,#f3f3f3,#f2f2f2,#f1f1f1,#f1f1f1,#f0f0f0,#f0f0f0,#efefef,#efefef,#efefef,#efefef,#efefef,#efefef,#f0f0f0,#f0f0f0,#f0f0f0,#f1f1f1,#f2f2f2,#f2f2f2,#f3f3f3,#f5f5f5,#f6f6f6,#f7f7f7,#f8f8f8,#fafafa,#fbfbfb,#fcfcfc,#fcfcfc,#fdfdfd,#fefefe,#fffefe,#fffefe)"></i><i style="left:315.8px;background:linear-gradient(#fffefe,#fffefe,#fefefe,#fefefe,#fefefe,#fdfdfd,#fdfdfd,#fcfcfc,#fcfcfc,#fbfbfb,#fafafa,#fafafa,#f8f8f8,#f7f7f7,#f6f6f6,#f6f6f6,#f5f5f5,#f3f3f3,#f3f3f3,#f2f2f2,#f1f1f1,#f1f1f1,#f0f0f0,#f0f0f0,#f0f0f0,#f0f0f0,#f0f0f0,#f0f0f0,#f0f0f0,#f1f1f1,#f1f1f1,#f2f2f2,#f2f2f2,#f3f3f3,#f5f5f5,#f5f5f5,#f6f6f6,#f7f7f7,#f8f8f8,#fafafa,#fbfbfb,#fcfcfc,#fdfdfd,#fdfdfd,#fefefe,#fffefe,#fffefe)"></i><i style="left:318.8px;background:linear-gradient(#fffefe,#fffefe,#fefefe,#fefefe,#fefefe,#fefefe,#fdfdfd,#fdfdfd,#fcfcfc,#fcfcfc,#fbfbfb,#fafafa,#fafafa,#f8f8f8,#f7f7f7,#f7f7f7,#f6f6f6,#f5f5f5,#f5f5f5,#f3f3f3,#f2f2f2,#f2f2f2,#f1f1f1,#f1f1f1,#f1f1f1,#f1f1f1,#f1f1f1,#f1f1f1,#f1f1f1,#f1f1f1,#f2f2f2,#f2f2f2,#f3f3f3,#f3f3f3,#f5f5f5,#f6f6f6,#f7f7f7,#f7f7f7,#f8f8f8,#fafafa,#fbfbfb,#fcfcfc,#fdfdfd,#fdfdfd,#fefefe,#fffefe,#fffefe)"></i><i style="left:321.8px;background:linear-gradient(#fffefe,#fffefe,#fefefe,#fefefe,#fefefe,#fefefe,#fefefe,#fdfdfd,#fdfdfd,#fcfcfc,#fcfcfc,#fbfbfb,#fbfbfb,#fafafa,#fafafa,#f8f8f8,#f7f7f7,#f7f7f7,#f6f6f6,#f5f5f5,#f5f5f5,#f3f3f3,#f3f3f3,#f2f2f2,#f2f2f2,#f2f2f2,#f2f2f2,#f2f2f2,#f2f2f2,#f2f2f2,#f3f3f3,#f3f3f3,#f5f5f5,#f5f5f5,#f6f6f6,#f6f6f6,#f7f7f7,#f8f8f8,#fafafa,#fafafa,#fbfbfb,#fcfcfc,#fdfdfd,#fdfdfd,#fefefe,#fffefe,#fffefe)"></i><i style="left:324.8px;background:linear-gradient(#fffefe,#fffefe,#fffefe,#fffefe,#fefefe,#fefefe,#fefefe,#fefefe,#fefefe,#fdfdfd,#fdfdfd,#fcfcfc,#fcfcfc,#fbfbfb,#fbfbfb,#fafafa,#fafafa,#f8f8f8,#f7f7f7,#f7f7f7,#f6f6f6,#f6f6f6,#f5f5f5,#f5f5f5,#f3f3f3,#f3f3f3,#f3f3f3,#f3f3f3,#f3f3f3,#f3f3f3,#f5f5f5,#f5f5f5,#f5f5f5,#f6f6f6,#f6f6f6,#f7f7f7,#f7f7f7,#f8f8f8,#fafafa,#fbfbfb,#fbfbfb,#fcfcfc,#fdfdfd,#fdfdfd,#fefefe,#fffefe,#fffefe)"></i><i style="left:327.8px;background:linear-gradient(#fffefe,#fffefe,#fffefe,#fffefe,#fffdfc,#fffdfc,#fffdfc,#fffefe,#fefefe,#fefefe,#fefefe,#fdfdfd,#fdfdfd,#fdfdfd,#fcfcfc,#fcfcfc,#fbfbfb,#fafafa,#fafafa,#f8f8f8,#f8f8f8,#f7f7f7,#f7f7f7,#f6f6f6,#f6f6f6,#f6f6f6,#f6f6f6,#f6f6f6,#f6f6f6,#f6f6f6,#f6f6f6,#f6f6f6,#f6f6f6,#f7f7f7,#f7f7f7,#f7f7f7,#f8f8f8,#fafafa,#fafafa,#fbfbfb,#fbfbfb,#fcfcfc,#fdfdfd,#fefefe,#fefefe,#fffefe,#fffefe)"></i><i style="left:330.8px;background:linear-gradient(#fffefe,#fffefe,#fffefe,#fffdfc,#fffbfa,#fffbfa,#fffaf7,#fffaf7,#fffaf7,#fffaf7,#fffbfa,#fffdfc,#fefefe,#fefefe,#fefefe,#fdfdfd,#fdfdfd,#fcfcfc,#fcfcfc,#fbfbfb,#fafafa,#fafafa,#f8f8f8,#f8f8f8,#f8f8f8,#f7f7f7,#f7f7f7,#f7f7f7,#f7f7f7,#f7f7f7,#f7f7f7,#f7f7f7,#f7f7f7,#f7f7f7,#f8f8f8,#f8f8f8,#fafafa,#fafafa,#fbfbfb,#fbfbfb,#fcfcfc,#fcfcfc,#fdfdfd,#fefefe,#fefefe,#fffefe,#fffefe)"></i><i style="left:333.8px;background:linear-gradient(#fffefe,#fffefe,#fffefe,#fffdfc,#fffaf7,#fff9f5,#fff7f3,#fff7f3,#fef6f1,#fef4ef,#fef4ef,#fef6f1,#fef6f1,#fff7f3,#fff9f5,#fffbfa,#fefefe,#fefefe,#fdfdfd,#fdfdfd,#fcfcfc,#fcfcfc,#fbfbfb,#fbfbfb,#fafafa,#fafafa,#fafafa,#fafafa,#f8f8f8,#f8f8f8,#f8f8f8,#f8f8f8,#f8f8f8,#f8f8f8,#fafafa,#fafafa,#fafafa,#fbfbfb,#fbfbfb,#fcfcfc,#fcfcfc,#fdfdfd,#fdfdfd,#fefefe,#fefefe,#fffefe,#fffefe)"></i><i style="left:336.8px;background:linear-gradient(#fffefe,#fffefe,#fffefe,#fffbfa,#fffaf7,#fff7f3,#fef6f1,#fef4ef,#fef2ea,#fef2ea,#fef0e8,#feefe6,#feefe6,#feefe6,#fef0e8,#fef2ea,#fef3ec,#fef4ef,#fff7f3,#fffbfa,#fefefe,#fefefe,#fdfdfd,#fdfdfd,#fcfcfc,#fcfcfc,#fbfbfb,#fbfbfb,#fbfbfb,#fbfbfb,#fbfbfb,#fafafa,#fafafa,#fafafa,#fbfbfb,#fbfbfb,#fbfbfb,#fbfbfb,#fcfcfc,#fcfcfc,#fcfcfc,#fdfdfd,#fdfdfd,#fefefe,#fefefe,#fffefe,#fffefe)"></i><i style="left:339.8px;background:linear-gradient(#fffefe,#fffefe,#fffefe,#fffbfa,#fff9f5,#fef6f1,#fef3ec,#fef2ea,#feefe6,#feede4,#feece1,#feebdf,#fee9dd,#fee9dd,#fee9dd,#fee9dd,#feebdf,#feebdf,#feece1,#feefe6,#fef2ea,#fef4ef,#fff7f3,#fffaf7,#fefefe,#fefefe,#fdfdfd,#fdfdfd,#fdfdfd,#fcfcfc,#fcfcfc,#fcfcfc,#fcfcfc,#fcfcfc,#fcfcfc,#fcfcfc,#fcfcfc,#fcfcfc,#fcfcfc,#fcfcfc,#fdfdfd,#fdfdfd,#fefefe,#fefefe,#fefefe,#fffefe,#fffefe)"></i><i style="left:342.8px;background:linear-gradient(#fffefe,#fffefe,#fffefe,#fffbfa,#fff7f3,#fef4ef,#fef2ea,#feefe6,#feece1,#feebdf,#fee8db,#fee6d9,#fee5d6,#fde3d4,#fde2d2,#fde2d2,#fde2d2,#fde3d4,#fde3d4,#fee5d6,#fee8db,#fee9dd,#feece1,#feefe6,#fef2ea,#fef4ef,#fff7f3,#fffaf7,#fffefe,#fefefe,#fefefe,#fdfdfd,#fdfdfd,#fdfdfd,#fdfdfd,#fdfdfd,#fdfdfd,#fdfdfd,#fdfdfd,#fdfdfd,#fdfdfd,#fdfdfd,#fefefe,#fefefe,#fefefe,#fffefe,#fffefe)"></i><i style="left:345.9px;background:linear-gradient(#fffefe,#fffefe,#fffefe,#fffaf7,#fff7f3,#fef3ec,#fef0e8,#feede4,#feebdf,#fee6d9,#fde3d4,#fde2d2,#fddfce,#fddecb,#fddcc9,#fddcc9,#fddbc7,#fddbc7,#fddcc9,#fddcc9,#fddfce,#fde1d0,#fde3d4,#fee6d9,#fee8db,#feebdf,#feede4,#fef0e8,#fef3ec,#fef6f1,#fff9f5,#fffbfa,#fffefe,#fefefe,#fefefe,#fefefe,#fefefe,#fdfdfd,#fdfdfd,#fdfdfd,#fefefe,#fefefe,#fefefe,#fefefe,#fefefe,#fffefe,#fffefe)"></i><i style="left:348.9px;background:linear-gradient(#fffefe,#fffefe,#fffdfc,#fffaf7,#fef6f1,#fef3ec,#feefe6,#feece1,#fee8db,#fee5d6,#fde1d0,#fddecb,#fddbc7,#fdd9c4,#fcd7c2,#fcd5bf,#fcd3bc,#fcd3bc,#fcd3bc,#fcd3bc,#fcd5bf,#fdd9c4,#fddbc7,#fddecb,#fde1d0,#fde3d4,#fee5d6,#fee8db,#feebdf,#feede4,#fef0e8,#fef3ec,#fef4ef,#fff7f3,#fffaf7,#fffbfa,#fffefe,#fefefe,#fefefe,#fefefe,#fefefe,#fefefe,#fefefe,#fefefe,#fefefe,#fffefe,#fffefe)"></i><i style="left:351.9px;background:linear-gradient(#fffefe,#fffefe,#fffdfc,#fffaf7,#fef6f1,#fef2ea,#feede4,#fee9dd,#fee6d9,#fde2d2,#fddecb,#fddbc7,#fcd7c2,#fcd3bc,#fbd0b9,#fbccb4,#fbccb4,#facab1,#facab1,#facab1,#fbccb4,#fbceb7,#fcd3bc,#fcd5bf,#fdd9c4,#fddcc9,#fddfce,#fde1d0,#fde3d4,#fee6d9,#fee9dd,#feece1,#feefe6,#fef2ea,#fef3ec,#fef6f1,#fff9f5,#fffaf7,#fffbfa,#fffdfc,#fffefe,#fefefe,#fefefe,#fefefe,#fefefe,#fffefe,#fffefe)"></i><i style="left:354.9px;background:linear-gradient(#fffefe,#fffefe,#fffdfc,#fffaf7,#fef6f1,#fef0e8,#feece1,#fee9dd,#fde3d4,#fddfce,#fddcc9,#fcd7c2,#fcd3bc,#fbceb7,#facab1,#f9c6ac,#f9c4a9,#f9c2a7,#f9c2a7,#f9c2a7,#f9c4a9,#f9c6ac,#fac8af,#fbccb4,#fbd0b9,#fcd3bc,#fcd7c2,#fddbc7,#fddecb,#fde1d0,#fde3d4,#fee6d9,#fee9dd,#feece1,#feefe6,#fef2ea,#fef3ec,#fef6f1,#fff7f3,#fffaf7,#fffbfa,#fffdfc,#fffefe,#fffefe,#fffefe,#fffefe,#fffefe)"></i><i style="left:357.9px;background:linear-gradient(#fffefe,#fffefe,#fffdfc,#fff9f5,#fef4ef,#fef0e8,#feece1,#fee8db,#fde2d2,#fddecb,#fdd9c4,#fcd3bc,#fbceb7,#fac8af,#f9c4a9,#f9c2a7,#f8bda1,#f8bb9e,#f8bb9e,#f7b99c,#f8bb9e,#f8bda1,#f9c2a7,#f9c4a9,#fac8af,#fbccb4,#fbceb7,#fcd3bc,#fcd7c2,#fddbc7,#fddecb,#fde1d0,#fee5d6,#fee8db,#feebdf,#feede4,#fef0e8,#fef3ec,#fef4ef,#fff7f3,#fff9f5,#fffbfa,#fffdfc,#fffefe,#fffefe,#fffefe,#fffefe)"></i><i style="left:360.9px;background:linear-gradient(#fffefe,#fffefe,#fffdfc,#fff9f5,#fef4ef,#fef0e8,#feebdf,#fee6d9,#fde2d2,#fddcc9,#fcd7c2,#fbd0b9,#facab1,#f9c6ac,#f8bfa4,#f8bda1,#f7b99c,#f7b799,#f7b596,#f6b394,#f7b596,#f7b799,#f7b99c,#f8bda1,#f9c2a7,#f9c4a9,#fac8af,#fbccb4,#fbd0b9,#fcd5bf,#fdd9c4,#fddcc9,#fde1d0,#fde3d4,#fee6d9,#fee9dd,#feede4,#fef0e8,#fef2ea,#fef4ef,#fff7f3,#fff9f5,#fffbfa,#fffdfc,#fffefe,#fffefe,#fffefe)"></i><i style="left:363.9px;background:linear-gradient(#fffefe,#fffefe,#fffdfc,#fff9f5,#fef4ef,#feefe6,#feebdf,#fee6d9,#fde1d0,#fddbc7,#fcd5bf,#fbceb7,#fac8af,#f9c2a7,#f8bda1,#f7b99c,#f7b596,#f6b191,#f6b191,#f6af8e,#f6b191,#f6b394,#f7b596,#f7b799,#f8bb9e,#f8bda1,#f9c2a7,#f9c6ac,#facab1,#fbceb7,#fcd5bf,#fdd9c4,#fddcc9,#fde1d0,#fde3d4,#fee6d9,#feebdf,#feede4,#fef0e8,#fef3ec,#fef6f1,#fff9f5,#fffaf7,#fffdfc,#fffefe,#fffefe,#fffefe)"></i><i style="left:366.9px;background:linear-gradient(#fffefe,#fffefe,#fffdfc,#fff9f5,#fef4ef,#feefe6,#feebdf,#fee5d6,#fddfce,#fddbc7,#fcd3bc,#fbccb4,#f9c6ac,#f8bfa4,#f8bb9e,#f7b596,#f6b191,#f6af8e,#f5ac8b,#f5aa89,#f5ac8b,#f6af8e,#f6b191,#f6b394,#f7b799,#f7b99c,#f8bda1,#f9c2a7,#f9c6ac,#facab1,#fbceb7,#fcd5bf,#fdd9c4,#fddecb,#fde1d0,#fde3d4,#fee8db,#feebdf,#feefe6,#fef2ea,#fef4ef,#fff7f3,#fffaf7,#fffbfa,#fffefe,#fffefe,#fffefe)"></i><i style="left:369.9px;background:linear-gradient(#fffefe,#fffefe,#fffdfc,#fff9f5,#fef4ef,#feefe6,#feebdf,#fee5d6,#fddfce,#fdd9c4,#fcd3bc,#facab1,#f9c4a9,#f8bda1,#f7b99c,#f6b394,#f6af8e,#f5ac8b,#f5a886,#f5a886,#f5a886,#f5aa89,#f5ac8b,#f6af8e,#f6b394,#f7b596,#f7b99c,#f8bda1,#f9c2a7,#f9c6ac,#fbccb4,#fbd0b9,#fcd5bf,#fddbc7,#fddecb,#fde2d2,#fee6d9,#fee9dd,#feece1,#fef0e8,#fef3ec,#fef6f1,#fff9f5,#fffbfa,#fffefe,#fffefe,#fffefe)"></i><i style="left:372.9px;background:linear-gradient(#fffefe,#fffefe,#fffdfc,#fff9f5,#fef4ef,#feefe6,#fee9dd,#fee5d6,#fddfce,#fdd9c4,#fcd3bc,#facab1,#f9c4a9,#f8bda1,#f7b799,#f6b394,#f6af8e,#f5aa89,#f5a886,#f4a683,#f4a683,#f5a886,#f5aa89,#f5ac8b,#f6b191,#f6b394,#f7b799,#f8bb9e,#f8bfa4,#f9c4a9,#fac8af,#fbceb7,#fcd3bc,#fdd9c4,#fddcc9,#fde1d0,#fde3d4,#fee8db,#feece1,#feefe6,#fef2ea,#fef6f1,#fff9f5,#fffbfa,#fffefe,#fffefe,#fffefe)"></i><i style="left:375.9px;background:linear-gradient(#fffefe,#fffefe,#fffdfc,#fff9f5,#fef4ef,#feefe6,#feebdf,#fee5d6,#fddfce,#fdd9c4,#fcd3bc,#facab1,#f9c4a9,#f8bda1,#f7b799,#f6b394,#f6af8e,#f5aa89,#f4a683,#f3a481,#f4a683,#f5a886,#f5a886,#f5ac8b,#f6af8e,#f6b394,#f7b596,#f7b99c,#f8bda1,#f9c2a7,#f9c6ac,#fbccb4,#fbd0b9,#fcd7c2,#fddbc7,#fddfce,#fde3d4,#fee6d9,#feebdf,#feede4,#fef2ea,#fef4ef,#fff9f5,#fffbfa,#fffefe,#fffefe,#fffefe)"></i><i style="left:378.9px;background:linear-gradient(#fffefe,#fffefe,#fffdfc,#fff9f5,#fef4ef,#feefe6,#feebdf,#fee5d6,#fddfce,#fddbc7,#fcd3bc,#fbccb4,#f9c4a9,#f8bda1,#f7b99c,#f6b394,#f6af8e,#f5aa89,#f5a886,#f4a683,#f4a683,#f5a886,#f5a886,#f5ac8b,#f6af8e,#f6b191,#f7b596,#f7b99c,#f8bda1,#f9c2a7,#f9c6ac,#facab1,#fbd0b9,#fcd5bf,#fddbc7,#fddfce,#fde2d2,#fee6d9,#fee9dd,#feede4,#fef0e8,#fef4ef,#fff7f3,#fffbfa,#fffefe,#fffefe,#fffefe)"></i><i style="left:381.9px;background:linear-gradient(#fffefe,#fffefe,#fffdfc,#fff9f5,#fef4ef,#fef0e8,#feebdf,#fee6d9,#fde1d0,#fddbc7,#fcd5bf,#fbccb4,#f9c6ac,#f8bfa4,#f7b99c,#f7b596,#f6b191,#f5ac8b,#f5a886,#f4a683,#f5a886,#f5a886,#f5aa89,#f5ac8b,#f6af8e,#f6b394,#f7b596,#f7b99c,#f8bda1,#f9c2a7,#f9c6ac,#facab1,#fbd0b9,#fcd5bf,#fddbc7,#fddecb,#fde2d2,#fee6d9,#fee9dd,#feede4,#fef0e8,#fef4ef,#fff7f3,#fffbfa,#fffefe,#fffefe,#fffefe)"></i><i style="left:384.9px;background:linear-gradient(#fffefe,#fffefe,#fffdfc,#fff9f5,#fef4ef,#fef0e8,#feece1,#fee6d9,#fde2d2,#fddcc9,#fcd7c2,#fbceb7,#fac8af,#f9c2a7,#f8bda1,#f7b799,#f6b394,#f6af8e,#f5ac8b,#f5aa89,#f5aa89,#f5aa89,#f5ac8b,#f6af8e,#f6b191,#f7b596,#f7b799,#f8bb9e,#f8bfa4,#f9c4a9,#fac8af,#fbccb4,#fbd0b9,#fcd7c2,#fddbc7,#fddfce,#fde2d2,#fee6d9,#fee9dd,#feede4,#fef0e8,#fef4ef,#fff7f3,#fffaf7,#fffefe,#fffefe,#fffefe)"></i><i style="left:388.0px;background:linear-gradient(#fffefe,#fffefe,#fffdfc,#fffaf7,#fef6f1,#fef0e8,#feece1,#fee8db,#fde2d2,#fddecb,#fdd9c4,#fbd0b9,#facab1,#f9c6ac,#f8bfa4,#f8bb9e,#f7b799,#f6b394,#f6af8e,#f5ac8b,#f5ac8b,#f6af8e,#f6b191,#f6b394,#f7b596,#f7b799,#f8bb9e,#f8bda1,#f9c2a7,#f9c6ac,#facab1,#fbceb7,#fcd3bc,#fcd7c2,#fddcc9,#fddfce,#fde3d4,#fee6d9,#feebdf,#feede4,#fef0e8,#fef4ef,#fff7f3,#fffbfa,#fffefe,#fffefe,#fffefe)"></i><i style="left:391.0px;background:linear-gradient(#fffefe,#fffefe,#fffdfc,#fffaf7,#fef6f1,#fef2ea,#feede4,#fee9dd,#fde3d4,#fddfce,#fddbc7,#fcd5bf,#fbceb7,#fac8af,#f9c4a9,#f8bfa4,#f8bb9e,#f7b799,#f7b596,#f6b394,#f6b394,#f6b394,#f7b596,#f7b799,#f7b99c,#f8bb9e,#f8bda1,#f9c2a7,#f9c4a9,#fac8af,#fbccb4,#fbd0b9,#fcd5bf,#fdd9c4,#fddecb,#fde1d0,#fde3d4,#fee8db,#feebdf,#feede4,#fef2ea,#fef4ef,#fff7f3,#fffbfa,#fffefe,#fffefe,#fffefe)"></i><i style="left:394.0px;background:linear-gradient(#fffefe,#fffefe,#fffefe,#fffaf7,#fef6f1,#fef2ea,#feefe6,#feebdf,#fee6d9,#fde2d2,#fddecb,#fdd9c4,#fcd3bc,#fbccb4,#fac8af,#f9c4a9,#f8bfa4,#f8bb9e,#f7b99c,#f7b799,#f7b799,#f7b99c,#f7b99c,#f8bb9e,#f8bda1,#f8bfa4,#f9c4a9,#f9c6ac,#fac8af,#fbccb4,#fbd0b9,#fcd5bf,#fdd9c4,#fddcc9,#fddfce,#fde2d2,#fee5d6,#fee9dd,#feece1,#feefe6,#fef2ea,#fef6f1,#fff9f5,#fffbfa,#fffefe,#fffefe,#fffefe)"></i><i style="left:397.0px;background:linear-gradient(#fffefe,#fffefe,#fffefe,#fffaf7,#fff7f3,#fef3ec,#fef0e8,#feece1,#fee8db,#fde3d4,#fddfce,#fddcc9,#fcd7c2,#fcd3bc,#fbceb7,#facab1,#f9c6ac,#f9c2a7,#f8bfa4,#f8bda1,#f8bfa4,#f8bfa4,#f8bfa4,#f9c2a7,#f9c4a9,#f9c6ac,#fac8af,#fbccb4,#fbceb7,#fbd0b9,#fcd5bf,#fdd9c4,#fddcc9,#fddfce,#fde2d2,#fee5d6,#fee8db,#feebdf,#feede4,#fef0e8,#fef3ec,#fef6f1,#fff9f5,#fffbfa,#fffefe,#fffefe,#fffefe)"></i><i style="left:400.0px;background:linear-gradient(#fffefe,#fffefe,#fffefe,#fffbfa,#fff7f3,#fef4ef,#fef2ea,#feede4,#feebdf,#fee6d9,#fde2d2,#fddfce,#fddcc9,#fdd9c4,#fcd5bf,#fbd0b9,#fbccb4,#facab1,#fac8af,#f9c6ac,#f9c6ac,#f9c6ac,#fac8af,#facab1,#facab1,#fbccb4,#fbceb7,#fcd3bc,#fcd5bf,#fcd7c2,#fddbc7,#fddcc9,#fddfce,#fde2d2,#fde3d4,#fee6d9,#fee9dd,#feece1,#feefe6,#fef2ea,#fef4ef,#fff7f3,#fff9f5,#fffbfa,#fffefe,#fffefe,#fffefe)"></i><i style="left:403.0px;background:linear-gradient(#fffefe,#fffefe,#fffefe,#fffbfa,#fff9f5,#fef6f1,#fef3ec,#fef0e8,#feece1,#fee9dd,#fee6d9,#fde3d4,#fde1d0,#fddecb,#fddbc7,#fcd7c2,#fcd5bf,#fcd3bc,#fbd0b9,#fbceb7,#fbceb7,#fbceb7,#fbd0b9,#fbd0b9,#fcd3bc,#fcd5bf,#fcd7c2,#fdd9c4,#fddbc7,#fddcc9,#fddfce,#fde1d0,#fde2d2,#fee5d6,#fee8db,#fee9dd,#feece1,#feefe6,#fef0e8,#fef3ec,#fef6f1,#fff7f3,#fffaf7,#fffbfa,#fffefe,#fffefe,#fffefe)"></i><i style="left:406.0px;background:linear-gradient(#fffefe,#fffefe,#fffefe,#fffbfa,#fffaf7,#fff7f3,#fef4ef,#fef2ea,#feefe6,#feece1,#fee9dd,#fee6d9,#fee5d6,#fde2d2,#fde1d0,#fddecb,#fddcc9,#fddbc7,#fdd9c4,#fdd9c4,#fdd9c4,#fdd9c4,#fdd9c4,#fddbc7,#fddbc7,#fddcc9,#fddecb,#fddfce,#fde1d0,#fde2d2,#fde3d4,#fee5d6,#fee6d9,#fee9dd,#feebdf,#feece1,#feefe6,#fef0e8,#fef3ec,#fef4ef,#fff7f3,#fff9f5,#fffaf7,#fffdfc,#fffefe,#fffefe,#fffefe)"></i><i style="left:409.0px;background:linear-gradient(#fffefe,#fffefe,#fffefe,#fffdfc,#fffaf7,#fff9f5,#fef6f1,#fef4ef,#fef2ea,#feefe6,#feede4,#feebdf,#fee9dd,#fee8db,#fee5d6,#fde3d4,#fde2d2,#fde2d2,#fde1d0,#fddfce,#fddfce,#fde1d0,#fde1d0,#fde2d2,#fde2d2,#fde3d4,#fde3d4,#fee5d6,#fee6d9,#fee8db,#fee9dd,#feebdf,#feece1,#feede4,#feefe6,#fef0e8,#fef2ea,#fef3ec,#fef4ef,#fff7f3,#fff9f5,#fffaf7,#fffbfa,#fffdfc,#fffefe,#fffefe,#fffefe)"></i><i style="left:412.0px;background:linear-gradient(#fffefe,#fffefe,#fffefe,#fffdfc,#fffbfa,#fffaf7,#fff9f5,#fff7f3,#fef4ef,#fef3ec,#fef2ea,#fef0e8,#feefe6,#feede4,#feece1,#feebdf,#fee9dd,#fee9dd,#fee8db,#fee8db,#fee8db,#fee8db,#fee9dd,#fee9dd,#fee9dd,#feebdf,#feebdf,#feece1,#feece1,#feede4,#feefe6,#fef0e8,#fef0e8,#fef2ea,#fef3ec,#fef4ef,#fef6f1,#fff7f3,#fff7f3,#fff9f5,#fffaf7,#fffbfa,#fffdfc,#fffdfc,#fffefe,#fffefe,#fffefe)"></i><i style="left:415.0px;background:linear-gradient(#fffefe,#fffefe,#fffefe,#fffdfc,#fffdfc,#fffbfa,#fffaf7,#fff9f5,#fff7f3,#fef6f1,#fef4ef,#fef3ec,#fef2ea,#fef2ea,#fef0e8,#feefe6,#feefe6,#feede4,#feede4,#feede4,#feede4,#feede4,#feede4,#feefe6,#feefe6,#feefe6,#fef0e8,#fef0e8,#fef2ea,#fef2ea,#fef3ec,#fef3ec,#fef4ef,#fef4ef,#fef6f1,#fff7f3,#fff7f3,#fff9f5,#fffaf7,#fffaf7,#fffbfa,#fffdfc,#fffdfc,#fffefe,#fffefe,#fffefe,#fffefe)"></i><i style="left:418.0px;background:linear-gradient(#fffefe,#fffefe,#fffefe,#fffdfc,#fffdfc,#fffbfa,#fffaf7,#fff9f5,#fff7f3,#fef6f1,#fef4ef,#fef3ec,#fef2ea,#fef2ea,#fef0e8,#feefe6,#feefe6,#feede4,#feede4,#feede4,#feede4,#feede4,#feede4,#feefe6,#feefe6,#feefe6,#fef0e8,#fef0e8,#fef2ea,#fef2ea,#fef3ec,#fef3ec,#fef4ef,#fef4ef,#fef6f1,#fff7f3,#fff7f3,#fff9f5,#fffaf7,#fffaf7,#fffbfa,#fffdfc,#fffdfc,#fffefe,#fffefe,#fffefe,#fffefe)"></i><i style="left:421.0px;background:linear-gradient(#fffefe,#fffefe,#fffefe,#fffdfc,#fffdfc,#fffbfa,#fffaf7,#fff9f5,#fff7f3,#fef6f1,#fef4ef,#fef3ec,#fef2ea,#fef2ea,#fef0e8,#feefe6,#feefe6,#feede4,#feede4,#feede4,#feede4,#feede4,#feede4,#feefe6,#feefe6,#feefe6,#fef0e8,#fef0e8,#fef2ea,#fef2ea,#fef3ec,#fef3ec,#fef4ef,#fef4ef,#fef6f1,#fff7f3,#fff7f3,#fff9f5,#fffaf7,#fffaf7,#fffbfa,#fffdfc,#fffdfc,#fffefe,#fffefe,#fffefe,#fffefe)"></i></div></div>
<svg width="2008" height="876" viewBox="0 0 2008 876">
<defs>
<linearGradient id="gl" x1="0" y1="0" x2="0" y2="1"><stop offset="0.0000" stop-color="#6c6c6c"/><stop offset="0.0083" stop-color="#575757"/><stop offset="0.0167" stop-color="#484848"/><stop offset="0.0250" stop-color="#5a5a5a"/><stop offset="0.0333" stop-color="#696969"/><stop offset="0.0417" stop-color="#777777"/><stop offset="0.0500" stop-color="#858585"/><stop offset="0.0583" stop-color="#919191"/><stop offset="0.0667" stop-color="#9d9d9d"/><stop offset="0.0750" stop-color="#a7a7a7"/><stop offset="0.0833" stop-color="#b3b3b3"/><stop offset="0.0917" stop-color="#bcbcbc"/><stop offset="0.1000" stop-color="#c4c4c4"/><stop offset="0.1083" stop-color="#cbcbcb"/><stop offset="0.1167" stop-color="#d1d1d1"/><stop offset="0.1250" stop-color="#d9d9d9"/><stop offset="0.1333" stop-color="#dfdfdf"/><stop offset="0.1417" stop-color="#e5e5e5"/><stop offset="0.1500" stop-color="#eaeaea"/><stop offset="0.1583" stop-color="#f0f0f0"/><stop offset="0.1667" stop-color="#f5f5f5"/><stop offset="0.1750" stop-color="#fafafa"/><stop offset="0.1833" stop-color="#fffefe"/><stop offset="0.1917" stop-color="#fff9f5"/><stop offset="0.2000" stop-color="#fef3ec"/><stop offset="0.2083" stop-color="#feede4"/><stop offset="0.2167" stop-color="#fee8db"/><stop offset="0.2250" stop-color="#fde2d2"/><stop offset="0.2333" stop-color="#fddecb"/><stop offset="0.2417" stop-color="#fcd7c2"/><stop offset="0.2500" stop-color="#fbceb7"/><stop offset="0.2583" stop-color="#fac8af"/><stop offset="0.2667" stop-color="#f8bfa4"/><stop offset="0.2750" stop-color="#f7b99c"/><stop offset="0.2833" stop-color="#f6b394"/><stop offset="0.2917" stop-color="#f5aa89"/><stop offset="0.3000" stop-color="#f3a481"/><stop offset="0.3083" stop-color="#f09c7b"/><stop offset="0.3167" stop-color="#ec9374"/><stop offset="0.3250" stop-color="#e98b6e"/><stop offset="0.3333" stop-color="#e6866a"/><stop offset="0.3417" stop-color="#e37e64"/><stop offset="0.3500" stop-color="#e17860"/><stop offset="0.3583" stop-color="#dd7059"/><stop offset="0.3667" stop-color="#db6b55"/><stop offset="0.3750" stop-color="#d86551"/><stop offset="0.3833" stop-color="#d6604d"/><stop offset="0.3917" stop-color="#d35a4a"/><stop offset="0.4000" stop-color="#d05548"/><stop offset="0.4083" stop-color="#ce4f45"/><stop offset="0.4167" stop-color="#cc4c44"/><stop offset="0.4250" stop-color="#c94741"/><stop offset="0.4333" stop-color="#c84440"/><stop offset="0.4417" stop-color="#c6413e"/><stop offset="0.4500" stop-color="#c53e3d"/><stop offset="0.4583" stop-color="#c43b3c"/><stop offset="0.4667" stop-color="#c43b3c"/><stop offset="0.4750" stop-color="#c2383a"/><stop offset="0.4833" stop-color="#c2383a"/><stop offset="0.4917" stop-color="#c2383a"/><stop offset="0.5000" stop-color="#c13639"/><stop offset="0.5083" stop-color="#c2383a"/><stop offset="0.5167" stop-color="#c2383a"/><stop offset="0.5250" stop-color="#c2383a"/><stop offset="0.5333" stop-color="#c43b3c"/><stop offset="0.5417" stop-color="#c43b3c"/><stop offset="0.5500" stop-color="#c53e3d"/><stop offset="0.5583" stop-color="#c6413e"/><stop offset="0.5667" stop-color="#c84440"/><stop offset="0.5750" stop-color="#c94741"/><stop offset="0.5833" stop-color="#cc4c44"/><stop offset="0.5917" stop-color="#ce4f45"/><stop offset="0.6000" stop-color="#d05548"/><stop offset="0.6083" stop-color="#d35a4a"/><stop offset="0.6167" stop-color="#d6604d"/><stop offset="0.6250" stop-color="#d86551"/><stop offset="0.6333" stop-color="#db6b55"/><stop offset="0.6417" stop-color="#dd7059"/><stop offset="0.6500" stop-color="#e17860"/><stop offset="0.6583" stop-color="#e37e64"/><stop offset="0.6667" stop-color="#e6866a"/><stop offset="0.6750" stop-color="#e98b6e"/><stop offset="0.6833" stop-color="#ec9374"/><stop offset="0.6917" stop-color="#f09c7b"/><stop offset="0.7000" stop-color="#f3a481"/><stop offset="0.7083" stop-color="#f5aa89"/><stop offset="0.7167" stop-color="#f6b394"/><stop offset="0.7250" stop-color="#f7b99c"/><stop offset="0.7333" stop-color="#f8bfa4"/><stop offset="0.7417" stop-color="#fac8af"/><stop offset="0.7500" stop-color="#fbceb7"/><stop offset="0.7583" stop-color="#fcd7c2"/><stop offset="0.7667" stop-color="#fddecb"/><stop offset="0.7750" stop-color="#fde2d2"/><stop offset="0.7833" stop-color="#fee8db"/><stop offset="0.7917" stop-color="#feede4"/><stop offset="0.8000" stop-color="#fef3ec"/><stop offset="0.8083" stop-color="#fff9f5"/><stop offset="0.8167" stop-color="#fffefe"/><stop offset="0.8250" stop-color="#fafafa"/><stop offset="0.8333" stop-color="#f5f5f5"/><stop offset="0.8417" stop-color="#f0f0f0"/><stop offset="0.8500" stop-color="#eaeaea"/><stop offset="0.8583" stop-color="#e5e5e5"/><stop offset="0.8667" stop-color="#dfdfdf"/><stop offset="0.8750" stop-color="#d9d9d9"/><stop offset="0.8833" stop-color="#d1d1d1"/><stop offset="0.8917" stop-color="#cbcbcb"/><stop offset="0.9000" stop-color="#c4c4c4"/><stop offset="0.9083" stop-color="#bcbcbc"/><stop offset="0.9167" stop-color="#b3b3b3"/><stop offset="0.9250" stop-color="#a7a7a7"/><stop offset="0.9333" stop-color="#9d9d9d"/><stop offset="0.9417" stop-color="#919191"/><stop offset="0.9500" stop-color="#858585"/><stop offset="0.9583" stop-color="#777777"/><stop offset="0.9667" stop-color="#696969"/><stop offset="0.9750" stop-color="#5a5a5a"/><stop offset="0.9833" stop-color="#484848"/><stop offset="0.9917" stop-color="#575757"/><stop offset="1.0000" stop-color="#6c6c6c"/></linearGradient>
<linearGradient id="gc1" x1="0" y1="0" x2="0" y2="1"><stop offset="0.0000" stop-color="#67001f"/><stop offset="0.0250" stop-color="#790622"/><stop offset="0.0500" stop-color="#8a0b25"/><stop offset="0.0750" stop-color="#9f1228"/><stop offset="0.1000" stop-color="#b1182b"/><stop offset="0.1250" stop-color="#ba2832"/><stop offset="0.1500" stop-color="#c43b3c"/><stop offset="0.1750" stop-color="#cc4c44"/><stop offset="0.2000" stop-color="#d6604d"/><stop offset="0.2250" stop-color="#dd7059"/><stop offset="0.2500" stop-color="#e48066"/><stop offset="0.2750" stop-color="#ec9374"/><stop offset="0.3000" stop-color="#f3a481"/><stop offset="0.3250" stop-color="#f6b394"/><stop offset="0.3500" stop-color="#f8bfa4"/><stop offset="0.3750" stop-color="#fbccb4"/><stop offset="0.4000" stop-color="#fddbc7"/><stop offset="0.4250" stop-color="#fde3d4"/><stop offset="0.4500" stop-color="#feede4"/><stop offset="0.4750" stop-color="#fef6f1"/><stop offset="0.5000" stop-color="#fffefe"/><stop offset="0.5250" stop-color="#f7f7f7"/><stop offset="0.5500" stop-color="#f0f0f0"/><stop offset="0.5750" stop-color="#e7e7e7"/><stop offset="0.6000" stop-color="#e0e0e0"/><stop offset="0.6250" stop-color="#d7d7d7"/><stop offset="0.6500" stop-color="#cdcdcd"/><stop offset="0.6750" stop-color="#c4c4c4"/><stop offset="0.7000" stop-color="#b9b9b9"/><stop offset="0.7250" stop-color="#adadad"/><stop offset="0.7500" stop-color="#a1a1a1"/><stop offset="0.7750" stop-color="#939393"/><stop offset="0.8000" stop-color="#878787"/><stop offset="0.8250" stop-color="#777777"/><stop offset="0.8500" stop-color="#696969"/><stop offset="0.8750" stop-color="#5c5c5c"/><stop offset="0.9000" stop-color="#4c4c4c"/><stop offset="0.9250" stop-color="#404040"/><stop offset="0.9500" stop-color="#323232"/><stop offset="0.9750" stop-color="#262626"/><stop offset="1.0000" stop-color="#1a1a1a"/></linearGradient>
<linearGradient id="gc2" x1="0" y1="0" x2="0" y2="1"><stop offset="0.0000" stop-color="#67001f"/><stop offset="0.0250" stop-color="#760521"/><stop offset="0.0500" stop-color="#870a24"/><stop offset="0.0750" stop-color="#991027"/><stop offset="0.1000" stop-color="#ab162a"/><stop offset="0.1250" stop-color="#b61f2e"/><stop offset="0.1500" stop-color="#be3036"/><stop offset="0.1750" stop-color="#c6413e"/><stop offset="0.2000" stop-color="#cf5246"/><stop offset="0.2250" stop-color="#d7634f"/><stop offset="0.2500" stop-color="#dd7059"/><stop offset="0.2750" stop-color="#e48066"/><stop offset="0.3000" stop-color="#eb9172"/><stop offset="0.3250" stop-color="#f2a17f"/><stop offset="0.3500" stop-color="#f6af8e"/><stop offset="0.3750" stop-color="#f7b99c"/><stop offset="0.4000" stop-color="#f9c6ac"/><stop offset="0.4250" stop-color="#fcd3bc"/><stop offset="0.4500" stop-color="#fddecb"/><stop offset="0.4750" stop-color="#fee6d9"/><stop offset="0.5000" stop-color="#feede4"/><stop offset="0.5250" stop-color="#fef6f1"/><stop offset="0.5500" stop-color="#fffefe"/><stop offset="0.5750" stop-color="#f8f8f8"/><stop offset="0.6000" stop-color="#f1f1f1"/><stop offset="0.6250" stop-color="#ebebeb"/><stop offset="0.6500" stop-color="#e4e4e4"/><stop offset="0.6750" stop-color="#dcdcdc"/><stop offset="0.7000" stop-color="#d3d3d3"/><stop offset="0.7250" stop-color="#cbcbcb"/><stop offset="0.7500" stop-color="#c2c2c2"/><stop offset="0.7750" stop-color="#b9b9b9"/><stop offset="0.8000" stop-color="#adadad"/><stop offset="0.8250" stop-color="#a1a1a1"/><stop offset="0.8500" stop-color="#979797"/><stop offset="0.8750" stop-color="#8b8b8b"/><stop offset="0.9000" stop-color="#7e7e7e"/><stop offset="0.9250" stop-color="#707070"/><stop offset="0.9500" stop-color="#636363"/><stop offset="0.9750" stop-color="#575757"/><stop offset="1.0000" stop-color="#4a4a4a"/></linearGradient>
<clipPath id="cla"><rect x="133.3" y="57.90" width="1000.70" height="227.60"/></clipPath>
<clipPath id="clb"><rect x="133.3" y="500.65" width="1000.70" height="227.60"/></clipPath>
</defs>
<rect x="133.3" y="57.90" width="1000.70" height="227.60" fill="url(#gl)"/>
<path d="M133.30 171.80L409.00 171.80" stroke="#0ff" stroke-width="2.7" fill="none"/>
<path d="M422.3 171.80L402.8 163.80L407.8 171.80L402.8 179.80Z" fill="#0ff"/>
<path d="M188.10 167.40L188.10 176.20" stroke="#0ff" stroke-width="2.7" fill="none"/>
<text transform="matrix(0.8697 0 0 0.9521 166.48 207.23)" fill="#0ff" style="font-family:'Liberation Serif',serif;font-size:40.0px">0.5</text>
<path d="M245.60 167.40L245.60 176.20" stroke="#0ff" stroke-width="2.7" fill="none"/>
<text transform="matrix(0.8318 0 0 0.9521 224.68 207.23)" fill="#0ff" style="font-family:'Liberation Serif',serif;font-size:40.0px">1.0</text>
<path d="M303.10 167.40L303.10 176.20" stroke="#0ff" stroke-width="2.7" fill="none"/>
<text transform="matrix(0.8014 0 0 0.9521 281.78 207.23)" fill="#0ff" style="font-family:'Liberation Serif',serif;font-size:40.0px">1.5</text>
<path d="M360.60 167.40L360.60 176.20" stroke="#0ff" stroke-width="2.7" fill="none"/>
<text transform="matrix(0.8862 0 0 0.9521 338.54 207.23)" fill="#0ff" style="font-family:'Liberation Serif',serif;font-size:40.0px">2.0</text>
<text fill="#0ff" style="font-family:'Liberation Serif',serif"><tspan x="436.66" y="181.71" style="font-size:41.43px;font-style:italic">u</tspan><tspan x="460.76" y="191.34" style="font-size:62.56px">/</tspan><tspan x="477.67" y="181.77" style="font-size:44.54px;font-style:italic">U</tspan><tspan x="506.73" y="188.20" style="font-size:30.27px;font-style:italic">b</tspan></text>
<text transform="matrix(0.6452 0 0 0.5060 441.38 162.26)" fill="#0ff" style="font-family:'Liberation Serif',serif;font-size:40.0px">~</text>
<polyline points="130.6,57.9 136.3,59.3 141.8,60.7 147.1,62.2 152.2,63.6 157.2,65.0 162.0,66.4 166.6,67.9 171.1,69.3 175.5,70.7 179.7,72.1 183.9,73.5 187.9,75.0 191.8,76.4 195.6,77.8 199.3,79.2 203.0,80.7 206.5,82.1 210.0,83.5 213.5,84.9 216.8,86.3 220.1,87.8 223.3,89.2 226.5,90.6 229.6,92.0 232.7,93.5 235.7,94.9 238.7,96.3 241.6,97.7 244.5,99.2 247.4,100.6 250.2,102.0 252.9,103.4 255.6,104.8 258.3,106.3 261.0,107.7 263.6,109.1 266.1,110.5 268.7,112.0 271.1,113.4 273.6,114.8 276.0,116.2 278.3,117.6 280.7,119.1 283.0,120.5 285.2,121.9 287.4,123.3 289.5,124.8 291.6,126.2 293.7,127.6 295.7,129.0 297.6,130.4 299.5,131.9 301.4,133.3 303.2,134.7 304.9,136.1 306.6,137.6 308.2,139.0 309.8,140.4 311.3,141.8 312.8,143.2 314.1,144.7 315.5,146.1 316.7,147.5 317.9,148.9 319.0,150.4 320.1,151.8 321.1,153.2 322.0,154.6 322.8,156.1 323.6,157.5 324.3,158.9 325.0,160.3 325.5,161.7 326.0,163.2 326.4,164.6 326.8,166.0 327.0,167.4 327.2,168.9 327.3,170.3 327.4,171.7 327.3,173.1 327.2,174.5 327.0,176.0 326.8,177.4 326.4,178.8 326.0,180.2 325.5,181.7 325.0,183.1 324.3,184.5 323.6,185.9 322.8,187.3 322.0,188.8 321.1,190.2 320.1,191.6 319.0,193.0 317.9,194.5 316.7,195.9 315.5,197.3 314.1,198.7 312.8,200.1 311.3,201.6 309.8,203.0 308.2,204.4 306.6,205.8 304.9,207.3 303.2,208.7 301.4,210.1 299.5,211.5 297.6,213.0 295.7,214.4 293.7,215.8 291.6,217.2 289.5,218.6 287.4,220.1 285.2,221.5 283.0,222.9 280.7,224.3 278.3,225.8 276.0,227.2 273.6,228.6 271.1,230.0 268.7,231.4 266.1,232.9 263.6,234.3 261.0,235.7 258.3,237.1 255.6,238.6 252.9,240.0 250.2,241.4 247.4,242.8 244.5,244.2 241.6,245.7 238.7,247.1 235.7,248.5 232.7,249.9 229.6,251.4 226.5,252.8 223.3,254.2 220.1,255.6 216.8,257.0 213.5,258.5 210.0,259.9 206.5,261.3 203.0,262.7 199.3,264.2 195.6,265.6 191.8,267.0 187.9,268.4 183.9,269.9 179.7,271.3 175.5,272.7 171.1,274.1 166.6,275.5 162.0,277.0 157.2,278.4 152.2,279.8 147.1,281.2 141.8,282.7 136.3,284.1 130.6,285.5" fill="none" stroke="#f0f" stroke-width="4.4" stroke-linejoin="round" clip-path="url(#cla)"/>
<rect x="133.30" y="57.90" width="1000.70" height="227.60" fill="none" stroke="#000" stroke-width="2.0"/>
<path d="M283.90 285.50L283.90 293.80" stroke="#000" stroke-width="2.1" fill="none"/>
<text transform="matrix(1.0165 0 0 1.0188 273.96 329.90)" style="font-family:'Liberation Serif',serif;font-size:40.0px">2</text>
<path d="M437.20 285.50L437.20 293.80" stroke="#000" stroke-width="2.1" fill="none"/>
<text transform="matrix(0.9466 0 0 1.0188 427.66 329.90)" style="font-family:'Liberation Serif',serif;font-size:40.0px">4</text>
<path d="M590.50 285.50L590.50 293.80" stroke="#000" stroke-width="2.1" fill="none"/>
<text transform="matrix(0.9596 0 0 1.0188 580.65 329.90)" style="font-family:'Liberation Serif',serif;font-size:40.0px">6</text>
<path d="M743.80 285.50L743.80 293.80" stroke="#000" stroke-width="2.1" fill="none"/>
<text transform="matrix(0.9674 0 0 1.0188 734.13 329.90)" style="font-family:'Liberation Serif',serif;font-size:40.0px">8</text>
<path d="M897.10 285.50L897.10 293.80" stroke="#000" stroke-width="2.1" fill="none"/>
<text transform="matrix(0.9954 0 0 1.0188 876.20 329.90)" style="font-family:'Liberation Serif',serif;font-size:40.0px">10</text>
<path d="M1050.40 285.50L1050.40 293.80" stroke="#000" stroke-width="2.1" fill="none"/>
<text transform="matrix(1.0094 0 0 1.0188 1029.55 329.90)" style="font-family:'Liberation Serif',serif;font-size:40.0px">12</text>
<path d="M124.90 132.80L133.30 132.80" stroke="#000" stroke-width="2.1" fill="none"/>
<text transform="matrix(0.9828 0 0 1.0262 49.00 148.10)" style="font-family:'Liberation Serif',serif;font-size:40.0px">0.50</text>
<path d="M124.90 210.60L133.30 210.60" stroke="#000" stroke-width="2.1" fill="none"/>
<text transform="matrix(0.9834 0 0 1.0262 49.00 225.90)" style="font-family:'Liberation Serif',serif;font-size:40.0px">0.25</text>
<text transform="matrix(0.9497 0 0 1.0336 115.35 317.50)" style="font-family:'Liberation Serif',serif;font-size:40.0px">0</text>
<text style="font-family:'Liberation Serif',serif"><tspan x="589.22" y="361.30" style="font-size:41.40px;font-style:italic">x</tspan><tspan x="611.20" y="370.70" style="font-size:61.89px">/</tspan><tspan x="632.46" y="361.22" style="font-size:43.09px;font-style:italic">D</tspan><tspan x="664.46" y="367.90" style="font-size:29.69px;font-style:italic">h</tspan></text>
<text transform="translate(30.40 215.40) rotate(-90)" style="font-family:'Liberation Serif',serif"><tspan x="0.95" y="0.00" style="font-size:41.40px;font-style:italic">z</tspan><tspan x="20.30" y="9.40" style="font-size:61.89px">/</tspan><tspan x="41.56" y="-0.08" style="font-size:43.09px;font-style:italic">D</tspan><tspan x="74.41" y="6.60" style="font-size:29.69px;font-style:italic">h</tspan></text>
<rect x="1169.90" y="57.85" width="17.10" height="227.75" fill="url(#gc1)" stroke="#000" stroke-width="2.0"/>
<path d="M1187.00 57.85L1194.70 57.85" stroke="#000" stroke-width="2.1" fill="none"/>
<text transform="matrix(0.9996 0 0 1.0373 1201.94 72.44)" style="font-family:'Liberation Serif',serif;font-size:40.0px">2.0</text>
<path d="M1187.00 114.79L1194.70 114.79" stroke="#000" stroke-width="2.1" fill="none"/>
<text transform="matrix(1.0396 0 0 1.0373 1200.05 129.38)" style="font-family:'Liberation Serif',serif;font-size:40.0px">1.5</text>
<path d="M1187.00 171.73L1194.70 171.73" stroke="#000" stroke-width="2.1" fill="none"/>
<text transform="matrix(1.0387 0 0 1.0373 1200.05 186.32)" style="font-family:'Liberation Serif',serif;font-size:40.0px">1.0</text>
<path d="M1187.00 228.66L1194.70 228.66" stroke="#000" stroke-width="2.1" fill="none"/>
<text transform="matrix(0.9954 0 0 1.0373 1202.18 243.26)" style="font-family:'Liberation Serif',serif;font-size:40.0px">0.5</text>
<path d="M1187.00 285.60L1194.70 285.60" stroke="#000" stroke-width="2.1" fill="none"/>
<text transform="matrix(0.9946 0 0 1.0373 1202.18 300.19)" style="font-family:'Liberation Serif',serif;font-size:40.0px">0.0</text>
<text style="font-family:'Liberation Serif',serif"><tspan x="1142.67" y="31.62" style="font-size:40.79px;font-style:italic">u</tspan><tspan x="1165.80" y="41.30" style="font-size:61.89px">/</tspan><tspan x="1182.09" y="31.67" style="font-size:43.79px;font-style:italic">U</tspan><tspan x="1210.67" y="37.82" style="font-size:29.14px;font-style:italic">b</tspan></text>
<rect x="1454.10" y="58.00" width="406.00" height="227.65" fill="none" stroke="#000" stroke-width="2.0"/>
<path d="M1604.80 285.65L1604.80 293.85" stroke="#000" stroke-width="2.1" fill="none"/>
<text transform="matrix(1.0040 0 0 1.0299 1579.97 330.20)" style="font-family:'Liberation Serif',serif;font-size:40.0px">0.5</text>
<path d="M1757.70 285.65L1757.70 293.85" stroke="#000" stroke-width="2.1" fill="none"/>
<text transform="matrix(1.0075 0 0 1.0299 1732.66 330.20)" style="font-family:'Liberation Serif',serif;font-size:40.0px">1.0</text>
<path d="M1445.80 132.80L1454.10 132.80" stroke="#000" stroke-width="2.1" fill="none"/>
<text transform="matrix(0.9828 0 0 1.0262 1370.05 148.10)" style="font-family:'Liberation Serif',serif;font-size:40.0px">0.50</text>
<path d="M1445.80 210.60L1454.10 210.60" stroke="#000" stroke-width="2.1" fill="none"/>
<text transform="matrix(0.9834 0 0 1.0262 1370.05 225.90)" style="font-family:'Liberation Serif',serif;font-size:40.0px">0.25</text>
<text transform="matrix(0.9320 0 0 1.0225 1421.18 317.50)" style="font-family:'Liberation Serif',serif;font-size:40.0px">0</text>
<text style="font-family:'Liberation Serif',serif"><tspan x="1615.13" y="361.43" style="font-size:39.72px;font-style:italic">y</tspan><tspan x="1633.91" y="370.99" style="font-size:62.19px">/</tspan><tspan x="1655.56" y="361.12" style="font-size:42.94px;font-style:italic">D</tspan><tspan x="1687.41" y="368.00" style="font-size:30.27px;font-style:italic">h</tspan></text>
<text transform="translate(1341.20 225.60) rotate(-90)" style="font-family:'Liberation Serif',serif"><tspan x="0.95" y="0.00" style="font-size:41.40px;font-style:italic">z</tspan><tspan x="20.30" y="9.40" style="font-size:61.89px">/</tspan><tspan x="41.56" y="-0.08" style="font-size:43.09px;font-style:italic">D</tspan><tspan x="74.41" y="6.60" style="font-size:29.69px;font-style:italic">h</tspan></text>
<rect x="1896.00" y="57.95" width="17.10" height="227.80" fill="url(#gc2)" stroke="#000" stroke-width="2.0"/>
<path d="M1913.10 57.95L1920.90 57.95" stroke="#000" stroke-width="2.1" fill="none"/>
<path d="M1913.10 114.90L1920.90 114.90" stroke="#000" stroke-width="2.1" fill="none"/>
<path d="M1913.10 171.85L1920.90 171.85" stroke="#000" stroke-width="2.1" fill="none"/>
<path d="M1913.10 228.80L1920.90 228.80" stroke="#000" stroke-width="2.1" fill="none"/>
<path d="M1913.10 285.75L1920.90 285.75" stroke="#000" stroke-width="2.1" fill="none"/>
<text transform="matrix(1.0030 0 0 1.0410 1927.88 72.49)" style="font-family:'Liberation Serif',serif;font-size:40.0px">3.0</text>
<text transform="matrix(0.9750 0 0 1.0299 1929.07 125.90)" style="font-family:'Liberation Serif',serif;font-size:40.0px">1.5</text>
<text transform="matrix(0.9946 0 0 1.0447 1928.28 183.39)" style="font-family:'Liberation Serif',serif;font-size:40.0px">0.0</text>
<text style="font-family:'Liberation Serif',serif"><tspan x="1929.21" y="248.01" style="font-size:53.94px">&#8722;</tspan><tspan x="1959.56" y="241.19" style="font-size:41.79px">1.5</tspan></text>
<text style="font-family:'Liberation Serif',serif"><tspan x="1929.21" y="304.31" style="font-size:53.94px">&#8722;</tspan><tspan x="1959.32" y="296.89" style="font-size:41.64px">3.0</tspan></text>
<text style="font-family:'Liberation Serif',serif"><tspan x="1871.28" y="31.00" style="font-size:41.17px;font-style:italic">v</tspan><tspan x="1892.75" y="40.20" style="font-size:61.89px">/</tspan><tspan x="1908.62" y="31.37" style="font-size:44.54px;font-style:italic">U</tspan><tspan x="1937.77" y="36.92" style="font-size:28.71px;font-style:italic">b</tspan></text>
<text style="font-family:'Liberation Serif',serif"><tspan x="1757.08" y="57.33" style="font-size:49.11px">&#215;</tspan><tspan x="1780.50" y="52.20" style="font-size:43.02px">1</tspan><tspan x="1799.91" y="52.38" style="font-size:42.98px">0</tspan><tspan x="1820.94" y="41.10" style="font-size:36.14px">&#8722;</tspan><tspan x="1841.56" y="36.71" style="font-size:29.77px">6</tspan></text>
<text transform="matrix(0.9354 0 0 0.9226 975.34 426.14)" style="font-family:'Liberation Sans',sans-serif;font-size:40.0px;font-weight:bold">(a)</text>
<rect x="133.3" y="500.65" width="1000.70" height="227.60" fill="url(#gl)"/>
<path d="M133.30 614.55L409.00 614.55" stroke="#0ff" stroke-width="2.7" fill="none"/>
<path d="M422.3 614.55L402.8 606.55L407.8 614.55L402.8 622.55Z" fill="#0ff"/>
<path d="M188.10 610.15L188.10 618.95" stroke="#0ff" stroke-width="2.7" fill="none"/>
<text transform="matrix(0.8697 0 0 0.9521 166.48 649.98)" fill="#0ff" style="font-family:'Liberation Serif',serif;font-size:40.0px">0.5</text>
<path d="M245.60 610.15L245.60 618.95" stroke="#0ff" stroke-width="2.7" fill="none"/>
<text transform="matrix(0.8318 0 0 0.9521 224.68 649.98)" fill="#0ff" style="font-family:'Liberation Serif',serif;font-size:40.0px">1.0</text>
<path d="M303.10 610.15L303.10 618.95" stroke="#0ff" stroke-width="2.7" fill="none"/>
<text transform="matrix(0.8014 0 0 0.9521 281.78 649.98)" fill="#0ff" style="font-family:'Liberation Serif',serif;font-size:40.0px">1.5</text>
<path d="M360.60 610.15L360.60 618.95" stroke="#0ff" stroke-width="2.7" fill="none"/>
<text transform="matrix(0.8862 0 0 0.9521 338.54 649.98)" fill="#0ff" style="font-family:'Liberation Serif',serif;font-size:40.0px">2.0</text>
<text fill="#0ff" style="font-family:'Liberation Serif',serif"><tspan x="436.66" y="624.46" style="font-size:41.43px;font-style:italic">u</tspan><tspan x="460.76" y="634.09" style="font-size:62.56px">/</tspan><tspan x="477.67" y="624.52" style="font-size:44.54px;font-style:italic">U</tspan><tspan x="506.73" y="630.95" style="font-size:30.27px;font-style:italic">b</tspan></text>
<text transform="matrix(0.6452 0 0 0.5060 441.38 605.01)" fill="#0ff" style="font-family:'Liberation Serif',serif;font-size:40.0px">~</text>
<polyline points="130.6,500.7 136.3,502.1 141.8,503.5 147.1,504.9 152.2,506.3 157.2,507.8 162.0,509.2 166.6,510.6 171.1,512.0 175.5,513.5 179.7,514.9 183.9,516.3 187.9,517.7 191.8,519.1 195.6,520.6 199.3,522.0 203.0,523.4 206.5,524.8 210.0,526.3 213.5,527.7 216.8,529.1 220.1,530.5 223.3,531.9 226.5,533.4 229.6,534.8 232.7,536.2 235.7,537.6 238.7,539.1 241.6,540.5 244.5,541.9 247.4,543.3 250.2,544.7 252.9,546.2 255.6,547.6 258.3,549.0 261.0,550.4 263.6,551.9 266.1,553.3 268.7,554.7 271.1,556.1 273.6,557.6 276.0,559.0 278.3,560.4 280.7,561.8 283.0,563.2 285.2,564.7 287.4,566.1 289.5,567.5 291.6,568.9 293.7,570.4 295.7,571.8 297.6,573.2 299.5,574.6 301.4,576.0 303.2,577.5 304.9,578.9 306.6,580.3 308.2,581.7 309.8,583.2 311.3,584.6 312.8,586.0 314.1,587.4 315.5,588.8 316.7,590.3 317.9,591.7 319.0,593.1 320.1,594.5 321.1,596.0 322.0,597.4 322.8,598.8 323.6,600.2 324.3,601.6 325.0,603.1 325.5,604.5 326.0,605.9 326.4,607.3 326.8,608.8 327.0,610.2 327.2,611.6 327.3,613.0 327.4,614.5 327.3,615.9 327.2,617.3 327.0,618.7 326.8,620.1 326.4,621.6 326.0,623.0 325.5,624.4 325.0,625.8 324.3,627.3 323.6,628.7 322.8,630.1 322.0,631.5 321.1,632.9 320.1,634.4 319.0,635.8 317.9,637.2 316.7,638.6 315.5,640.1 314.1,641.5 312.8,642.9 311.3,644.3 309.8,645.7 308.2,647.2 306.6,648.6 304.9,650.0 303.2,651.4 301.4,652.9 299.5,654.3 297.6,655.7 295.7,657.1 293.7,658.5 291.6,660.0 289.5,661.4 287.4,662.8 285.2,664.2 283.0,665.7 280.7,667.1 278.3,668.5 276.0,669.9 273.6,671.4 271.1,672.8 268.7,674.2 266.1,675.6 263.6,677.0 261.0,678.5 258.3,679.9 255.6,681.3 252.9,682.7 250.2,684.2 247.4,685.6 244.5,687.0 241.6,688.4 238.7,689.8 235.7,691.3 232.7,692.7 229.6,694.1 226.5,695.5 223.3,697.0 220.1,698.4 216.8,699.8 213.5,701.2 210.0,702.6 206.5,704.1 203.0,705.5 199.3,706.9 195.6,708.3 191.8,709.8 187.9,711.2 183.9,712.6 179.7,714.0 175.5,715.4 171.1,716.9 166.6,718.3 162.0,719.7 157.2,721.1 152.2,722.6 147.1,724.0 141.8,725.4 136.3,726.8 130.6,728.2" fill="none" stroke="#f0f" stroke-width="4.4" stroke-linejoin="round" clip-path="url(#clb)"/>
<rect x="133.30" y="500.65" width="1000.70" height="227.60" fill="none" stroke="#000" stroke-width="2.0"/>
<path d="M283.90 728.25L283.90 736.55" stroke="#000" stroke-width="2.1" fill="none"/>
<text transform="matrix(1.0165 0 0 1.0188 273.96 772.65)" style="font-family:'Liberation Serif',serif;font-size:40.0px">2</text>
<path d="M437.20 728.25L437.20 736.55" stroke="#000" stroke-width="2.1" fill="none"/>
<text transform="matrix(0.9466 0 0 1.0188 427.66 772.65)" style="font-family:'Liberation Serif',serif;font-size:40.0px">4</text>
<path d="M590.50 728.25L590.50 736.55" stroke="#000" stroke-width="2.1" fill="none"/>
<text transform="matrix(0.9596 0 0 1.0188 580.65 772.65)" style="font-family:'Liberation Serif',serif;font-size:40.0px">6</text>
<path d="M743.80 728.25L743.80 736.55" stroke="#000" stroke-width="2.1" fill="none"/>
<text transform="matrix(0.9674 0 0 1.0188 734.13 772.65)" style="font-family:'Liberation Serif',serif;font-size:40.0px">8</text>
<path d="M897.10 728.25L897.10 736.55" stroke="#000" stroke-width="2.1" fill="none"/>
<text transform="matrix(0.9954 0 0 1.0188 876.20 772.65)" style="font-family:'Liberation Serif',serif;font-size:40.0px">10</text>
<path d="M1050.40 728.25L1050.40 736.55" stroke="#000" stroke-width="2.1" fill="none"/>
<text transform="matrix(1.0094 0 0 1.0188 1029.55 772.65)" style="font-family:'Liberation Serif',serif;font-size:40.0px">12</text>
<path d="M124.90 575.55L133.30 575.55" stroke="#000" stroke-width="2.1" fill="none"/>
<text transform="matrix(0.9828 0 0 1.0262 49.00 590.85)" style="font-family:'Liberation Serif',serif;font-size:40.0px">0.50</text>
<path d="M124.90 653.35L133.30 653.35" stroke="#000" stroke-width="2.1" fill="none"/>
<text transform="matrix(0.9834 0 0 1.0262 49.00 668.65)" style="font-family:'Liberation Serif',serif;font-size:40.0px">0.25</text>
<text transform="matrix(0.9497 0 0 1.0336 115.35 760.25)" style="font-family:'Liberation Serif',serif;font-size:40.0px">0</text>
<text style="font-family:'Liberation Serif',serif"><tspan x="589.22" y="804.05" style="font-size:41.40px;font-style:italic">x</tspan><tspan x="611.20" y="813.45" style="font-size:61.89px">/</tspan><tspan x="632.46" y="803.97" style="font-size:43.09px;font-style:italic">D</tspan><tspan x="664.46" y="810.65" style="font-size:29.69px;font-style:italic">h</tspan></text>
<text transform="translate(30.40 658.15) rotate(-90)" style="font-family:'Liberation Serif',serif"><tspan x="0.95" y="0.00" style="font-size:41.40px;font-style:italic">z</tspan><tspan x="20.30" y="9.40" style="font-size:61.89px">/</tspan><tspan x="41.56" y="-0.08" style="font-size:43.09px;font-style:italic">D</tspan><tspan x="74.41" y="6.60" style="font-size:29.69px;font-style:italic">h</tspan></text>
<rect x="1169.90" y="500.60" width="17.10" height="227.75" fill="url(#gc1)" stroke="#000" stroke-width="2.0"/>
<path d="M1187.00 500.60L1194.70 500.60" stroke="#000" stroke-width="2.1" fill="none"/>
<text transform="matrix(0.9996 0 0 1.0373 1201.94 515.19)" style="font-family:'Liberation Serif',serif;font-size:40.0px">2.0</text>
<path d="M1187.00 557.54L1194.70 557.54" stroke="#000" stroke-width="2.1" fill="none"/>
<text transform="matrix(1.0396 0 0 1.0373 1200.05 572.13)" style="font-family:'Liberation Serif',serif;font-size:40.0px">1.5</text>
<path d="M1187.00 614.48L1194.70 614.48" stroke="#000" stroke-width="2.1" fill="none"/>
<text transform="matrix(1.0387 0 0 1.0373 1200.05 629.07)" style="font-family:'Liberation Serif',serif;font-size:40.0px">1.0</text>
<path d="M1187.00 671.41L1194.70 671.41" stroke="#000" stroke-width="2.1" fill="none"/>
<text transform="matrix(0.9954 0 0 1.0373 1202.18 686.01)" style="font-family:'Liberation Serif',serif;font-size:40.0px">0.5</text>
<path d="M1187.00 728.35L1194.70 728.35" stroke="#000" stroke-width="2.1" fill="none"/>
<text transform="matrix(0.9946 0 0 1.0373 1202.18 742.94)" style="font-family:'Liberation Serif',serif;font-size:40.0px">0.0</text>
<text style="font-family:'Liberation Serif',serif"><tspan x="1142.67" y="474.37" style="font-size:40.79px;font-style:italic">u</tspan><tspan x="1165.80" y="484.05" style="font-size:61.89px">/</tspan><tspan x="1182.09" y="474.42" style="font-size:43.79px;font-style:italic">U</tspan><tspan x="1210.67" y="480.57" style="font-size:29.14px;font-style:italic">b</tspan></text>
<rect x="1454.10" y="500.75" width="406.00" height="227.65" fill="none" stroke="#000" stroke-width="2.0"/>
<path d="M1604.80 728.40L1604.80 736.60" stroke="#000" stroke-width="2.1" fill="none"/>
<text transform="matrix(1.0040 0 0 1.0299 1579.97 772.95)" style="font-family:'Liberation Serif',serif;font-size:40.0px">0.5</text>
<path d="M1757.70 728.40L1757.70 736.60" stroke="#000" stroke-width="2.1" fill="none"/>
<text transform="matrix(1.0075 0 0 1.0299 1732.66 772.95)" style="font-family:'Liberation Serif',serif;font-size:40.0px">1.0</text>
<path d="M1445.80 575.55L1454.10 575.55" stroke="#000" stroke-width="2.1" fill="none"/>
<text transform="matrix(0.9828 0 0 1.0262 1370.05 590.85)" style="font-family:'Liberation Serif',serif;font-size:40.0px">0.50</text>
<path d="M1445.80 653.35L1454.10 653.35" stroke="#000" stroke-width="2.1" fill="none"/>
<text transform="matrix(0.9834 0 0 1.0262 1370.05 668.65)" style="font-family:'Liberation Serif',serif;font-size:40.0px">0.25</text>
<text transform="matrix(0.9320 0 0 1.0225 1421.18 760.25)" style="font-family:'Liberation Serif',serif;font-size:40.0px">0</text>
<text style="font-family:'Liberation Serif',serif"><tspan x="1615.13" y="804.18" style="font-size:39.72px;font-style:italic">y</tspan><tspan x="1633.91" y="813.74" style="font-size:62.19px">/</tspan><tspan x="1655.56" y="803.87" style="font-size:42.94px;font-style:italic">D</tspan><tspan x="1687.41" y="810.75" style="font-size:30.27px;font-style:italic">h</tspan></text>
<text transform="translate(1341.20 668.35) rotate(-90)" style="font-family:'Liberation Serif',serif"><tspan x="0.95" y="0.00" style="font-size:41.40px;font-style:italic">z</tspan><tspan x="20.30" y="9.40" style="font-size:61.89px">/</tspan><tspan x="41.56" y="-0.08" style="font-size:43.09px;font-style:italic">D</tspan><tspan x="74.41" y="6.60" style="font-size:29.69px;font-style:italic">h</tspan></text>
<rect x="1896.00" y="500.70" width="17.10" height="227.80" fill="url(#gc2)" stroke="#000" stroke-width="2.0"/>
<path d="M1913.10 500.70L1920.90 500.70" stroke="#000" stroke-width="2.1" fill="none"/>
<path d="M1913.10 557.65L1920.90 557.65" stroke="#000" stroke-width="2.1" fill="none"/>
<path d="M1913.10 614.60L1920.90 614.60" stroke="#000" stroke-width="2.1" fill="none"/>
<path d="M1913.10 671.55L1920.90 671.55" stroke="#000" stroke-width="2.1" fill="none"/>
<path d="M1913.10 728.50L1920.90 728.50" stroke="#000" stroke-width="2.1" fill="none"/>
<text transform="matrix(1.0030 0 0 1.0410 1927.88 515.24)" style="font-family:'Liberation Serif',serif;font-size:40.0px">3.0</text>
<text transform="matrix(0.9750 0 0 1.0299 1929.07 568.65)" style="font-family:'Liberation Serif',serif;font-size:40.0px">1.5</text>
<text transform="matrix(0.9946 0 0 1.0447 1928.28 626.14)" style="font-family:'Liberation Serif',serif;font-size:40.0px">0.0</text>
<text style="font-family:'Liberation Serif',serif"><tspan x="1929.21" y="690.76" style="font-size:53.94px">&#8722;</tspan><tspan x="1959.56" y="683.94" style="font-size:41.79px">1.5</tspan></text>
<text style="font-family:'Liberation Serif',serif"><tspan x="1929.21" y="747.06" style="font-size:53.94px">&#8722;</tspan><tspan x="1959.32" y="739.64" style="font-size:41.64px">3.0</tspan></text>
<text style="font-family:'Liberation Serif',serif"><tspan x="1871.28" y="473.75" style="font-size:41.17px;font-style:italic">v</tspan><tspan x="1892.75" y="482.95" style="font-size:61.89px">/</tspan><tspan x="1908.62" y="474.12" style="font-size:44.54px;font-style:italic">U</tspan><tspan x="1937.77" y="479.67" style="font-size:28.71px;font-style:italic">b</tspan></text>
<text style="font-family:'Liberation Serif',serif"><tspan x="1757.08" y="500.08" style="font-size:49.11px">&#215;</tspan><tspan x="1780.50" y="494.95" style="font-size:43.02px">1</tspan><tspan x="1799.91" y="495.13" style="font-size:42.98px">0</tspan><tspan x="1820.94" y="483.85" style="font-size:36.14px">&#8722;</tspan><tspan x="1841.54" y="479.75" style="font-size:30.39px">4</tspan></text>
<text transform="matrix(0.8919 0 0 0.9226 975.42 868.89)" style="font-family:'Liberation Sans',sans-serif;font-size:40.0px;font-weight:bold">(b)</text>
</svg>
</body></html>
